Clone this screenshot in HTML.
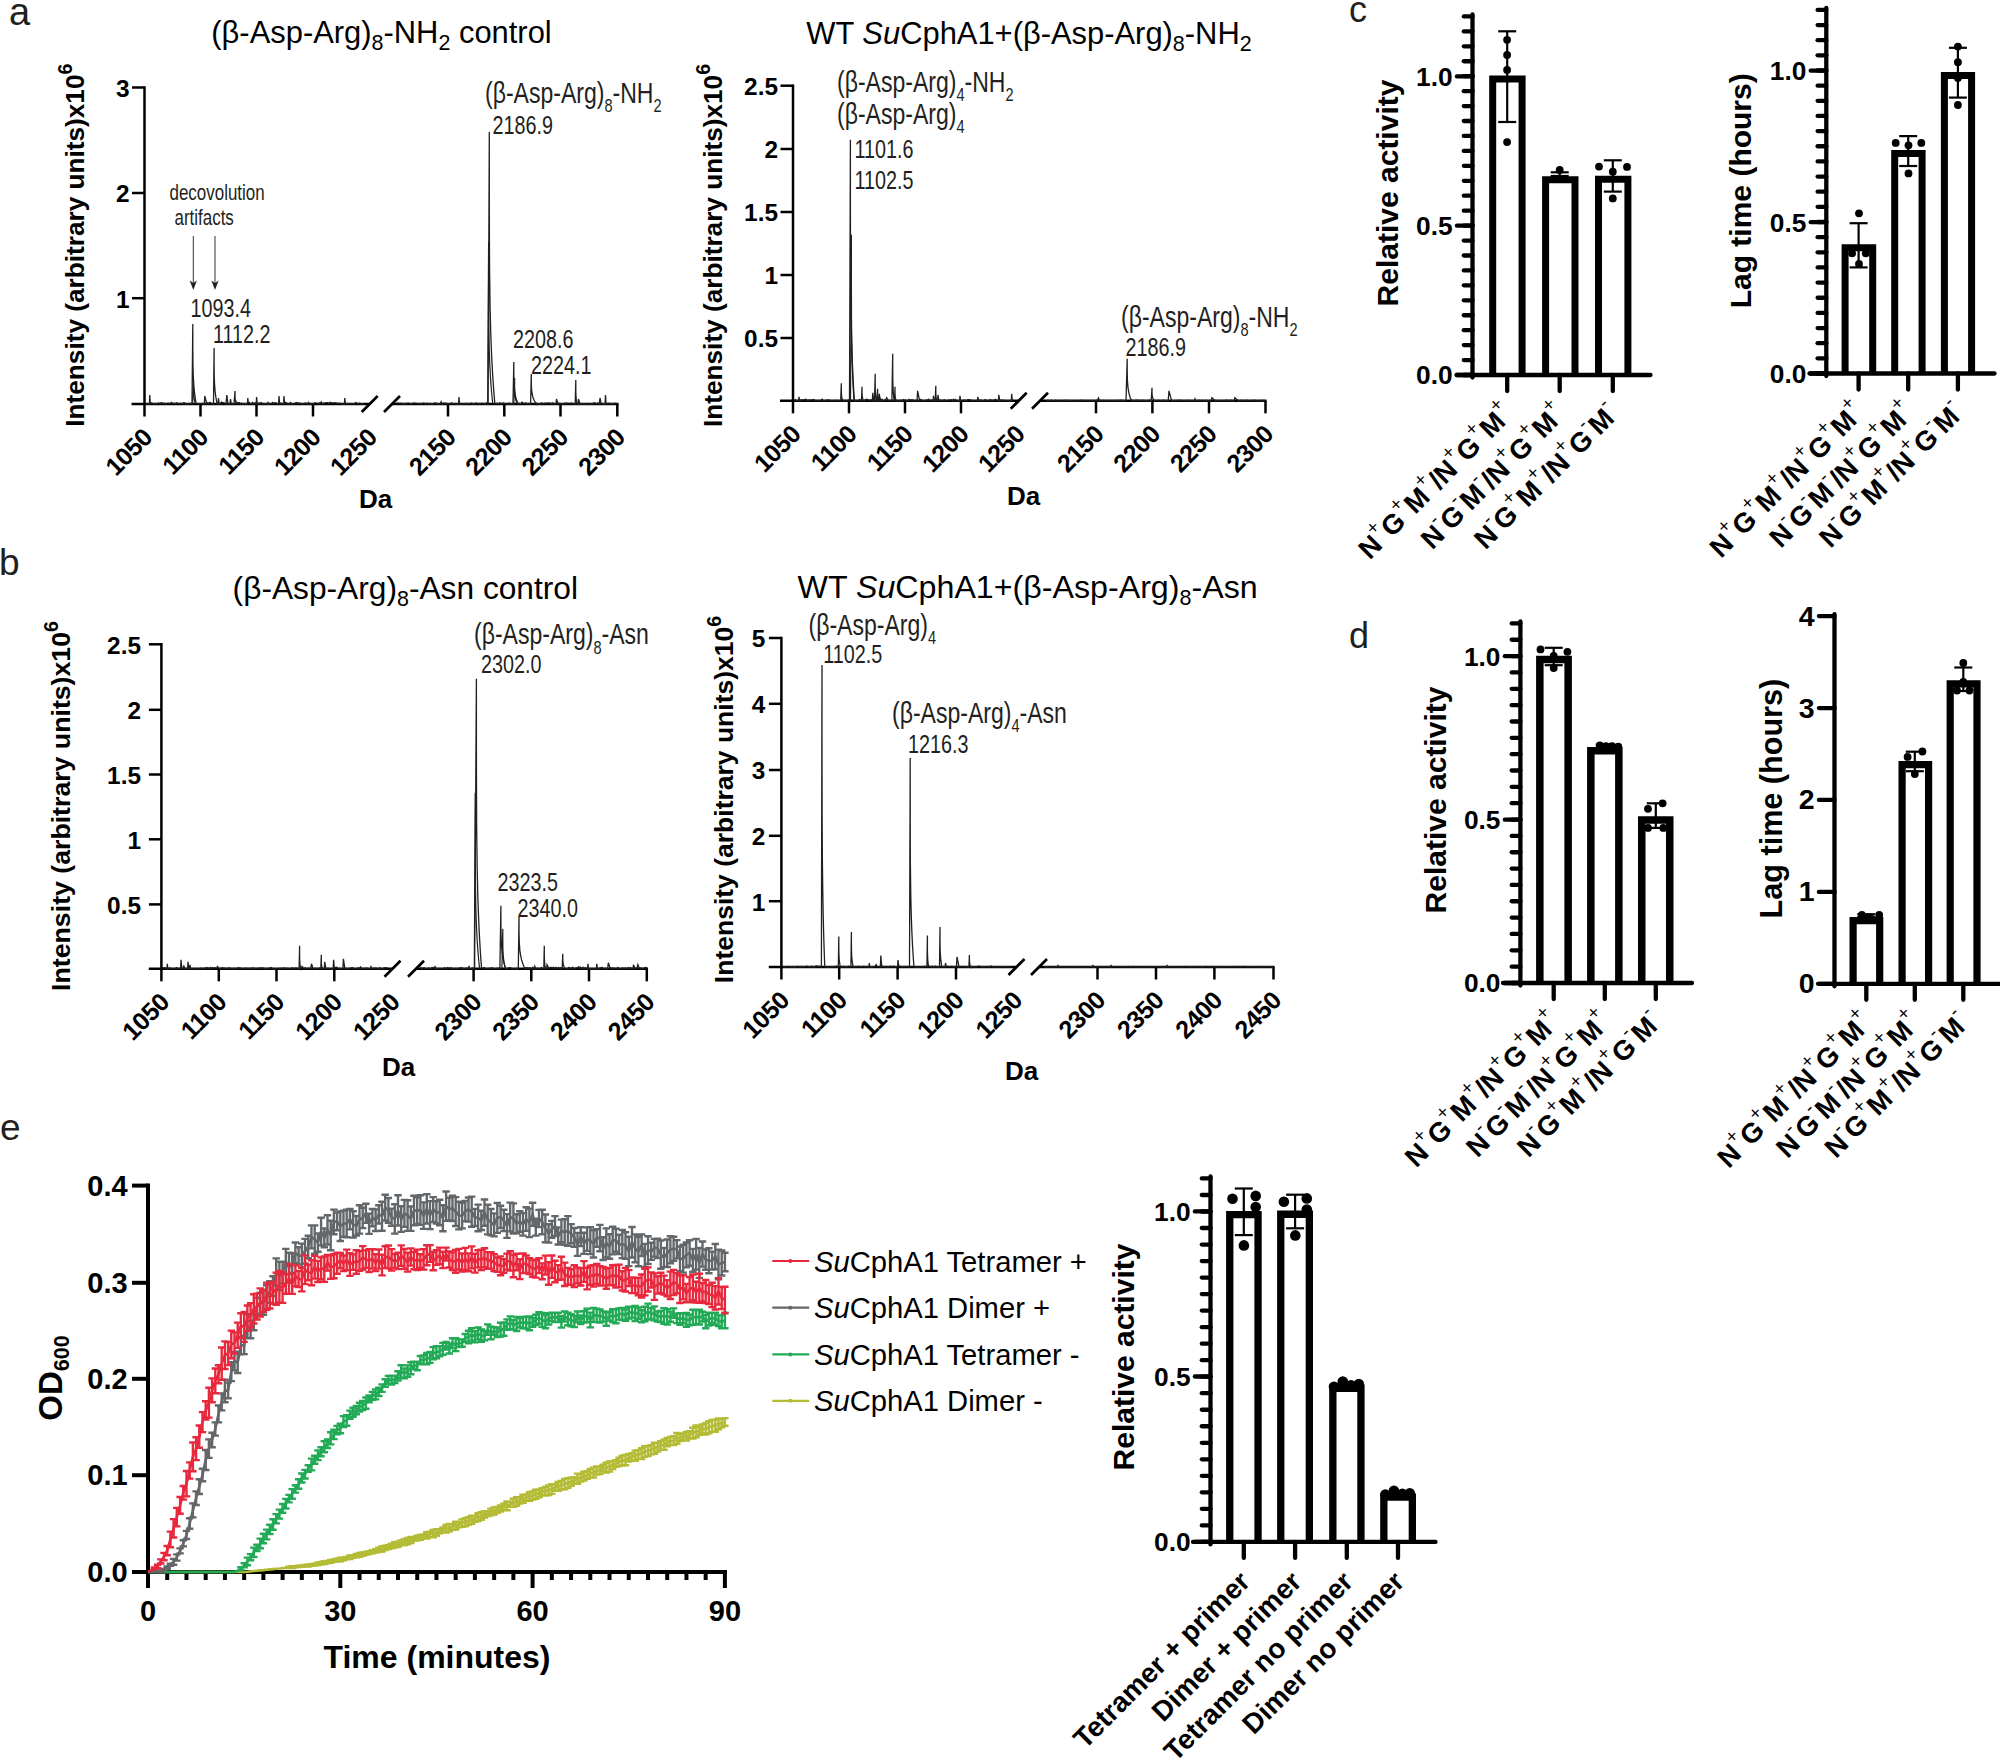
<!DOCTYPE html>
<html><head><meta charset="utf-8"><title>Figure</title>
<style>
html,body{margin:0;padding:0;background:#fff;}
svg{display:block;font-family:'Liberation Sans', sans-serif;}
</style></head>
<body>
<svg width="2000" height="1759" viewBox="0 0 2000 1759">
<rect width="2000" height="1759" fill="#fff"/>
<text transform="translate(9.00 24.50)" font-size="38" font-weight="normal" text-anchor="start" fill="#231f20" >a</text>
<text transform="translate(-1.00 575.00)" font-size="37" font-weight="normal" text-anchor="start" fill="#231f20" >b</text>
<text transform="translate(1349.00 21.50)" font-size="36" font-weight="normal" text-anchor="start" fill="#231f20" >c</text>
<text transform="translate(1349.00 648.00)" font-size="36" font-weight="normal" text-anchor="start" fill="#231f20" >d</text>
<text transform="translate(0.00 1139.50)" font-size="37" font-weight="normal" text-anchor="start" fill="#231f20" >e</text>
<line x1="144.50" y1="86.25" x2="144.50" y2="405.25" stroke="#000" stroke-width="2.5" stroke-linecap="butt"/>
<line x1="131.50" y1="404.00" x2="369.70" y2="404.00" stroke="#000" stroke-width="2.5" stroke-linecap="butt"/>
<line x1="392.00" y1="404.00" x2="618.50" y2="404.00" stroke="#000" stroke-width="2.5" stroke-linecap="butt"/>
<line x1="361.70" y1="412.00" x2="377.70" y2="396.00" stroke="#000" stroke-width="2.7" stroke-linecap="butt"/>
<line x1="384.00" y1="412.00" x2="400.00" y2="396.00" stroke="#000" stroke-width="2.7" stroke-linecap="butt"/>
<line x1="144.50" y1="404.00" x2="144.50" y2="416.50" stroke="#000" stroke-width="2.5" stroke-linecap="butt"/>
<text transform="translate(153.80 439.00) rotate(-45)" font-size="25" font-weight="bold" text-anchor="end" fill="#000" letter-spacing="-0.5">1050</text>
<line x1="200.50" y1="404.00" x2="200.50" y2="416.50" stroke="#000" stroke-width="2.5" stroke-linecap="butt"/>
<text transform="translate(209.80 439.00) rotate(-45)" font-size="25" font-weight="bold" text-anchor="end" fill="#000" letter-spacing="-0.5">1100</text>
<line x1="256.50" y1="404.00" x2="256.50" y2="416.50" stroke="#000" stroke-width="2.5" stroke-linecap="butt"/>
<text transform="translate(265.80 439.00) rotate(-45)" font-size="25" font-weight="bold" text-anchor="end" fill="#000" letter-spacing="-0.5">1150</text>
<line x1="313.00" y1="404.00" x2="313.00" y2="416.50" stroke="#000" stroke-width="2.5" stroke-linecap="butt"/>
<text transform="translate(322.30 439.00) rotate(-45)" font-size="25" font-weight="bold" text-anchor="end" fill="#000" letter-spacing="-0.5">1200</text>
<text transform="translate(378.50 439.00) rotate(-45)" font-size="25" font-weight="bold" text-anchor="end" fill="#000" letter-spacing="-0.5">1250</text>
<line x1="448.00" y1="404.00" x2="448.00" y2="416.50" stroke="#000" stroke-width="2.5" stroke-linecap="butt"/>
<text transform="translate(457.30 439.00) rotate(-45)" font-size="25" font-weight="bold" text-anchor="end" fill="#000" letter-spacing="-0.5">2150</text>
<line x1="504.30" y1="404.00" x2="504.30" y2="416.50" stroke="#000" stroke-width="2.5" stroke-linecap="butt"/>
<text transform="translate(513.60 439.00) rotate(-45)" font-size="25" font-weight="bold" text-anchor="end" fill="#000" letter-spacing="-0.5">2200</text>
<line x1="560.50" y1="404.00" x2="560.50" y2="416.50" stroke="#000" stroke-width="2.5" stroke-linecap="butt"/>
<text transform="translate(569.80 439.00) rotate(-45)" font-size="25" font-weight="bold" text-anchor="end" fill="#000" letter-spacing="-0.5">2250</text>
<line x1="617.30" y1="404.00" x2="617.30" y2="416.50" stroke="#000" stroke-width="2.5" stroke-linecap="butt"/>
<text transform="translate(626.60 439.00) rotate(-45)" font-size="25" font-weight="bold" text-anchor="end" fill="#000" letter-spacing="-0.5">2300</text>
<line x1="132.00" y1="87.50" x2="144.50" y2="87.50" stroke="#000" stroke-width="2.5" stroke-linecap="butt"/>
<text transform="translate(129.50 96.90)" font-size="24.4" font-weight="bold" text-anchor="end" fill="#000" >3</text>
<line x1="132.00" y1="193.00" x2="144.50" y2="193.00" stroke="#000" stroke-width="2.5" stroke-linecap="butt"/>
<text transform="translate(129.50 202.40)" font-size="24.4" font-weight="bold" text-anchor="end" fill="#000" >2</text>
<line x1="132.00" y1="298.20" x2="144.50" y2="298.20" stroke="#000" stroke-width="2.5" stroke-linecap="butt"/>
<text transform="translate(129.50 307.60)" font-size="24.4" font-weight="bold" text-anchor="end" fill="#000" >1</text>
<text transform="translate(84.30 245.20) rotate(-90)" font-size="26.2" font-weight="bold" text-anchor="middle" fill="#000" >Intensity (arbitrary units)x10<tspan font-size="19.5" dy="-12">6</tspan></text>
<text transform="translate(375.50 508.00)" font-size="26" font-weight="bold" text-anchor="middle" fill="#000" >Da</text>
<text transform="translate(381.50 43.00)" font-size="30.9" font-weight="normal" text-anchor="middle" fill="#000" >(β-Asp-Arg)<tspan font-size="21.5" dy="7">8</tspan><tspan dy="-7">&#8203;</tspan>-NH<tspan font-size="21.5" dy="7">2</tspan><tspan dy="-7">&#8203;</tspan> control</text>
<path d="M146.0 404.0L146.0 404.0L147.3 404.0L149.4 404.0L149.8 395.0L150.3 404.0L150.3 402.7L151.0 403.3L151.6 402.8L153.1 404.0L154.3 403.4L155.3 404.0L156.4 403.6L157.2 403.5L158.6 403.0L160.1 403.8L161.4 402.5L162.8 403.5L164.3 403.2L164.9 404.0L166.0 404.0L167.3 403.4L168.4 403.2L169.4 404.0L170.7 403.1L171.5 402.4L172.7 403.6L174.2 403.3L175.3 404.0L176.7 402.8L177.8 403.3L179.2 403.7L180.3 403.4L181.5 403.3L182.4 404.0L183.8 402.7L184.7 402.9L185.4 404.0L186.3 404.0L187.2 404.0L188.3 404.0L189.6 403.5L190.3 403.3L192.0 404.0L192.8 324.0L192.82 348.0L192.95 364.0L193.29 376.0L193.73 384.0L194.27 390.4L194.81 395.2L195.25 398.4L195.63 400.8L195.90 402.4L196.20 404.0L196.2 403.2L197.4 403.5L198.7 404.0L199.9 403.6L201.3 403.6L202.3 403.5L203.0 404.0L204.3 404.0L204.8 396.0L206.8 404.0L206.8 404.0L207.7 402.8L208.6 404.0L209.3 402.5L210.1 402.4L211.2 403.4L213.5 404.0L214.1 348.0L214.11 364.8L214.24 376.0L214.56 384.4L214.98 390.0L215.48 394.5L215.99 397.8L216.41 400.1L216.76 401.8L217.02 402.9L217.30 404.0L218.1 404.0L218.5 398.0L219.1 404.0L219.1 403.7L220.3 404.0L221.3 402.0L222.2 402.7L223.1 402.7L224.1 402.9L226.0 404.0L226.8 395.0L228.0 404.0L228.0 404.0L228.7 404.0L230.0 404.0L230.5 399.0L231.3 404.0L231.3 403.0L232.3 404.0L234.0 404.0L235.0 391.0L235.01 394.9L235.08 397.5L235.26 399.4L235.49 400.8L235.78 401.8L236.07 402.6L236.30 403.1L236.50 403.5L236.64 403.7L236.80 404.0L236.8 402.5L237.6 403.8L238.3 402.7L239.3 402.7L240.4 404.0L241.3 403.1L242.4 404.0L243.8 404.0L244.5 404.0L245.2 404.0L246.2 404.0L247.4 404.0L247.8 398.0L248.4 404.0L248.4 403.8L249.4 402.5L250.3 403.8L251.0 404.0L251.9 403.3L252.6 402.4L253.4 404.0L254.9 402.9L256.2 404.0L256.6 397.0L257.2 404.0L257.2 403.5L257.9 404.0L259.0 403.0L260.0 404.0L260.9 402.6L261.9 403.1L262.8 404.0L263.5 403.9L264.7 404.0L265.8 403.8L267.2 404.0L268.0 402.4L268.9 404.0L270.4 404.0L271.2 403.9L272.6 402.5L273.9 403.7L274.7 402.9L275.4 402.7L276.6 403.3L278.6 404.0L279.0 396.0L279.6 404.0L279.6 404.0L280.8 403.1L281.8 404.0L283.6 404.0L284.0 396.0L284.6 404.0L284.6 403.4L285.8 402.4L286.9 403.3L288.2 404.0L289.3 404.0L290.4 402.5L291.7 404.0L292.8 403.7L294.2 404.0L295.6 402.9L296.8 402.6L298.0 404.0L298.8 402.8L300.1 403.4L300.9 403.9L302.3 403.6L303.8 404.0L305.2 402.9L306.6 403.4L307.7 404.0L308.4 402.5L309.6 403.8L310.5 404.0L311.6 404.0L312.8 403.7L313.9 404.0L314.8 402.7L316.3 403.2L317.6 403.4L318.4 403.8L319.5 402.8L320.3 403.1L321.4 401.8L322.5 404.0L323.8 403.2L324.8 403.2L326.0 402.7L327.5 402.7L328.8 403.5L330.0 402.3L331.1 402.6L332.4 402.8L333.7 403.0L334.7 403.0L336.1 402.8L337.3 404.0L338.5 403.1L339.9 403.3L341.0 403.3L342.3 404.0L344.4 404.0L344.8 398.0L345.4 404.0L345.4 403.4L346.6 404.0L348.0 404.0L349.4 403.4L350.7 404.0L352.0 403.6L352.9 403.7L354.3 404.0L355.8 402.6L357.3 403.5L358.6 403.7L359.4 403.3L360.7 403.6L361.5 404.0L362.5 403.6L363.8 404.0L364.0 404.0" fill="none" stroke="#231f20" stroke-width="1.3" stroke-linejoin="miter"/>
<path d="M398.0 404.0L398.0 402.9L398.7 403.1L399.7 403.3L400.5 403.5L402.0 403.3L402.9 404.0L404.0 404.0L405.4 403.3L406.1 404.0L407.2 403.2L408.6 403.1L410.0 403.6L411.5 404.0L412.8 403.4L414.2 403.0L415.7 403.4L417.2 403.4L418.1 403.8L419.0 403.6L420.3 403.4L421.5 404.0L422.6 403.3L423.9 402.9L425.3 404.0L426.2 404.0L426.9 403.0L427.8 403.5L428.5 403.8L429.2 404.0L429.9 404.0L430.7 404.0L431.7 404.0L432.5 404.0L433.7 403.9L434.3 403.1L435.8 403.0L436.9 404.0L437.8 404.0L439.2 404.0L440.2 403.8L441.1 401.8L441.9 404.0L442.7 404.0L443.8 402.9L444.7 403.7L445.9 403.1L446.9 404.0L448.0 404.0L448.8 404.0L449.7 404.0L450.8 404.0L451.6 402.8L452.6 403.3L453.7 403.8L455.0 403.4L456.2 404.0L457.2 404.0L458.6 404.0L459.0 397.0L459.6 404.0L459.6 404.0L460.9 404.0L461.9 403.8L462.6 404.0L464.1 404.0L464.9 403.5L466.2 403.9L467.0 403.2L468.2 404.0L469.6 403.4L470.6 403.7L471.7 403.0L473.1 404.0L474.2 404.0L475.5 403.3L476.2 402.8L477.2 404.0L478.7 403.2L479.6 404.0L480.9 403.4L482.0 403.1L483.1 403.7L484.2 403.5L485.5 403.8L486.2 402.9L488.1 404.0L489.3 132.0L489.32 213.6L489.55 268.0L490.11 308.8L490.83 336.0L491.72 357.8L492.61 374.1L493.34 385.0L493.96 393.1L494.41 398.6L494.90 404.0L494.9 403.5L496.4 403.4L497.3 403.2L498.7 404.0L499.8 402.8L500.4 403.1L501.7 404.0L503.0 402.9L503.7 403.1L505.0 403.8L505.8 403.5L507.0 403.8L507.7 404.0L509.1 403.1L510.3 404.0L511.4 404.0L513.0 404.0L513.8 362.0L513.82 374.6L513.99 383.0L514.43 389.3L515.01 393.5L515.70 396.9L516.40 399.4L516.97 401.1L517.46 402.3L517.82 403.2L518.20 404.0L518.2 404.0L519.6 403.2L521.0 404.0L522.0 402.0L523.5 403.4L524.5 403.6L525.6 402.9L527.0 404.0L528.4 403.5L529.1 403.5L530.6 404.0L531.3 374.0L531.32 383.0L531.53 389.0L532.05 393.5L532.72 396.5L533.55 398.9L534.38 400.7L535.05 401.9L535.63 402.8L536.05 403.4L536.50 404.0L536.5 403.2L537.4 403.7L538.9 404.0L539.9 403.6L540.9 404.0L541.8 402.9L543.1 403.6L543.9 404.0L544.9 403.0L546.3 403.5L547.3 402.9L548.5 403.1L549.9 403.1L550.9 403.2L551.9 404.0L552.8 402.9L554.3 404.0L556.0 404.0L556.5 399.0L558.0 404.0L558.0 402.9L559.3 403.3L560.7 403.7L561.5 404.0L562.3 404.0L563.1 403.7L564.0 404.0L565.0 403.1L565.8 403.5L566.5 403.0L567.9 403.5L568.9 403.3L570.3 403.3L571.8 403.0L572.8 403.9L575.2 404.0L575.8 380.0L575.81 387.2L575.85 392.0L575.97 395.6L576.13 398.0L576.32 399.9L576.51 401.4L576.67 402.3L576.80 403.0L576.90 403.5L577.00 404.0L578.0 404.0L578.5 399.0L580.0 404.0L580.0 404.0L581.3 403.9L582.6 404.0L583.6 404.0L584.8 404.0L586.1 404.0L586.9 403.3L588.0 404.0L589.5 403.4L590.9 404.0L591.7 404.0L592.6 404.0L593.6 403.0L594.9 402.9L595.6 403.2L596.6 404.0L597.6 403.0L599.2 404.0L600.0 398.0L601.2 404.0L601.2 403.7L602.7 404.0L605.1 404.0L605.5 395.0L606.1 404.0L606.1 404.0L606.9 404.0L608.2 403.1L609.2 404.0L610.6 403.3L611.5 404.0L612.6 404.0L614.1 403.4L615.0 403.2L616.4 403.5L617.0 404.0" fill="none" stroke="#231f20" stroke-width="1.3" stroke-linejoin="miter"/>
<path d="M487.7 404.0L488.6 242.0L488.62 290.6L488.79 323.0L489.20 347.3L489.75 363.5L490.42 376.5L491.09 386.2L491.63 392.7L492.10 397.5L492.44 400.8L492.80 404.0" fill="none" stroke="#231f20" stroke-width="1.2"/>
<path d="M513.8 404.0L514.6 378.0L514.61 385.8L514.71 391.0L514.97 394.9L515.31 397.5L515.72 399.6L516.14 401.1L516.48 402.2L516.76 403.0L516.97 403.5L517.20 404.0" fill="none" stroke="#231f20" stroke-width="1.2"/>
<path d="M192.6 404.0L193.4 378.0L193.41 385.8L193.50 391.0L193.72 394.9L194.00 397.5L194.35 399.6L194.70 401.1L194.99 402.2L195.23 403.0L195.41 403.5L195.60 404.0" fill="none" stroke="#231f20" stroke-width="1.2"/>
<text transform="translate(485.00 102.50) scale(0.8 1)" font-size="28.8" font-weight="normal" text-anchor="start" fill="#231f20" >(β-Asp-Arg)<tspan font-size="18.2" dy="9.4">8</tspan><tspan dy="-9.4">&#8203;</tspan>-NH<tspan font-size="18.2" dy="9.4">2</tspan><tspan dy="-9.4">&#8203;</tspan></text>
<text transform="translate(492.50 133.70) scale(0.775 1)" font-size="25.5" font-weight="normal" text-anchor="start" fill="#231f20" >2186.9</text>
<text transform="translate(169.50 199.50) scale(0.8 1)" font-size="21.2" font-weight="normal" text-anchor="start" fill="#231f20" >decovolution</text>
<text transform="translate(174.50 225.00) scale(0.8 1)" font-size="21.2" font-weight="normal" text-anchor="start" fill="#231f20" >artifacts</text>
<text transform="translate(190.50 317.00) scale(0.775 1)" font-size="25.5" font-weight="normal" text-anchor="start" fill="#231f20" >1093.4</text>
<text transform="translate(213.00 343.00) scale(0.775 1)" font-size="25.5" font-weight="normal" text-anchor="start" fill="#231f20" >1112.2</text>
<text transform="translate(513.00 347.50) scale(0.775 1)" font-size="25.5" font-weight="normal" text-anchor="start" fill="#231f20" >2208.6</text>
<text transform="translate(531.00 374.00) scale(0.775 1)" font-size="25.5" font-weight="normal" text-anchor="start" fill="#231f20" >2224.1</text>
<line x1="193.30" y1="236.00" x2="193.30" y2="283.00" stroke="#231f20" stroke-width="0.9" stroke-linecap="butt"/>
<path d="M189.7 280.5L193.3 290L196.9 280.5L193.3 283Z" fill="#231f20"/>
<line x1="215.00" y1="236.00" x2="215.00" y2="283.00" stroke="#231f20" stroke-width="0.9" stroke-linecap="butt"/>
<path d="M211.4 280.5L215.0 290L218.6 280.5L215.0 283Z" fill="#231f20"/>
<line x1="793.00" y1="84.45" x2="793.00" y2="402.05" stroke="#000" stroke-width="2.5" stroke-linecap="butt"/>
<line x1="780.00" y1="400.80" x2="1018.70" y2="400.80" stroke="#000" stroke-width="2.5" stroke-linecap="butt"/>
<line x1="1040.00" y1="400.80" x2="1266.50" y2="400.80" stroke="#000" stroke-width="2.5" stroke-linecap="butt"/>
<line x1="1010.70" y1="408.80" x2="1026.70" y2="392.80" stroke="#000" stroke-width="2.7" stroke-linecap="butt"/>
<line x1="1032.00" y1="408.80" x2="1048.00" y2="392.80" stroke="#000" stroke-width="2.7" stroke-linecap="butt"/>
<line x1="793.00" y1="400.80" x2="793.00" y2="413.30" stroke="#000" stroke-width="2.5" stroke-linecap="butt"/>
<text transform="translate(802.30 435.80) rotate(-45)" font-size="25" font-weight="bold" text-anchor="end" fill="#000" letter-spacing="-0.5">1050</text>
<line x1="849.00" y1="400.80" x2="849.00" y2="413.30" stroke="#000" stroke-width="2.5" stroke-linecap="butt"/>
<text transform="translate(858.30 435.80) rotate(-45)" font-size="25" font-weight="bold" text-anchor="end" fill="#000" letter-spacing="-0.5">1100</text>
<line x1="905.00" y1="400.80" x2="905.00" y2="413.30" stroke="#000" stroke-width="2.5" stroke-linecap="butt"/>
<text transform="translate(914.30 435.80) rotate(-45)" font-size="25" font-weight="bold" text-anchor="end" fill="#000" letter-spacing="-0.5">1150</text>
<line x1="961.00" y1="400.80" x2="961.00" y2="413.30" stroke="#000" stroke-width="2.5" stroke-linecap="butt"/>
<text transform="translate(970.30 435.80) rotate(-45)" font-size="25" font-weight="bold" text-anchor="end" fill="#000" letter-spacing="-0.5">1200</text>
<text transform="translate(1026.30 435.80) rotate(-45)" font-size="25" font-weight="bold" text-anchor="end" fill="#000" letter-spacing="-0.5">1250</text>
<line x1="1096.00" y1="400.80" x2="1096.00" y2="413.30" stroke="#000" stroke-width="2.5" stroke-linecap="butt"/>
<text transform="translate(1105.30 435.80) rotate(-45)" font-size="25" font-weight="bold" text-anchor="end" fill="#000" letter-spacing="-0.5">2150</text>
<line x1="1152.40" y1="400.80" x2="1152.40" y2="413.30" stroke="#000" stroke-width="2.5" stroke-linecap="butt"/>
<text transform="translate(1161.70 435.80) rotate(-45)" font-size="25" font-weight="bold" text-anchor="end" fill="#000" letter-spacing="-0.5">2200</text>
<line x1="1209.00" y1="400.80" x2="1209.00" y2="413.30" stroke="#000" stroke-width="2.5" stroke-linecap="butt"/>
<text transform="translate(1218.30 435.80) rotate(-45)" font-size="25" font-weight="bold" text-anchor="end" fill="#000" letter-spacing="-0.5">2250</text>
<line x1="1265.50" y1="400.80" x2="1265.50" y2="413.30" stroke="#000" stroke-width="2.5" stroke-linecap="butt"/>
<text transform="translate(1274.80 435.80) rotate(-45)" font-size="25" font-weight="bold" text-anchor="end" fill="#000" letter-spacing="-0.5">2300</text>
<line x1="780.50" y1="85.70" x2="793.00" y2="85.70" stroke="#000" stroke-width="2.5" stroke-linecap="butt"/>
<text transform="translate(778.00 95.10)" font-size="24.4" font-weight="bold" text-anchor="end" fill="#000" >2.5</text>
<line x1="780.50" y1="149.00" x2="793.00" y2="149.00" stroke="#000" stroke-width="2.5" stroke-linecap="butt"/>
<text transform="translate(778.00 158.40)" font-size="24.4" font-weight="bold" text-anchor="end" fill="#000" >2</text>
<line x1="780.50" y1="212.00" x2="793.00" y2="212.00" stroke="#000" stroke-width="2.5" stroke-linecap="butt"/>
<text transform="translate(778.00 221.40)" font-size="24.4" font-weight="bold" text-anchor="end" fill="#000" >1.5</text>
<line x1="780.50" y1="275.00" x2="793.00" y2="275.00" stroke="#000" stroke-width="2.5" stroke-linecap="butt"/>
<text transform="translate(778.00 284.40)" font-size="24.4" font-weight="bold" text-anchor="end" fill="#000" >1</text>
<line x1="780.50" y1="338.00" x2="793.00" y2="338.00" stroke="#000" stroke-width="2.5" stroke-linecap="butt"/>
<text transform="translate(778.00 347.40)" font-size="24.4" font-weight="bold" text-anchor="end" fill="#000" >0.5</text>
<text transform="translate(721.70 245.50) rotate(-90)" font-size="26.2" font-weight="bold" text-anchor="middle" fill="#000" >Intensity (arbitrary units)x10<tspan font-size="19.5" dy="-12">6</tspan></text>
<text transform="translate(1023.50 505.00)" font-size="26" font-weight="bold" text-anchor="middle" fill="#000" >Da</text>
<text transform="translate(1029.00 43.50)" font-size="30.9" font-weight="normal" text-anchor="middle" fill="#000" >WT <tspan font-style="italic">Su</tspan>CphA1+(β-Asp-Arg)<tspan font-size="21.5" dy="7">8</tspan><tspan dy="-7">&#8203;</tspan>-NH<tspan font-size="21.5" dy="7">2</tspan><tspan dy="-7">&#8203;</tspan></text>
<path d="M794.5 400.8L794.5 400.8L795.5 399.9L796.2 400.4L798.6 400.8L799.0 396.8L799.6 400.8L799.6 399.5L800.8 400.8L802.2 399.7L803.0 399.9L803.6 400.1L805.1 399.4L806.4 399.4L807.2 400.8L808.7 399.9L809.8 400.3L811.0 399.8L812.4 399.8L813.8 399.4L815.1 400.8L816.3 400.8L817.7 400.7L818.7 400.8L820.0 400.7L820.7 400.3L822.3 399.3L823.0 400.8L824.0 400.6L825.4 400.8L826.9 400.1L828.1 400.0L829.6 400.2L830.5 400.8L831.6 400.8L832.8 400.8L834.0 400.8L835.0 400.3L836.3 400.8L837.6 400.4L838.8 400.8L840.7 400.8L841.3 383.3L841.31 388.6L841.36 392.1L841.50 394.7L841.68 396.4L841.91 397.8L842.13 398.9L842.31 399.6L842.47 400.1L842.58 400.4L842.70 400.8L842.7 399.9L843.7 400.8L845.0 400.8L846.4 400.8L847.4 400.6L848.4 400.1L849.5 400.8L850.4 139.8L850.42 218.1L850.58 270.3L850.98 309.5L851.50 335.6L852.13 356.4L852.77 372.1L853.29 382.5L853.73 390.4L854.05 395.6L854.40 400.8L854.4 400.8L855.8 400.5L857.0 400.8L858.4 400.8L859.7 399.6L861.5 400.8L862.0 386.8L862.01 391.0L862.07 393.8L862.23 395.9L862.44 397.3L862.69 398.4L862.95 399.3L863.15 399.8L863.33 400.2L863.46 400.5L863.60 400.8L863.6 400.8L864.5 400.8L865.5 399.4L866.2 399.5L867.2 399.4L868.6 399.8L869.5 400.8L870.2 400.4L870.9 399.8L872.3 400.8L872.8 392.8L873.6 400.8L874.5 400.8L875.2 373.8L875.21 381.9L875.26 387.3L875.39 391.4L875.56 394.1L875.76 396.2L875.97 397.8L876.14 398.9L876.28 399.7L876.39 400.3L876.50 400.8L877.1 400.8L877.6 388.8L877.60 392.4L877.64 394.8L877.72 396.6L877.82 397.8L877.95 398.8L878.07 399.5L878.18 400.0L878.27 400.3L878.33 400.6L878.40 400.8L878.9 400.8L879.3 393.8L880.1 400.8L880.1 397.7L880.9 400.8L882.0 399.4L883.0 400.8L884.1 400.3L885.2 400.5L886.7 397.7L888.1 400.8L889.0 400.2L890.3 400.8L891.9 400.8L892.7 353.8L892.71 367.9L892.77 377.3L892.92 384.4L893.11 389.1L893.35 392.8L893.59 395.6L893.78 397.5L893.95 398.9L894.07 399.9L894.20 400.8L894.7 400.8L895.0 386.8L895.01 391.0L895.05 393.8L895.17 395.9L895.33 397.3L895.52 398.4L895.71 399.3L895.87 399.8L896.00 400.2L896.10 400.5L896.20 400.8L896.2 400.8L897.7 400.7L898.7 400.8L899.9 400.3L900.8 400.8L902.1 400.7L903.1 399.6L904.5 400.2L905.6 400.2L906.6 400.8L907.9 400.8L908.9 399.4L910.4 400.4L911.2 399.8L912.5 399.7L913.3 400.8L914.6 400.8L915.4 400.5L917.1 400.8L917.6 390.8L919.6 400.8L919.6 400.8L920.9 399.4L922.2 400.8L923.3 400.6L924.8 400.8L926.0 400.4L926.8 399.7L927.8 400.3L928.6 399.3L929.9 400.8L931.2 400.0L933.1 400.8L933.5 395.8L934.1 400.8L935.2 400.8L935.8 385.8L935.80 390.3L935.84 393.3L935.94 395.6L936.07 397.1L936.23 398.2L936.39 399.2L936.52 399.8L936.63 400.2L936.71 400.5L936.80 400.8L937.6 400.8L938.0 394.8L938.8 400.8L938.8 400.6L940.1 400.0L941.4 400.8L942.2 400.3L943.5 400.4L944.5 399.9L945.4 400.8L946.4 400.8L947.3 400.6L948.4 400.1L949.8 400.1L951.2 399.7L952.3 400.8L953.6 399.4L954.4 400.8L955.3 399.5L956.2 400.3L957.5 400.8L959.6 400.8L960.0 395.8L960.6 400.8L960.6 400.8L961.8 400.8L962.8 400.5L964.3 400.0L965.2 400.6L966.7 400.8L967.7 399.7L968.9 399.6L970.2 399.8L971.0 400.3L972.3 400.5L973.5 400.8L974.7 400.8L975.5 400.8L977.4 400.8L977.8 396.8L978.8 400.8L978.8 399.8L979.7 400.8L981.0 400.0L982.0 400.8L983.4 400.8L984.3 400.3L985.3 399.6L986.7 400.8L987.5 400.8L988.8 400.8L989.8 399.6L991.0 400.8L991.8 399.9L992.7 400.8L994.1 400.2L995.3 399.3L996.2 400.1L998.4 400.8L998.8 394.8L999.8 400.8L999.8 400.8L1001.0 400.0L1001.9 400.7L1003.1 400.0L1004.5 400.8L1005.8 400.8L1006.6 400.8L1008.1 400.8L1009.4 400.8L1011.3 400.8L1011.7 393.8L1012.3 400.8L1012.3 399.7L1013.0 400.8" fill="none" stroke="#231f20" stroke-width="1.3" stroke-linejoin="miter"/>
<path d="M1046.0 400.8L1046.0 400.8L1047.0 400.8L1048.0 400.3L1048.9 400.6L1049.6 400.8L1051.0 400.3L1052.0 400.4L1053.4 400.8L1054.6 400.7L1055.4 400.3L1056.3 400.5L1057.7 400.6L1058.7 400.8L1060.1 400.8L1061.3 400.8L1062.4 400.8L1063.2 400.7L1064.1 400.4L1065.3 400.7L1066.2 400.4L1067.1 400.8L1067.8 400.3L1069.1 400.8L1070.6 400.6L1071.8 400.6L1072.9 400.8L1074.4 400.8L1075.1 400.8L1076.1 400.8L1077.6 400.7L1078.3 400.8L1079.1 400.8L1080.0 400.7L1081.3 400.2L1082.2 400.8L1083.1 400.3L1083.7 400.8L1084.6 400.8L1085.4 400.8L1086.5 400.6L1087.8 400.4L1088.5 400.8L1090.0 400.6L1091.3 400.3L1092.6 400.6L1094.1 400.8L1095.6 400.8L1096.3 400.4L1097.1 400.5L1098.6 398.0L1099.3 400.7L1100.6 400.5L1101.5 400.6L1102.8 400.5L1103.5 400.5L1104.7 400.8L1106.0 400.8L1107.4 400.8L1108.4 400.6L1109.5 400.7L1110.7 400.5L1112.1 400.8L1113.0 400.8L1114.0 400.7L1114.8 400.8L1115.8 400.3L1116.4 400.8L1117.5 400.5L1118.4 400.6L1119.9 400.4L1120.9 400.5L1121.8 400.3L1122.8 400.8L1123.8 400.7L1124.6 400.7L1126.0 400.8L1127.2 358.8L1127.22 371.4L1127.39 379.8L1127.83 386.1L1128.41 390.3L1129.10 393.7L1129.80 396.2L1130.37 397.9L1130.86 399.1L1131.22 400.0L1131.60 400.8L1131.6 400.6L1132.3 400.2L1133.6 400.8L1134.3 400.8L1135.6 400.3L1136.4 400.5L1137.9 400.2L1139.2 400.4L1140.6 400.8L1141.6 400.3L1142.5 400.8L1143.7 400.3L1144.7 400.6L1145.4 400.8L1146.7 400.6L1147.9 400.8L1149.4 400.2L1151.2 400.8L1152.0 387.8L1152.01 391.7L1152.10 394.3L1152.32 396.2L1152.60 397.6L1152.95 398.6L1153.30 399.4L1153.59 399.9L1153.83 400.3L1154.01 400.5L1154.20 400.8L1154.2 400.8L1155.1 400.3L1155.8 400.8L1157.3 400.8L1158.6 400.2L1159.7 400.8L1160.4 400.8L1161.1 400.6L1162.4 400.4L1163.8 400.5L1165.1 400.5L1166.5 400.8L1168.2 400.8L1169.0 390.8L1171.6 400.8L1171.6 400.8L1172.9 400.6L1173.9 400.8L1174.6 400.7L1176.0 400.7L1177.1 400.7L1178.6 400.2L1179.6 400.3L1180.3 400.3L1181.6 400.4L1182.8 400.8L1184.0 400.8L1185.2 400.8L1186.7 400.3L1188.0 400.5L1188.9 400.8L1190.0 400.4L1190.9 400.8L1192.3 400.7L1194.5 400.8L1195.0 398.8L1196.0 400.8L1196.0 400.8L1197.2 400.8L1197.9 400.7L1199.3 400.3L1200.3 400.8L1201.9 400.3L1203.1 400.4L1203.9 400.8L1205.4 400.8L1206.4 400.3L1207.6 400.8L1208.3 400.8L1209.8 400.8L1211.0 400.8L1212.0 397.8L1215.0 400.8L1215.0 400.7L1215.8 400.4L1216.9 400.8L1218.0 400.7L1219.4 400.8L1220.3 400.4L1221.1 400.7L1221.7 400.7L1222.4 400.8L1224.0 400.6L1224.8 400.8L1226.3 400.2L1227.7 400.4L1228.5 400.8L1229.6 400.5L1230.9 400.3L1231.7 400.8L1232.8 400.8L1234.0 400.8L1235.0 397.8L1238.0 400.8L1238.0 400.4L1238.8 400.8L1239.7 400.8L1241.1 400.2L1241.8 400.8L1242.8 400.8L1243.8 400.5L1244.5 400.4L1245.3 400.8L1246.7 400.2L1247.5 400.4L1248.8 400.8L1250.2 400.8L1251.0 400.8L1252.0 400.7L1253.2 400.2L1254.1 400.8L1255.2 400.3L1256.3 400.8L1257.5 400.7L1258.7 400.8L1260.1 400.8L1261.5 400.5L1262.2 400.3L1263.3 400.8L1264.8 400.6L1265.0 400.8" fill="none" stroke="#231f20" stroke-width="1.3" stroke-linejoin="miter"/>
<path d="M850.5 400.8L851.4 234.8L851.41 284.6L851.51 317.8L851.77 342.7L852.11 359.3L852.52 372.6L852.94 382.5L853.28 389.2L853.56 394.2L853.77 397.5L854.00 400.8" fill="none" stroke="#231f20" stroke-width="1.2"/>
<text transform="translate(837.00 91.50) scale(0.8 1)" font-size="28.8" font-weight="normal" text-anchor="start" fill="#231f20" >(β-Asp-Arg)<tspan font-size="18.2" dy="9.4">4</tspan><tspan dy="-9.4">&#8203;</tspan>-NH<tspan font-size="18.2" dy="9.4">2</tspan><tspan dy="-9.4">&#8203;</tspan></text>
<text transform="translate(837.00 123.50) scale(0.8 1)" font-size="28.8" font-weight="normal" text-anchor="start" fill="#231f20" >(β-Asp-Arg)<tspan font-size="18.2" dy="9.4">4</tspan><tspan dy="-9.4">&#8203;</tspan></text>
<text transform="translate(854.50 158.00) scale(0.775 1)" font-size="25.5" font-weight="normal" text-anchor="start" fill="#231f20" >1101.6</text>
<text transform="translate(854.50 188.50) scale(0.775 1)" font-size="25.5" font-weight="normal" text-anchor="start" fill="#231f20" >1102.5</text>
<text transform="translate(1121.00 327.00) scale(0.8 1)" font-size="28.8" font-weight="normal" text-anchor="start" fill="#231f20" >(β-Asp-Arg)<tspan font-size="18.2" dy="9.4">8</tspan><tspan dy="-9.4">&#8203;</tspan>-NH<tspan font-size="18.2" dy="9.4">2</tspan><tspan dy="-9.4">&#8203;</tspan></text>
<text transform="translate(1125.50 355.50) scale(0.775 1)" font-size="25.5" font-weight="normal" text-anchor="start" fill="#231f20" >2186.9</text>
<line x1="161.40" y1="643.05" x2="161.40" y2="970.05" stroke="#000" stroke-width="2.5" stroke-linecap="butt"/>
<line x1="148.80" y1="968.80" x2="392.50" y2="968.80" stroke="#000" stroke-width="2.5" stroke-linecap="butt"/>
<line x1="416.00" y1="968.80" x2="648.00" y2="968.80" stroke="#000" stroke-width="2.5" stroke-linecap="butt"/>
<line x1="384.50" y1="976.80" x2="400.50" y2="960.80" stroke="#000" stroke-width="2.7" stroke-linecap="butt"/>
<line x1="408.00" y1="976.80" x2="424.00" y2="960.80" stroke="#000" stroke-width="2.7" stroke-linecap="butt"/>
<line x1="161.40" y1="968.80" x2="161.40" y2="981.30" stroke="#000" stroke-width="2.5" stroke-linecap="butt"/>
<text transform="translate(170.70 1003.80) rotate(-45)" font-size="25" font-weight="bold" text-anchor="end" fill="#000" letter-spacing="-0.5">1050</text>
<line x1="218.80" y1="968.80" x2="218.80" y2="981.30" stroke="#000" stroke-width="2.5" stroke-linecap="butt"/>
<text transform="translate(228.10 1003.80) rotate(-45)" font-size="25" font-weight="bold" text-anchor="end" fill="#000" letter-spacing="-0.5">1100</text>
<line x1="276.50" y1="968.80" x2="276.50" y2="981.30" stroke="#000" stroke-width="2.5" stroke-linecap="butt"/>
<text transform="translate(285.80 1003.80) rotate(-45)" font-size="25" font-weight="bold" text-anchor="end" fill="#000" letter-spacing="-0.5">1150</text>
<line x1="334.30" y1="968.80" x2="334.30" y2="981.30" stroke="#000" stroke-width="2.5" stroke-linecap="butt"/>
<text transform="translate(343.60 1003.80) rotate(-45)" font-size="25" font-weight="bold" text-anchor="end" fill="#000" letter-spacing="-0.5">1200</text>
<text transform="translate(401.30 1003.80) rotate(-45)" font-size="25" font-weight="bold" text-anchor="end" fill="#000" letter-spacing="-0.5">1250</text>
<line x1="473.60" y1="968.80" x2="473.60" y2="981.30" stroke="#000" stroke-width="2.5" stroke-linecap="butt"/>
<text transform="translate(482.90 1003.80) rotate(-45)" font-size="25" font-weight="bold" text-anchor="end" fill="#000" letter-spacing="-0.5">2300</text>
<line x1="531.30" y1="968.80" x2="531.30" y2="981.30" stroke="#000" stroke-width="2.5" stroke-linecap="butt"/>
<text transform="translate(540.60 1003.80) rotate(-45)" font-size="25" font-weight="bold" text-anchor="end" fill="#000" letter-spacing="-0.5">2350</text>
<line x1="589.00" y1="968.80" x2="589.00" y2="981.30" stroke="#000" stroke-width="2.5" stroke-linecap="butt"/>
<text transform="translate(598.30 1003.80) rotate(-45)" font-size="25" font-weight="bold" text-anchor="end" fill="#000" letter-spacing="-0.5">2400</text>
<line x1="646.80" y1="968.80" x2="646.80" y2="981.30" stroke="#000" stroke-width="2.5" stroke-linecap="butt"/>
<text transform="translate(656.10 1003.80) rotate(-45)" font-size="25" font-weight="bold" text-anchor="end" fill="#000" letter-spacing="-0.5">2450</text>
<line x1="148.90" y1="644.30" x2="161.40" y2="644.30" stroke="#000" stroke-width="2.5" stroke-linecap="butt"/>
<text transform="translate(141.00 653.70)" font-size="24.4" font-weight="bold" text-anchor="end" fill="#000" >2.5</text>
<line x1="148.90" y1="709.80" x2="161.40" y2="709.80" stroke="#000" stroke-width="2.5" stroke-linecap="butt"/>
<text transform="translate(141.00 719.20)" font-size="24.4" font-weight="bold" text-anchor="end" fill="#000" >2</text>
<line x1="148.90" y1="774.50" x2="161.40" y2="774.50" stroke="#000" stroke-width="2.5" stroke-linecap="butt"/>
<text transform="translate(141.00 783.90)" font-size="24.4" font-weight="bold" text-anchor="end" fill="#000" >1.5</text>
<line x1="148.90" y1="839.30" x2="161.40" y2="839.30" stroke="#000" stroke-width="2.5" stroke-linecap="butt"/>
<text transform="translate(141.00 848.70)" font-size="24.4" font-weight="bold" text-anchor="end" fill="#000" >1</text>
<line x1="148.90" y1="904.40" x2="161.40" y2="904.40" stroke="#000" stroke-width="2.5" stroke-linecap="butt"/>
<text transform="translate(141.00 913.80)" font-size="24.4" font-weight="bold" text-anchor="end" fill="#000" >0.5</text>
<text transform="translate(70.20 806.00) rotate(-90)" font-size="26.7" font-weight="bold" text-anchor="middle" fill="#000" >Intensity (arbitrary units)x10<tspan font-size="19.5" dy="-12">6</tspan></text>
<text transform="translate(398.50 1075.50)" font-size="26" font-weight="bold" text-anchor="middle" fill="#000" >Da</text>
<text transform="translate(405.30 598.50)" font-size="31.7" font-weight="normal" text-anchor="middle" fill="#000" >(β-Asp-Arg)<tspan font-size="21.5" dy="7">8</tspan><tspan dy="-7">&#8203;</tspan>-Asn control</text>
<path d="M163.0 968.8L163.0 967.8L164.5 967.6L165.6 968.0L166.9 968.8L167.3 963.8L167.9 968.8L167.9 968.5L169.1 968.8L170.0 967.8L171.3 968.8L172.1 968.8L172.9 968.8L174.4 968.8L175.5 968.5L176.8 967.6L177.8 968.8L178.5 968.8L179.1 968.4L180.6 968.8L181.0 959.8L181.8 968.8L181.8 968.4L183.1 968.8L183.8 965.3L184.7 968.8L185.6 968.5L187.6 968.8L188.0 961.8L188.8 968.8L189.6 968.8L190.0 964.8L190.8 968.8L190.8 968.4L191.9 968.7L193.3 968.8L194.0 968.8L195.5 968.8L196.6 968.8L197.4 968.8L198.7 968.6L200.2 968.3L201.4 968.2L202.1 968.8L203.5 968.8L205.0 967.8L206.1 968.8L207.0 967.5L208.5 968.2L209.6 968.8L210.4 967.5L211.6 968.4L212.5 967.7L213.8 967.9L215.2 967.9L216.3 967.9L217.7 966.4L218.6 968.2L219.9 968.3L221.2 968.3L222.6 967.5L223.7 968.6L225.2 967.9L226.5 968.8L227.7 968.3L229.0 967.9L229.8 968.0L231.1 968.7L231.9 968.8L232.9 968.8L233.6 968.3L234.7 968.8L235.4 968.4L236.2 968.3L237.4 968.8L238.3 967.6L239.4 968.0L240.1 968.1L241.7 968.3L242.3 968.8L243.5 968.8L245.0 968.2L245.9 968.3L247.3 968.5L248.4 968.4L249.5 968.8L250.3 968.2L251.6 968.8L252.5 967.8L253.4 968.8L254.4 968.2L255.5 968.6L256.5 968.4L257.6 968.3L258.8 968.8L259.8 967.6L260.5 968.2L261.8 968.2L262.8 967.7L263.7 968.7L265.0 968.4L266.4 968.8L267.6 968.4L268.8 968.7L270.1 967.9L271.4 967.5L272.1 968.5L273.6 968.6L275.1 968.8L276.1 968.8L276.8 968.8L277.6 968.8L278.9 968.6L279.8 968.2L280.8 968.8L281.6 968.1L282.7 968.5L283.6 968.1L284.5 967.8L285.8 968.7L286.5 968.8L287.4 968.2L288.7 968.8L289.5 968.8L290.7 968.8L292.2 967.7L293.4 968.5L294.6 968.8L295.4 968.0L296.5 968.1L297.6 968.3L299.1 968.8L299.6 945.8L299.60 952.7L299.64 957.3L299.74 960.8L299.87 963.0L300.03 964.9L300.19 966.3L300.32 967.2L300.43 967.9L300.51 968.3L300.60 968.8L300.6 968.8L302.0 966.4L303.5 968.2L304.2 968.8L305.2 967.7L306.1 968.8L307.0 968.8L307.7 968.3L309.0 968.2L310.7 968.8L311.5 963.8L313.0 968.8L313.0 968.4L314.3 968.8L315.0 968.8L316.0 968.3L317.1 968.8L318.4 968.8L319.6 968.0L320.8 968.8L321.3 954.8L321.31 959.0L321.35 961.8L321.47 963.9L321.63 965.3L321.82 966.4L322.01 967.3L322.17 967.8L322.30 968.2L322.40 968.5L322.50 968.8L322.5 968.8L324.3 968.8L324.8 961.8L325.8 968.8L325.8 968.7L327.3 968.3L328.1 968.2L328.8 968.8L329.8 968.8L330.8 968.8L331.5 968.6L333.2 968.8L333.6 959.8L334.4 968.8L334.4 968.7L335.2 967.6L336.6 967.2L337.7 968.3L339.0 968.4L340.3 968.8L341.3 968.8L342.9 968.8L343.4 958.8L344.9 968.8L344.9 968.8L345.6 968.8L346.7 968.5L347.9 968.8L348.9 968.7L349.8 968.1L351.0 968.1L352.4 967.6L353.7 968.8L354.7 968.8L355.5 968.8L356.4 968.8L357.6 968.8L358.3 967.7L359.5 968.8L360.5 967.0L361.9 968.7L362.7 968.2L364.1 968.8L365.5 968.2L366.9 968.1L368.0 968.8L369.1 968.8L370.7 968.8L371.0 965.8L371.5 968.8L371.5 968.2L372.5 968.8L373.3 968.3L374.2 968.5L375.6 968.0L376.4 968.2L377.2 968.8L378.7 968.8L379.6 967.7L381.0 968.8L382.1 968.8L383.1 968.8L384.1 967.9L385.6 967.6L386.9 967.8L387.0 968.8" fill="none" stroke="#231f20" stroke-width="1.3" stroke-linejoin="miter"/>
<path d="M421.0 968.8L421.0 967.6L421.9 968.8L423.0 968.2L423.9 967.7L425.0 968.5L426.4 968.8L427.6 968.3L429.0 968.1L429.8 968.4L431.0 968.8L432.0 967.4L433.2 967.6L434.6 968.8L435.0 965.8L435.6 968.8L435.6 967.9L436.8 968.8L437.9 968.8L438.8 968.8L439.6 968.8L440.9 968.8L441.6 968.8L442.8 968.8L443.8 968.8L444.5 967.7L446.0 968.8L447.5 967.5L448.8 968.0L450.1 968.7L451.0 967.6L451.7 968.8L452.7 968.8L454.2 968.8L455.6 968.4L456.7 968.8L457.6 968.3L459.1 968.2L460.1 968.1L461.5 967.5L462.2 968.8L463.0 968.3L464.4 968.8L465.9 968.2L467.3 968.1L468.6 968.8L469.0 965.8L469.6 968.8L469.6 968.8L470.8 968.8L471.5 968.8L472.6 967.9L473.4 968.7L474.6 968.8L476.4 678.8L476.42 765.8L476.63 823.8L477.15 867.3L477.82 896.3L478.65 919.5L479.48 936.9L480.15 948.5L480.73 957.2L481.15 963.0L481.60 968.8L481.6 967.5L482.9 968.6L484.3 967.6L485.2 968.7L486.8 968.8L487.5 968.4L488.5 968.8L489.9 968.0L490.7 968.7L492.1 967.7L492.8 968.6L493.8 968.7L495.0 968.8L495.8 968.8L496.9 968.5L498.1 968.2L499.9 968.8L500.9 905.8L500.92 924.7L501.11 937.3L501.59 946.8L502.22 953.0L502.98 958.1L503.74 961.9L504.36 964.4L504.89 966.3L505.28 967.5L505.70 968.8L505.7 968.8L507.1 968.5L508.0 968.2L509.2 967.7L510.6 967.8L511.4 968.2L512.1 968.6L512.8 968.8L514.2 968.8L515.6 968.8L516.9 968.5L518.3 968.8L519.0 916.3L519.03 932.0L519.27 942.5L519.86 950.4L520.64 955.7L521.59 959.9L522.55 963.0L523.33 965.1L523.99 966.7L524.48 967.8L525.00 968.8L525.0 968.8L525.7 967.7L527.0 968.4L527.8 967.6L528.7 968.4L530.0 967.7L531.4 968.8L532.0 968.6L532.7 967.4L534.1 968.8L534.8 966.3L535.5 968.4L536.6 968.8L537.5 968.0L538.6 968.8L540.1 968.8L541.4 967.4L542.6 968.8L543.8 968.8L544.3 945.8L544.31 952.7L544.35 957.3L544.47 960.8L544.63 963.0L544.82 964.9L545.01 966.3L545.17 967.2L545.30 967.9L545.40 968.3L545.50 968.8L546.5 968.8L547.0 964.8L549.0 968.8L549.0 968.0L550.4 967.5L551.2 967.5L552.1 968.8L553.1 967.3L553.8 967.6L554.6 968.6L556.0 967.4L557.3 968.3L558.7 967.5L560.1 968.8L560.8 967.7L562.2 968.8L562.8 953.8L562.81 958.3L562.91 961.3L563.15 963.5L563.46 965.0L563.84 966.2L564.22 967.1L564.53 967.8L564.80 968.2L564.99 968.5L565.20 968.8L565.2 968.8L566.5 968.8L567.8 968.8L568.6 967.4L569.4 967.5L570.5 968.8L571.5 967.9L573.1 967.4L573.7 968.8L574.8 968.8L576.1 967.9L577.5 967.6L578.7 966.6L580.1 968.8L580.8 967.3L581.9 968.8L583.1 967.3L584.2 968.8L585.2 967.5L587.6 968.8L588.0 963.8L588.6 968.8L588.6 968.7L589.8 968.8L590.9 968.5L591.6 968.8L592.4 968.8L593.7 968.5L594.9 968.8L596.4 968.8L596.8 963.8L597.4 968.8L597.4 968.8L598.9 968.8L600.0 967.8L601.1 967.9L602.0 967.3L603.2 968.4L604.7 968.8L605.7 968.0L606.5 968.8L607.7 968.8L608.3 962.8L610.3 968.8L610.3 968.0L611.1 968.0L611.9 968.8L612.9 967.9L614.2 968.4L615.5 968.3L616.6 968.6L617.8 967.4L619.2 968.8L620.2 968.7L621.0 968.8L621.7 968.8L622.7 967.9L623.6 968.5L624.4 968.6L625.4 967.8L626.6 968.8L627.9 968.2L628.6 967.4L629.7 968.8L630.7 967.7L633.0 968.8L633.5 964.8L635.0 968.8L635.0 967.9L636.2 968.6L637.0 967.8L637.9 964.6L639.1 967.8L640.5 968.0L641.5 968.1L642.7 968.8L643.9 968.0L645.1 967.6L646.4 967.4L646.5 968.8" fill="none" stroke="#231f20" stroke-width="1.3" stroke-linejoin="miter"/>
<path d="M474.3 968.8L475.2 792.8L475.22 845.6L475.39 880.8L475.83 907.2L476.41 924.8L477.10 938.9L477.80 949.4L478.37 956.5L478.86 961.8L479.22 965.3L479.60 968.8" fill="none" stroke="#231f20" stroke-width="1.2"/>
<path d="M501.9 968.8L502.8 928.8L502.81 940.8L502.92 948.8L503.20 954.8L503.57 958.8L504.01 962.0L504.46 964.4L504.82 966.0L505.13 967.2L505.36 968.0L505.60 968.8" fill="none" stroke="#231f20" stroke-width="1.2"/>
<text transform="translate(474.00 644.30) scale(0.8 1)" font-size="28.8" font-weight="normal" text-anchor="start" fill="#231f20" >(β-Asp-Arg)<tspan font-size="18.2" dy="9.4">8</tspan><tspan dy="-9.4">&#8203;</tspan>-Asn</text>
<text transform="translate(481.00 673.00) scale(0.775 1)" font-size="25.5" font-weight="normal" text-anchor="start" fill="#231f20" >2302.0</text>
<text transform="translate(497.50 891.00) scale(0.775 1)" font-size="25.5" font-weight="normal" text-anchor="start" fill="#231f20" >2323.5</text>
<text transform="translate(517.50 917.00) scale(0.775 1)" font-size="25.5" font-weight="normal" text-anchor="start" fill="#231f20" >2340.0</text>
<line x1="781.40" y1="636.75" x2="781.40" y2="968.25" stroke="#000" stroke-width="2.5" stroke-linecap="butt"/>
<line x1="768.80" y1="967.00" x2="1016.50" y2="967.00" stroke="#000" stroke-width="2.5" stroke-linecap="butt"/>
<line x1="1039.00" y1="967.00" x2="1274.50" y2="967.00" stroke="#000" stroke-width="2.5" stroke-linecap="butt"/>
<line x1="1008.50" y1="975.00" x2="1024.50" y2="959.00" stroke="#000" stroke-width="2.7" stroke-linecap="butt"/>
<line x1="1031.00" y1="975.00" x2="1047.00" y2="959.00" stroke="#000" stroke-width="2.7" stroke-linecap="butt"/>
<line x1="781.40" y1="967.00" x2="781.40" y2="979.50" stroke="#000" stroke-width="2.5" stroke-linecap="butt"/>
<text transform="translate(790.70 1002.00) rotate(-45)" font-size="25" font-weight="bold" text-anchor="end" fill="#000" letter-spacing="-0.5">1050</text>
<line x1="839.20" y1="967.00" x2="839.20" y2="979.50" stroke="#000" stroke-width="2.5" stroke-linecap="butt"/>
<text transform="translate(848.50 1002.00) rotate(-45)" font-size="25" font-weight="bold" text-anchor="end" fill="#000" letter-spacing="-0.5">1100</text>
<line x1="897.60" y1="967.00" x2="897.60" y2="979.50" stroke="#000" stroke-width="2.5" stroke-linecap="butt"/>
<text transform="translate(906.90 1002.00) rotate(-45)" font-size="25" font-weight="bold" text-anchor="end" fill="#000" letter-spacing="-0.5">1150</text>
<line x1="956.00" y1="967.00" x2="956.00" y2="979.50" stroke="#000" stroke-width="2.5" stroke-linecap="butt"/>
<text transform="translate(965.30 1002.00) rotate(-45)" font-size="25" font-weight="bold" text-anchor="end" fill="#000" letter-spacing="-0.5">1200</text>
<text transform="translate(1023.80 1002.00) rotate(-45)" font-size="25" font-weight="bold" text-anchor="end" fill="#000" letter-spacing="-0.5">1250</text>
<line x1="1097.50" y1="967.00" x2="1097.50" y2="979.50" stroke="#000" stroke-width="2.5" stroke-linecap="butt"/>
<text transform="translate(1106.80 1002.00) rotate(-45)" font-size="25" font-weight="bold" text-anchor="end" fill="#000" letter-spacing="-0.5">2300</text>
<line x1="1156.00" y1="967.00" x2="1156.00" y2="979.50" stroke="#000" stroke-width="2.5" stroke-linecap="butt"/>
<text transform="translate(1165.30 1002.00) rotate(-45)" font-size="25" font-weight="bold" text-anchor="end" fill="#000" letter-spacing="-0.5">2350</text>
<line x1="1214.40" y1="967.00" x2="1214.40" y2="979.50" stroke="#000" stroke-width="2.5" stroke-linecap="butt"/>
<text transform="translate(1223.70 1002.00) rotate(-45)" font-size="25" font-weight="bold" text-anchor="end" fill="#000" letter-spacing="-0.5">2400</text>
<line x1="1273.50" y1="967.00" x2="1273.50" y2="979.50" stroke="#000" stroke-width="2.5" stroke-linecap="butt"/>
<text transform="translate(1282.80 1002.00) rotate(-45)" font-size="25" font-weight="bold" text-anchor="end" fill="#000" letter-spacing="-0.5">2450</text>
<line x1="768.90" y1="638.00" x2="781.40" y2="638.00" stroke="#000" stroke-width="2.5" stroke-linecap="butt"/>
<text transform="translate(765.40 647.40)" font-size="24.4" font-weight="bold" text-anchor="end" fill="#000" >5</text>
<line x1="768.90" y1="703.80" x2="781.40" y2="703.80" stroke="#000" stroke-width="2.5" stroke-linecap="butt"/>
<text transform="translate(765.40 713.20)" font-size="24.4" font-weight="bold" text-anchor="end" fill="#000" >4</text>
<line x1="768.90" y1="770.00" x2="781.40" y2="770.00" stroke="#000" stroke-width="2.5" stroke-linecap="butt"/>
<text transform="translate(765.40 779.40)" font-size="24.4" font-weight="bold" text-anchor="end" fill="#000" >3</text>
<line x1="768.90" y1="835.80" x2="781.40" y2="835.80" stroke="#000" stroke-width="2.5" stroke-linecap="butt"/>
<text transform="translate(765.40 845.20)" font-size="24.4" font-weight="bold" text-anchor="end" fill="#000" >2</text>
<line x1="768.90" y1="901.20" x2="781.40" y2="901.20" stroke="#000" stroke-width="2.5" stroke-linecap="butt"/>
<text transform="translate(765.40 910.60)" font-size="24.4" font-weight="bold" text-anchor="end" fill="#000" >1</text>
<text transform="translate(732.70 799.50) rotate(-90)" font-size="26.5" font-weight="bold" text-anchor="middle" fill="#000" >Intensity (arbitrary units)x10<tspan font-size="19.5" dy="-12">6</tspan></text>
<text transform="translate(1021.50 1080.00)" font-size="26" font-weight="bold" text-anchor="middle" fill="#000" >Da</text>
<text transform="translate(1027.60 598.20)" font-size="32.2" font-weight="normal" text-anchor="middle" fill="#000" >WT <tspan font-style="italic">Su</tspan>CphA1+(β-Asp-Arg)<tspan font-size="21.5" dy="7">8</tspan><tspan dy="-7">&#8203;</tspan>-Asn</text>
<path d="M783.0 967.0L783.0 967.0L784.2 967.0L785.2 967.0L785.9 966.9L786.9 966.9L788.2 966.5L789.7 967.0L790.6 967.0L791.5 966.8L792.7 966.5L793.5 967.0L794.5 967.0L795.5 967.0L796.8 967.0L797.9 966.3L799.5 967.0L800.8 967.0L801.5 966.3L802.9 967.0L804.1 966.6L805.6 966.4L806.9 966.1L807.8 966.4L808.8 967.0L809.6 966.9L810.6 966.9L811.7 966.3L812.6 966.7L814.1 967.0L815.0 967.0L816.2 965.7L817.1 966.1L818.3 966.4L819.7 966.2L821.4 967.0L822.0 665.0L822.01 755.6L822.12 816.0L822.40 861.3L822.77 891.5L823.21 915.7L823.66 933.8L824.02 945.9L824.33 954.9L824.56 961.0L824.80 967.0L824.8 966.9L825.5 967.0L826.3 967.0L827.0 967.0L828.0 967.0L829.2 967.0L830.1 966.9L831.7 966.6L832.4 967.0L833.8 967.0L835.3 966.9L836.0 966.1L838.3 967.0L838.8 936.5L838.81 945.6L838.87 951.8L839.03 956.3L839.24 959.4L839.49 961.8L839.75 963.6L839.95 964.9L840.13 965.8L840.26 966.4L840.40 967.0L840.4 967.0L841.2 966.5L842.2 967.0L843.7 966.3L845.0 967.0L846.0 967.0L846.9 967.0L848.4 966.2L850.9 967.0L851.4 932.0L851.41 942.5L851.48 949.5L851.66 954.8L851.89 958.2L852.18 961.0L852.47 963.1L852.70 964.5L852.90 965.6L853.04 966.3L853.20 967.0L853.2 966.8L854.0 967.0L855.5 966.6L856.8 967.0L858.3 966.3L859.1 966.7L860.6 966.6L861.9 967.0L862.7 966.3L864.1 966.4L865.3 967.0L866.8 966.5L868.9 967.0L869.3 963.0L869.9 967.0L869.9 966.3L870.8 967.0L872.0 967.0L872.7 966.7L873.9 966.6L875.0 966.5L876.1 964.6L876.9 966.3L877.8 966.5L878.6 966.8L880.4 967.0L880.8 955.5L881.8 967.0L881.8 966.5L883.3 966.4L884.4 966.6L885.5 966.4L886.9 967.0L888.4 966.9L889.5 967.0L890.2 966.3L891.0 966.4L892.4 966.8L893.5 966.1L894.3 966.5L895.1 967.0L895.8 966.6L897.6 967.0L898.0 960.0L898.8 967.0L898.8 966.5L900.3 966.1L901.2 967.0L902.1 967.0L903.6 966.8L905.0 966.4L905.8 966.6L907.2 966.3L909.5 967.0L910.2 758.0L910.22 820.7L910.37 862.5L910.75 893.9L911.24 914.8L911.84 931.5L912.45 944.0L912.94 952.4L913.36 958.6L913.67 962.8L914.00 967.0L914.0 967.0L915.1 967.0L916.5 967.0L917.7 967.0L918.5 967.0L919.4 967.0L920.3 966.8L921.0 967.0L922.3 966.8L923.8 967.0L924.8 966.2L926.9 967.0L927.4 935.5L927.41 945.0L927.45 951.2L927.57 956.0L927.73 959.1L927.92 961.6L928.11 963.5L928.27 964.8L928.40 965.7L928.50 966.4L928.60 967.0L928.6 966.1L930.0 966.4L931.0 967.0L931.7 966.8L932.4 966.2L933.3 967.0L934.4 967.0L935.3 966.1L936.2 966.7L936.8 966.6L937.7 967.0L938.4 967.0L939.5 967.0L940.0 927.0L940.01 939.0L940.09 947.0L940.29 953.0L940.55 957.0L940.86 960.2L941.18 962.6L941.44 964.2L941.66 965.4L941.83 966.2L942.00 967.0L942.0 967.0L943.1 966.4L945.1 967.0L945.5 963.0L946.3 967.0L946.3 966.7L947.1 966.4L948.5 966.4L949.9 967.0L951.0 966.3L952.1 966.4L953.0 967.0L954.0 967.0L955.1 966.4L956.4 967.0L957.0 957.0L959.0 967.0L959.0 967.0L960.3 966.5L961.0 966.8L961.9 966.8L963.4 966.7L964.7 966.4L965.4 967.0L966.8 967.0L967.4 967.0L968.9 967.0L969.4 955.0L969.41 958.6L969.47 961.0L969.62 962.8L969.81 964.0L970.05 965.0L970.29 965.7L970.48 966.2L970.65 966.5L970.77 966.8L970.90 967.0L970.9 966.4L972.0 966.6L973.5 967.0L974.9 967.0L976.3 966.6L977.2 966.8L978.0 966.1L979.3 966.2L980.2 966.6L980.9 966.6L981.6 967.0L983.0 967.0L984.4 967.0L985.7 966.7L986.7 966.5L987.8 967.0L988.5 966.7L989.4 967.0L990.2 966.1L991.6 966.2L992.7 967.0L993.8 966.4L994.5 966.9L995.5 967.0L997.0 967.0L997.9 966.6L998.7 967.0L999.8 967.0L1001.4 966.9L1002.1 967.0L1003.0 967.0L1004.4 966.6L1005.5 966.7L1006.4 966.9L1007.6 966.8L1008.5 966.6L1009.9 967.0L1011.0 967.0" fill="none" stroke="#231f20" stroke-width="1.3" stroke-linejoin="miter"/>
<path d="M1044.0 967.0L1044.0 967.0L1044.8 967.0L1046.3 967.0L1047.4 966.8L1048.8 967.0L1049.4 967.0L1050.9 966.9L1052.4 967.0L1053.4 966.8L1054.5 966.5L1055.3 967.0L1056.4 967.0L1057.6 967.0L1058.0 965.0L1058.6 967.0L1058.6 966.6L1059.6 966.9L1060.3 966.6L1061.7 966.9L1062.8 967.0L1064.0 966.9L1064.6 967.0L1065.7 966.6L1066.5 966.9L1068.0 967.0L1068.9 967.0L1069.9 967.0L1070.7 966.8L1071.9 967.0L1072.7 967.0L1073.6 966.7L1075.2 967.0L1075.9 966.7L1076.9 967.0L1077.7 967.0L1079.1 966.7L1080.6 967.0L1081.7 966.9L1082.9 966.9L1084.2 966.8L1085.1 967.0L1086.2 967.0L1087.5 967.0L1088.5 967.0L1089.8 966.6L1090.7 966.6L1091.4 966.5L1092.6 967.0L1093.0 965.0L1093.6 967.0L1093.6 966.9L1094.7 966.8L1096.2 966.7L1097.5 967.0L1098.3 966.5L1099.3 967.0L1100.7 966.5L1102.1 966.8L1103.1 966.6L1103.9 966.9L1104.6 966.9L1106.0 966.9L1107.0 966.5L1108.3 967.0L1110.6 967.0L1111.0 965.0L1111.6 967.0L1111.6 966.8L1113.0 966.7L1114.5 966.6L1115.7 967.0L1117.1 966.5L1118.3 966.7L1119.0 966.6L1120.0 966.6L1121.2 967.0L1122.1 967.0L1122.9 966.8L1123.8 966.8L1124.5 967.0L1125.4 966.9L1126.5 966.6L1127.5 966.6L1128.6 966.5L1129.4 967.0L1130.2 967.0L1131.4 966.8L1132.5 966.5L1134.1 966.8L1135.2 967.0L1136.3 967.0L1137.4 966.7L1138.3 967.0L1139.6 966.7L1140.6 967.0L1142.1 967.0L1143.3 967.0L1144.0 967.0L1144.8 966.8L1146.3 967.0L1147.0 966.7L1148.0 966.7L1148.8 967.0L1149.8 966.6L1151.0 967.0L1152.3 966.8L1153.1 966.8L1154.1 966.6L1155.4 966.9L1156.3 966.8L1157.4 966.8L1158.7 966.7L1159.8 966.7L1160.6 967.0L1161.3 966.6L1162.5 967.0L1163.4 967.0L1164.7 967.0L1166.6 967.0L1167.0 965.0L1167.6 967.0L1167.6 966.6L1168.8 967.0L1169.8 966.8L1170.4 967.0L1171.5 966.6L1173.0 966.9L1174.3 966.7L1175.4 966.9L1176.3 967.0L1177.4 966.9L1178.6 967.0L1179.8 966.9L1181.1 967.0L1182.3 966.6L1183.6 967.0L1184.4 967.0L1185.8 966.5L1187.3 966.7L1188.2 966.7L1189.0 967.0L1190.2 967.0L1191.4 967.0L1192.9 967.0L1194.1 966.5L1195.4 967.0L1196.9 966.8L1197.9 966.6L1198.8 966.5L1199.9 966.8L1201.1 967.0L1202.0 966.9L1202.7 967.0L1203.6 966.9L1205.0 966.5L1206.1 966.6L1207.2 966.7L1208.3 966.8L1209.7 967.0L1211.2 966.7L1212.5 966.5L1213.5 967.0L1214.9 966.8L1216.1 966.9L1217.3 966.7L1218.6 967.0L1219.8 966.9L1220.5 967.0L1221.6 966.6L1223.0 967.0L1223.7 966.7L1224.8 966.8L1225.6 966.7L1227.0 967.0L1228.1 967.0L1229.3 966.6L1230.6 966.9L1231.4 966.9L1232.7 966.9L1233.3 966.5L1234.7 966.7L1236.2 967.0L1237.6 966.5L1239.0 967.0L1240.0 966.8L1240.9 967.0L1242.0 967.0L1242.9 966.5L1243.7 966.7L1244.7 966.5L1245.4 966.7L1246.9 967.0L1248.2 967.0L1249.5 966.6L1250.8 967.0L1252.2 966.7L1253.4 966.9L1254.4 967.0L1256.0 966.6L1257.3 967.0L1258.8 966.5L1259.7 967.0L1261.1 966.7L1262.1 967.0L1263.2 967.0L1264.5 966.9L1265.8 966.8L1266.8 966.9L1268.3 966.6L1269.5 966.6L1271.0 967.0L1272.4 967.0L1273.0 967.0" fill="none" stroke="#231f20" stroke-width="1.3" stroke-linejoin="miter"/>
<text transform="translate(808.50 634.50) scale(0.8 1)" font-size="28.8" font-weight="normal" text-anchor="start" fill="#231f20" >(β-Asp-Arg)<tspan font-size="18.2" dy="9.4">4</tspan><tspan dy="-9.4">&#8203;</tspan></text>
<text transform="translate(823.30 662.80) scale(0.775 1)" font-size="25.5" font-weight="normal" text-anchor="start" fill="#231f20" >1102.5</text>
<text transform="translate(892.00 722.80) scale(0.8 1)" font-size="28.8" font-weight="normal" text-anchor="start" fill="#231f20" >(β-Asp-Arg)<tspan font-size="18.2" dy="9.4">4</tspan><tspan dy="-9.4">&#8203;</tspan>-Asn</text>
<text transform="translate(908.00 753.00) scale(0.775 1)" font-size="25.5" font-weight="normal" text-anchor="start" fill="#231f20" >1216.3</text>
<path d="M1492.70 375.00V79.10H1522.10V375.00" fill="#fff" stroke="#000" stroke-width="7.0" stroke-linejoin="miter"/>
<path d="M1545.60 375.00V179.70H1575.00V375.00" fill="#fff" stroke="#000" stroke-width="7.0" stroke-linejoin="miter"/>
<path d="M1598.50 375.00V179.20H1627.90V375.00" fill="#fff" stroke="#000" stroke-width="7.0" stroke-linejoin="miter"/>
<line x1="1472.50" y1="14.50" x2="1472.50" y2="377.50" stroke="#000" stroke-width="4.3" stroke-linecap="round"/>
<line x1="1456.50" y1="375.00" x2="1650.50" y2="375.00" stroke="#000" stroke-width="4.3" stroke-linecap="round"/>
<line x1="1463.80" y1="375.00" x2="1472.50" y2="375.00" stroke="#000" stroke-width="4.3" stroke-linecap="round"/>
<line x1="1463.80" y1="360.06" x2="1472.50" y2="360.06" stroke="#000" stroke-width="4.3" stroke-linecap="round"/>
<line x1="1463.80" y1="345.12" x2="1472.50" y2="345.12" stroke="#000" stroke-width="4.3" stroke-linecap="round"/>
<line x1="1463.80" y1="330.18" x2="1472.50" y2="330.18" stroke="#000" stroke-width="4.3" stroke-linecap="round"/>
<line x1="1463.80" y1="315.24" x2="1472.50" y2="315.24" stroke="#000" stroke-width="4.3" stroke-linecap="round"/>
<line x1="1463.80" y1="300.30" x2="1472.50" y2="300.30" stroke="#000" stroke-width="4.3" stroke-linecap="round"/>
<line x1="1463.80" y1="285.36" x2="1472.50" y2="285.36" stroke="#000" stroke-width="4.3" stroke-linecap="round"/>
<line x1="1463.80" y1="270.42" x2="1472.50" y2="270.42" stroke="#000" stroke-width="4.3" stroke-linecap="round"/>
<line x1="1463.80" y1="255.48" x2="1472.50" y2="255.48" stroke="#000" stroke-width="4.3" stroke-linecap="round"/>
<line x1="1463.80" y1="240.54" x2="1472.50" y2="240.54" stroke="#000" stroke-width="4.3" stroke-linecap="round"/>
<line x1="1463.80" y1="225.60" x2="1472.50" y2="225.60" stroke="#000" stroke-width="4.3" stroke-linecap="round"/>
<line x1="1463.80" y1="210.66" x2="1472.50" y2="210.66" stroke="#000" stroke-width="4.3" stroke-linecap="round"/>
<line x1="1463.80" y1="195.72" x2="1472.50" y2="195.72" stroke="#000" stroke-width="4.3" stroke-linecap="round"/>
<line x1="1463.80" y1="180.78" x2="1472.50" y2="180.78" stroke="#000" stroke-width="4.3" stroke-linecap="round"/>
<line x1="1463.80" y1="165.84" x2="1472.50" y2="165.84" stroke="#000" stroke-width="4.3" stroke-linecap="round"/>
<line x1="1463.80" y1="150.90" x2="1472.50" y2="150.90" stroke="#000" stroke-width="4.3" stroke-linecap="round"/>
<line x1="1463.80" y1="135.96" x2="1472.50" y2="135.96" stroke="#000" stroke-width="4.3" stroke-linecap="round"/>
<line x1="1463.80" y1="121.02" x2="1472.50" y2="121.02" stroke="#000" stroke-width="4.3" stroke-linecap="round"/>
<line x1="1463.80" y1="106.08" x2="1472.50" y2="106.08" stroke="#000" stroke-width="4.3" stroke-linecap="round"/>
<line x1="1463.80" y1="91.14" x2="1472.50" y2="91.14" stroke="#000" stroke-width="4.3" stroke-linecap="round"/>
<line x1="1463.80" y1="76.20" x2="1472.50" y2="76.20" stroke="#000" stroke-width="4.3" stroke-linecap="round"/>
<line x1="1463.80" y1="61.26" x2="1472.50" y2="61.26" stroke="#000" stroke-width="4.3" stroke-linecap="round"/>
<line x1="1463.80" y1="46.32" x2="1472.50" y2="46.32" stroke="#000" stroke-width="4.3" stroke-linecap="round"/>
<line x1="1463.80" y1="31.38" x2="1472.50" y2="31.38" stroke="#000" stroke-width="4.3" stroke-linecap="round"/>
<line x1="1463.80" y1="16.44" x2="1472.50" y2="16.44" stroke="#000" stroke-width="4.3" stroke-linecap="round"/>
<line x1="1456.90" y1="375.00" x2="1472.50" y2="375.00" stroke="#000" stroke-width="4.3" stroke-linecap="round"/>
<text transform="translate(1452.60 384.40)" font-size="26.3" font-weight="bold" text-anchor="end" fill="#000" >0.0</text>
<line x1="1456.90" y1="225.70" x2="1472.50" y2="225.70" stroke="#000" stroke-width="4.3" stroke-linecap="round"/>
<text transform="translate(1452.60 235.10)" font-size="26.3" font-weight="bold" text-anchor="end" fill="#000" >0.5</text>
<line x1="1456.90" y1="76.40" x2="1472.50" y2="76.40" stroke="#000" stroke-width="4.3" stroke-linecap="round"/>
<text transform="translate(1452.60 85.80)" font-size="26.3" font-weight="bold" text-anchor="end" fill="#000" >1.0</text>
<line x1="1507.20" y1="375.00" x2="1507.20" y2="391.00" stroke="#000" stroke-width="4.3" stroke-linecap="round"/>
<line x1="1507.20" y1="31.30" x2="1507.20" y2="122.00" stroke="#000" stroke-width="2.2" stroke-linecap="butt"/>
<line x1="1498.20" y1="31.30" x2="1516.20" y2="31.30" stroke="#000" stroke-width="2.2" stroke-linecap="butt"/>
<line x1="1498.20" y1="122.00" x2="1516.20" y2="122.00" stroke="#000" stroke-width="2.2" stroke-linecap="butt"/>
<circle cx="1507.1" cy="39.8" r="3.9" fill="#000"/>
<circle cx="1507.1" cy="54.9" r="3.9" fill="#000"/>
<circle cx="1507.1" cy="69.9" r="3.9" fill="#000"/>
<circle cx="1507.1" cy="142.1" r="3.9" fill="#000"/>
<text transform="translate(1514.70 415.50) rotate(-45)" font-size="27.5" font-weight="bold" text-anchor="end" fill="#000" >N<tspan font-size="19" font-weight="normal" dy="-14.8">+</tspan><tspan dy="14.8" dx="0.5">&#8203;</tspan>G<tspan font-size="19" font-weight="normal" dy="-14.8">+</tspan><tspan dy="14.8" dx="0.5">&#8203;</tspan>M<tspan font-size="19" font-weight="normal" dy="-14.8">+</tspan><tspan dy="14.8" dx="0.5">&#8203;</tspan>/N<tspan font-size="19" font-weight="normal" dy="-14.8">+</tspan><tspan dy="14.8" dx="0.5">&#8203;</tspan>G<tspan font-size="19" font-weight="normal" dy="-14.8">+</tspan><tspan dy="14.8" dx="0.5">&#8203;</tspan>M<tspan font-size="19" font-weight="normal" dy="-14.8">+</tspan></text>
<line x1="1559.70" y1="375.00" x2="1559.70" y2="391.00" stroke="#000" stroke-width="4.3" stroke-linecap="round"/>
<line x1="1559.70" y1="172.30" x2="1559.70" y2="176.00" stroke="#000" stroke-width="2.2" stroke-linecap="butt"/>
<line x1="1550.70" y1="172.30" x2="1568.70" y2="172.30" stroke="#000" stroke-width="2.2" stroke-linecap="butt"/>
<line x1="1550.70" y1="176.00" x2="1568.70" y2="176.00" stroke="#000" stroke-width="2.2" stroke-linecap="butt"/>
<circle cx="1559.7" cy="170.0" r="3.9" fill="#000"/>
<text transform="translate(1567.20 415.50) rotate(-45)" font-size="27.5" font-weight="bold" text-anchor="end" fill="#000" >N<tspan font-size="19" font-weight="normal" dy="-14.8">-</tspan><tspan dy="14.8" dx="0.5">&#8203;</tspan>G<tspan font-size="19" font-weight="normal" dy="-14.8">-</tspan><tspan dy="14.8" dx="0.5">&#8203;</tspan>M<tspan font-size="19" font-weight="normal" dy="-14.8">-</tspan><tspan dy="14.8" dx="0.5">&#8203;</tspan>/N<tspan font-size="19" font-weight="normal" dy="-14.8">+</tspan><tspan dy="14.8" dx="0.5">&#8203;</tspan>G<tspan font-size="19" font-weight="normal" dy="-14.8">+</tspan><tspan dy="14.8" dx="0.5">&#8203;</tspan>M<tspan font-size="19" font-weight="normal" dy="-14.8">+</tspan></text>
<line x1="1612.80" y1="375.00" x2="1612.80" y2="391.00" stroke="#000" stroke-width="4.3" stroke-linecap="round"/>
<line x1="1612.80" y1="160.30" x2="1612.80" y2="191.60" stroke="#000" stroke-width="2.2" stroke-linecap="butt"/>
<line x1="1603.80" y1="160.30" x2="1621.80" y2="160.30" stroke="#000" stroke-width="2.2" stroke-linecap="butt"/>
<line x1="1603.80" y1="191.60" x2="1621.80" y2="191.60" stroke="#000" stroke-width="2.2" stroke-linecap="butt"/>
<circle cx="1599.0" cy="166.6" r="3.9" fill="#000"/>
<circle cx="1612.8" cy="171.7" r="3.9" fill="#000"/>
<circle cx="1627.0" cy="166.9" r="3.9" fill="#000"/>
<circle cx="1612.8" cy="198.4" r="3.9" fill="#000"/>
<text transform="translate(1620.30 415.50) rotate(-45)" font-size="27.5" font-weight="bold" text-anchor="end" fill="#000" >N<tspan font-size="19" font-weight="normal" dy="-14.8">-</tspan><tspan dy="14.8" dx="0.5">&#8203;</tspan>G<tspan font-size="19" font-weight="normal" dy="-14.8">+</tspan><tspan dy="14.8" dx="0.5">&#8203;</tspan>M<tspan font-size="19" font-weight="normal" dy="-14.8">+</tspan><tspan dy="14.8" dx="0.5">&#8203;</tspan>/N<tspan font-size="19" font-weight="normal" dy="-14.8">+</tspan><tspan dy="14.8" dx="0.5">&#8203;</tspan>G<tspan font-size="19" font-weight="normal" dy="-14.8">-</tspan><tspan dy="14.8" dx="0.5">&#8203;</tspan>M<tspan font-size="19" font-weight="normal" dy="-14.8">-</tspan></text>
<text transform="translate(1398.00 193.00) rotate(-90)" font-size="30" font-weight="bold" text-anchor="middle" fill="#000" >Relative activity</text>
<path d="M1845.10 373.50V247.80H1872.70V373.50" fill="#fff" stroke="#000" stroke-width="7.0" stroke-linejoin="miter"/>
<path d="M1894.70 373.50V153.60H1922.10V373.50" fill="#fff" stroke="#000" stroke-width="7.0" stroke-linejoin="miter"/>
<path d="M1944.40 373.50V75.40H1971.60V373.50" fill="#fff" stroke="#000" stroke-width="7.0" stroke-linejoin="miter"/>
<line x1="1826.30" y1="8.00" x2="1826.30" y2="376.00" stroke="#000" stroke-width="4.3" stroke-linecap="round"/>
<line x1="1809.50" y1="373.50" x2="1994.50" y2="373.50" stroke="#000" stroke-width="4.3" stroke-linecap="round"/>
<line x1="1817.60" y1="373.50" x2="1826.30" y2="373.50" stroke="#000" stroke-width="4.3" stroke-linecap="round"/>
<line x1="1817.60" y1="358.35" x2="1826.30" y2="358.35" stroke="#000" stroke-width="4.3" stroke-linecap="round"/>
<line x1="1817.60" y1="343.20" x2="1826.30" y2="343.20" stroke="#000" stroke-width="4.3" stroke-linecap="round"/>
<line x1="1817.60" y1="328.05" x2="1826.30" y2="328.05" stroke="#000" stroke-width="4.3" stroke-linecap="round"/>
<line x1="1817.60" y1="312.90" x2="1826.30" y2="312.90" stroke="#000" stroke-width="4.3" stroke-linecap="round"/>
<line x1="1817.60" y1="297.75" x2="1826.30" y2="297.75" stroke="#000" stroke-width="4.3" stroke-linecap="round"/>
<line x1="1817.60" y1="282.60" x2="1826.30" y2="282.60" stroke="#000" stroke-width="4.3" stroke-linecap="round"/>
<line x1="1817.60" y1="267.45" x2="1826.30" y2="267.45" stroke="#000" stroke-width="4.3" stroke-linecap="round"/>
<line x1="1817.60" y1="252.30" x2="1826.30" y2="252.30" stroke="#000" stroke-width="4.3" stroke-linecap="round"/>
<line x1="1817.60" y1="237.15" x2="1826.30" y2="237.15" stroke="#000" stroke-width="4.3" stroke-linecap="round"/>
<line x1="1817.60" y1="222.00" x2="1826.30" y2="222.00" stroke="#000" stroke-width="4.3" stroke-linecap="round"/>
<line x1="1817.60" y1="206.85" x2="1826.30" y2="206.85" stroke="#000" stroke-width="4.3" stroke-linecap="round"/>
<line x1="1817.60" y1="191.70" x2="1826.30" y2="191.70" stroke="#000" stroke-width="4.3" stroke-linecap="round"/>
<line x1="1817.60" y1="176.55" x2="1826.30" y2="176.55" stroke="#000" stroke-width="4.3" stroke-linecap="round"/>
<line x1="1817.60" y1="161.40" x2="1826.30" y2="161.40" stroke="#000" stroke-width="4.3" stroke-linecap="round"/>
<line x1="1817.60" y1="146.25" x2="1826.30" y2="146.25" stroke="#000" stroke-width="4.3" stroke-linecap="round"/>
<line x1="1817.60" y1="131.10" x2="1826.30" y2="131.10" stroke="#000" stroke-width="4.3" stroke-linecap="round"/>
<line x1="1817.60" y1="115.95" x2="1826.30" y2="115.95" stroke="#000" stroke-width="4.3" stroke-linecap="round"/>
<line x1="1817.60" y1="100.80" x2="1826.30" y2="100.80" stroke="#000" stroke-width="4.3" stroke-linecap="round"/>
<line x1="1817.60" y1="85.65" x2="1826.30" y2="85.65" stroke="#000" stroke-width="4.3" stroke-linecap="round"/>
<line x1="1817.60" y1="70.50" x2="1826.30" y2="70.50" stroke="#000" stroke-width="4.3" stroke-linecap="round"/>
<line x1="1817.60" y1="55.35" x2="1826.30" y2="55.35" stroke="#000" stroke-width="4.3" stroke-linecap="round"/>
<line x1="1817.60" y1="40.20" x2="1826.30" y2="40.20" stroke="#000" stroke-width="4.3" stroke-linecap="round"/>
<line x1="1817.60" y1="25.05" x2="1826.30" y2="25.05" stroke="#000" stroke-width="4.3" stroke-linecap="round"/>
<line x1="1817.60" y1="9.90" x2="1826.30" y2="9.90" stroke="#000" stroke-width="4.3" stroke-linecap="round"/>
<line x1="1810.70" y1="373.50" x2="1826.30" y2="373.50" stroke="#000" stroke-width="4.3" stroke-linecap="round"/>
<text transform="translate(1806.40 382.90)" font-size="26.3" font-weight="bold" text-anchor="end" fill="#000" >0.0</text>
<line x1="1810.70" y1="222.20" x2="1826.30" y2="222.20" stroke="#000" stroke-width="4.3" stroke-linecap="round"/>
<text transform="translate(1806.40 231.60)" font-size="26.3" font-weight="bold" text-anchor="end" fill="#000" >0.5</text>
<line x1="1810.70" y1="70.70" x2="1826.30" y2="70.70" stroke="#000" stroke-width="4.3" stroke-linecap="round"/>
<text transform="translate(1806.40 80.10)" font-size="26.3" font-weight="bold" text-anchor="end" fill="#000" >1.0</text>
<line x1="1858.60" y1="373.50" x2="1858.60" y2="389.50" stroke="#000" stroke-width="4.3" stroke-linecap="round"/>
<line x1="1858.60" y1="223.20" x2="1858.60" y2="267.40" stroke="#000" stroke-width="2.2" stroke-linecap="butt"/>
<line x1="1849.60" y1="223.20" x2="1867.60" y2="223.20" stroke="#000" stroke-width="2.2" stroke-linecap="butt"/>
<line x1="1849.60" y1="267.40" x2="1867.60" y2="267.40" stroke="#000" stroke-width="2.2" stroke-linecap="butt"/>
<circle cx="1859.0" cy="213.3" r="3.9" fill="#000"/>
<circle cx="1852.1" cy="253.3" r="3.9" fill="#000"/>
<circle cx="1865.8" cy="253.3" r="3.9" fill="#000"/>
<circle cx="1859.0" cy="264.0" r="3.9" fill="#000"/>
<text transform="translate(1866.10 414.00) rotate(-45)" font-size="27.5" font-weight="bold" text-anchor="end" fill="#000" >N<tspan font-size="19" font-weight="normal" dy="-14.8">+</tspan><tspan dy="14.8" dx="0.5">&#8203;</tspan>G<tspan font-size="19" font-weight="normal" dy="-14.8">+</tspan><tspan dy="14.8" dx="0.5">&#8203;</tspan>M<tspan font-size="19" font-weight="normal" dy="-14.8">+</tspan><tspan dy="14.8" dx="0.5">&#8203;</tspan>/N<tspan font-size="19" font-weight="normal" dy="-14.8">+</tspan><tspan dy="14.8" dx="0.5">&#8203;</tspan>G<tspan font-size="19" font-weight="normal" dy="-14.8">+</tspan><tspan dy="14.8" dx="0.5">&#8203;</tspan>M<tspan font-size="19" font-weight="normal" dy="-14.8">+</tspan></text>
<line x1="1908.20" y1="373.50" x2="1908.20" y2="389.50" stroke="#000" stroke-width="4.3" stroke-linecap="round"/>
<line x1="1908.20" y1="136.10" x2="1908.20" y2="166.00" stroke="#000" stroke-width="2.2" stroke-linecap="butt"/>
<line x1="1899.20" y1="136.10" x2="1917.20" y2="136.10" stroke="#000" stroke-width="2.2" stroke-linecap="butt"/>
<line x1="1899.20" y1="166.00" x2="1917.20" y2="166.00" stroke="#000" stroke-width="2.2" stroke-linecap="butt"/>
<circle cx="1895.7" cy="142.9" r="3.9" fill="#000"/>
<circle cx="1908.5" cy="145.3" r="3.9" fill="#000"/>
<circle cx="1921.3" cy="142.9" r="3.9" fill="#000"/>
<circle cx="1908.5" cy="173.4" r="3.9" fill="#000"/>
<text transform="translate(1915.70 414.00) rotate(-45)" font-size="27.5" font-weight="bold" text-anchor="end" fill="#000" >N<tspan font-size="19" font-weight="normal" dy="-14.8">-</tspan><tspan dy="14.8" dx="0.5">&#8203;</tspan>G<tspan font-size="19" font-weight="normal" dy="-14.8">-</tspan><tspan dy="14.8" dx="0.5">&#8203;</tspan>M<tspan font-size="19" font-weight="normal" dy="-14.8">-</tspan><tspan dy="14.8" dx="0.5">&#8203;</tspan>/N<tspan font-size="19" font-weight="normal" dy="-14.8">+</tspan><tspan dy="14.8" dx="0.5">&#8203;</tspan>G<tspan font-size="19" font-weight="normal" dy="-14.8">+</tspan><tspan dy="14.8" dx="0.5">&#8203;</tspan>M<tspan font-size="19" font-weight="normal" dy="-14.8">+</tspan></text>
<line x1="1957.90" y1="373.50" x2="1957.90" y2="389.50" stroke="#000" stroke-width="4.3" stroke-linecap="round"/>
<line x1="1957.90" y1="47.80" x2="1957.90" y2="97.60" stroke="#000" stroke-width="2.2" stroke-linecap="butt"/>
<line x1="1948.90" y1="47.80" x2="1966.90" y2="47.80" stroke="#000" stroke-width="2.2" stroke-linecap="butt"/>
<line x1="1948.90" y1="97.60" x2="1966.90" y2="97.60" stroke="#000" stroke-width="2.2" stroke-linecap="butt"/>
<circle cx="1957.9" cy="46.6" r="3.9" fill="#000"/>
<circle cx="1957.9" cy="62.2" r="3.9" fill="#000"/>
<circle cx="1957.9" cy="78.0" r="3.9" fill="#000"/>
<circle cx="1957.9" cy="105.0" r="3.9" fill="#000"/>
<text transform="translate(1965.40 414.00) rotate(-45)" font-size="27.5" font-weight="bold" text-anchor="end" fill="#000" >N<tspan font-size="19" font-weight="normal" dy="-14.8">-</tspan><tspan dy="14.8" dx="0.5">&#8203;</tspan>G<tspan font-size="19" font-weight="normal" dy="-14.8">+</tspan><tspan dy="14.8" dx="0.5">&#8203;</tspan>M<tspan font-size="19" font-weight="normal" dy="-14.8">+</tspan><tspan dy="14.8" dx="0.5">&#8203;</tspan>/N<tspan font-size="19" font-weight="normal" dy="-14.8">+</tspan><tspan dy="14.8" dx="0.5">&#8203;</tspan>G<tspan font-size="19" font-weight="normal" dy="-14.8">-</tspan><tspan dy="14.8" dx="0.5">&#8203;</tspan>M<tspan font-size="19" font-weight="normal" dy="-14.8">-</tspan></text>
<text transform="translate(1751.40 190.80) rotate(-90)" font-size="30" font-weight="bold" text-anchor="middle" fill="#000" >Lag time (hours)</text>
<path d="M1539.85 983.00V659.45H1568.15V983.00" fill="#fff" stroke="#000" stroke-width="7.5" stroke-linejoin="miter"/>
<path d="M1590.85 983.00V750.85H1618.85V983.00" fill="#fff" stroke="#000" stroke-width="7.5" stroke-linejoin="miter"/>
<path d="M1641.75 983.00V820.05H1669.75V983.00" fill="#fff" stroke="#000" stroke-width="7.5" stroke-linejoin="miter"/>
<line x1="1520.40" y1="621.50" x2="1520.40" y2="985.50" stroke="#000" stroke-width="4.3" stroke-linecap="round"/>
<line x1="1503.00" y1="983.00" x2="1692.00" y2="983.00" stroke="#000" stroke-width="4.3" stroke-linecap="round"/>
<line x1="1511.70" y1="983.00" x2="1520.40" y2="983.00" stroke="#000" stroke-width="4.3" stroke-linecap="round"/>
<line x1="1511.70" y1="966.65" x2="1520.40" y2="966.65" stroke="#000" stroke-width="4.3" stroke-linecap="round"/>
<line x1="1511.70" y1="950.31" x2="1520.40" y2="950.31" stroke="#000" stroke-width="4.3" stroke-linecap="round"/>
<line x1="1511.70" y1="933.97" x2="1520.40" y2="933.97" stroke="#000" stroke-width="4.3" stroke-linecap="round"/>
<line x1="1511.70" y1="917.62" x2="1520.40" y2="917.62" stroke="#000" stroke-width="4.3" stroke-linecap="round"/>
<line x1="1511.70" y1="901.27" x2="1520.40" y2="901.27" stroke="#000" stroke-width="4.3" stroke-linecap="round"/>
<line x1="1511.70" y1="884.93" x2="1520.40" y2="884.93" stroke="#000" stroke-width="4.3" stroke-linecap="round"/>
<line x1="1511.70" y1="868.59" x2="1520.40" y2="868.59" stroke="#000" stroke-width="4.3" stroke-linecap="round"/>
<line x1="1511.70" y1="852.24" x2="1520.40" y2="852.24" stroke="#000" stroke-width="4.3" stroke-linecap="round"/>
<line x1="1511.70" y1="835.89" x2="1520.40" y2="835.89" stroke="#000" stroke-width="4.3" stroke-linecap="round"/>
<line x1="1511.70" y1="819.55" x2="1520.40" y2="819.55" stroke="#000" stroke-width="4.3" stroke-linecap="round"/>
<line x1="1511.70" y1="803.21" x2="1520.40" y2="803.21" stroke="#000" stroke-width="4.3" stroke-linecap="round"/>
<line x1="1511.70" y1="786.86" x2="1520.40" y2="786.86" stroke="#000" stroke-width="4.3" stroke-linecap="round"/>
<line x1="1511.70" y1="770.51" x2="1520.40" y2="770.51" stroke="#000" stroke-width="4.3" stroke-linecap="round"/>
<line x1="1511.70" y1="754.17" x2="1520.40" y2="754.17" stroke="#000" stroke-width="4.3" stroke-linecap="round"/>
<line x1="1511.70" y1="737.83" x2="1520.40" y2="737.83" stroke="#000" stroke-width="4.3" stroke-linecap="round"/>
<line x1="1511.70" y1="721.48" x2="1520.40" y2="721.48" stroke="#000" stroke-width="4.3" stroke-linecap="round"/>
<line x1="1511.70" y1="705.13" x2="1520.40" y2="705.13" stroke="#000" stroke-width="4.3" stroke-linecap="round"/>
<line x1="1511.70" y1="688.79" x2="1520.40" y2="688.79" stroke="#000" stroke-width="4.3" stroke-linecap="round"/>
<line x1="1511.70" y1="672.45" x2="1520.40" y2="672.45" stroke="#000" stroke-width="4.3" stroke-linecap="round"/>
<line x1="1511.70" y1="656.10" x2="1520.40" y2="656.10" stroke="#000" stroke-width="4.3" stroke-linecap="round"/>
<line x1="1511.70" y1="639.75" x2="1520.40" y2="639.75" stroke="#000" stroke-width="4.3" stroke-linecap="round"/>
<line x1="1511.70" y1="623.41" x2="1520.40" y2="623.41" stroke="#000" stroke-width="4.3" stroke-linecap="round"/>
<line x1="1504.80" y1="983.00" x2="1520.40" y2="983.00" stroke="#000" stroke-width="4.3" stroke-linecap="round"/>
<text transform="translate(1500.50 992.40)" font-size="26.3" font-weight="bold" text-anchor="end" fill="#000" >0.0</text>
<line x1="1504.80" y1="819.70" x2="1520.40" y2="819.70" stroke="#000" stroke-width="4.3" stroke-linecap="round"/>
<text transform="translate(1500.50 829.10)" font-size="26.3" font-weight="bold" text-anchor="end" fill="#000" >0.5</text>
<line x1="1504.80" y1="656.20" x2="1520.40" y2="656.20" stroke="#000" stroke-width="4.3" stroke-linecap="round"/>
<text transform="translate(1500.50 665.60)" font-size="26.3" font-weight="bold" text-anchor="end" fill="#000" >1.0</text>
<line x1="1553.70" y1="983.00" x2="1553.70" y2="999.00" stroke="#000" stroke-width="4.3" stroke-linecap="round"/>
<line x1="1553.70" y1="647.80" x2="1553.70" y2="665.20" stroke="#000" stroke-width="2.2" stroke-linecap="butt"/>
<line x1="1544.70" y1="647.80" x2="1562.70" y2="647.80" stroke="#000" stroke-width="2.2" stroke-linecap="butt"/>
<line x1="1544.70" y1="665.20" x2="1562.70" y2="665.20" stroke="#000" stroke-width="2.2" stroke-linecap="butt"/>
<circle cx="1540.5" cy="649.4" r="3.9" fill="#000"/>
<circle cx="1567.4" cy="651.8" r="3.9" fill="#000"/>
<circle cx="1553.7" cy="656.0" r="3.9" fill="#000"/>
<circle cx="1553.7" cy="668.0" r="3.9" fill="#000"/>
<text transform="translate(1561.20 1023.50) rotate(-45)" font-size="27.5" font-weight="bold" text-anchor="end" fill="#000" >N<tspan font-size="19" font-weight="normal" dy="-14.8">+</tspan><tspan dy="14.8" dx="0.5">&#8203;</tspan>G<tspan font-size="19" font-weight="normal" dy="-14.8">+</tspan><tspan dy="14.8" dx="0.5">&#8203;</tspan>M<tspan font-size="19" font-weight="normal" dy="-14.8">+</tspan><tspan dy="14.8" dx="0.5">&#8203;</tspan>/N<tspan font-size="19" font-weight="normal" dy="-14.8">+</tspan><tspan dy="14.8" dx="0.5">&#8203;</tspan>G<tspan font-size="19" font-weight="normal" dy="-14.8">+</tspan><tspan dy="14.8" dx="0.5">&#8203;</tspan>M<tspan font-size="19" font-weight="normal" dy="-14.8">+</tspan></text>
<line x1="1604.80" y1="983.00" x2="1604.80" y2="999.00" stroke="#000" stroke-width="4.3" stroke-linecap="round"/>
<line x1="1604.80" y1="744.60" x2="1604.80" y2="747.00" stroke="#000" stroke-width="2.2" stroke-linecap="butt"/>
<line x1="1595.80" y1="744.60" x2="1613.80" y2="744.60" stroke="#000" stroke-width="2.2" stroke-linecap="butt"/>
<line x1="1595.80" y1="747.00" x2="1613.80" y2="747.00" stroke="#000" stroke-width="2.2" stroke-linecap="butt"/>
<circle cx="1599.8" cy="745.3" r="3.9" fill="#000"/>
<circle cx="1606.0" cy="746.2" r="3.9" fill="#000"/>
<circle cx="1612.0" cy="746.2" r="3.9" fill="#000"/>
<circle cx="1618.3" cy="746.7" r="3.9" fill="#000"/>
<text transform="translate(1612.30 1023.50) rotate(-45)" font-size="27.5" font-weight="bold" text-anchor="end" fill="#000" >N<tspan font-size="19" font-weight="normal" dy="-14.8">-</tspan><tspan dy="14.8" dx="0.5">&#8203;</tspan>G<tspan font-size="19" font-weight="normal" dy="-14.8">-</tspan><tspan dy="14.8" dx="0.5">&#8203;</tspan>M<tspan font-size="19" font-weight="normal" dy="-14.8">-</tspan><tspan dy="14.8" dx="0.5">&#8203;</tspan>/N<tspan font-size="19" font-weight="normal" dy="-14.8">+</tspan><tspan dy="14.8" dx="0.5">&#8203;</tspan>G<tspan font-size="19" font-weight="normal" dy="-14.8">+</tspan><tspan dy="14.8" dx="0.5">&#8203;</tspan>M<tspan font-size="19" font-weight="normal" dy="-14.8">+</tspan></text>
<line x1="1655.80" y1="983.00" x2="1655.80" y2="999.00" stroke="#000" stroke-width="4.3" stroke-linecap="round"/>
<line x1="1655.80" y1="803.30" x2="1655.80" y2="827.90" stroke="#000" stroke-width="2.2" stroke-linecap="butt"/>
<line x1="1646.80" y1="803.30" x2="1664.80" y2="803.30" stroke="#000" stroke-width="2.2" stroke-linecap="butt"/>
<line x1="1646.80" y1="827.90" x2="1664.80" y2="827.90" stroke="#000" stroke-width="2.2" stroke-linecap="butt"/>
<circle cx="1662.6" cy="803.3" r="3.9" fill="#000"/>
<circle cx="1648.0" cy="808.8" r="3.9" fill="#000"/>
<circle cx="1648.0" cy="827.9" r="3.9" fill="#000"/>
<circle cx="1663.3" cy="827.9" r="3.9" fill="#000"/>
<text transform="translate(1663.30 1023.50) rotate(-45)" font-size="27.5" font-weight="bold" text-anchor="end" fill="#000" >N<tspan font-size="19" font-weight="normal" dy="-14.8">-</tspan><tspan dy="14.8" dx="0.5">&#8203;</tspan>G<tspan font-size="19" font-weight="normal" dy="-14.8">+</tspan><tspan dy="14.8" dx="0.5">&#8203;</tspan>M<tspan font-size="19" font-weight="normal" dy="-14.8">+</tspan><tspan dy="14.8" dx="0.5">&#8203;</tspan>/N<tspan font-size="19" font-weight="normal" dy="-14.8">+</tspan><tspan dy="14.8" dx="0.5">&#8203;</tspan>G<tspan font-size="19" font-weight="normal" dy="-14.8">-</tspan><tspan dy="14.8" dx="0.5">&#8203;</tspan>M<tspan font-size="19" font-weight="normal" dy="-14.8">-</tspan></text>
<text transform="translate(1445.60 800.00) rotate(-90)" font-size="30" font-weight="bold" text-anchor="middle" fill="#000" >Relative activity</text>
<path d="M1853.10 983.80V920.60H1879.70V983.80" fill="#fff" stroke="#000" stroke-width="7.2" stroke-linejoin="miter"/>
<path d="M1902.10 983.80V764.60H1928.60V983.80" fill="#fff" stroke="#000" stroke-width="7.2" stroke-linejoin="miter"/>
<path d="M1950.20 983.80V683.80H1977.00V983.80" fill="#fff" stroke="#000" stroke-width="7.2" stroke-linejoin="miter"/>
<line x1="1834.50" y1="614.10" x2="1834.50" y2="986.30" stroke="#000" stroke-width="4.3" stroke-linecap="round"/>
<line x1="1818.00" y1="983.80" x2="2002.00" y2="983.80" stroke="#000" stroke-width="4.3" stroke-linecap="round"/>
<line x1="1818.90" y1="983.80" x2="1834.50" y2="983.80" stroke="#000" stroke-width="4.3" stroke-linecap="round"/>
<text transform="translate(1814.60 993.20)" font-size="28.5" font-weight="bold" text-anchor="end" fill="#000" >0</text>
<line x1="1818.90" y1="891.90" x2="1834.50" y2="891.90" stroke="#000" stroke-width="4.3" stroke-linecap="round"/>
<text transform="translate(1814.60 901.30)" font-size="28.5" font-weight="bold" text-anchor="end" fill="#000" >1</text>
<line x1="1818.90" y1="799.90" x2="1834.50" y2="799.90" stroke="#000" stroke-width="4.3" stroke-linecap="round"/>
<text transform="translate(1814.60 809.30)" font-size="28.5" font-weight="bold" text-anchor="end" fill="#000" >2</text>
<line x1="1818.90" y1="708.10" x2="1834.50" y2="708.10" stroke="#000" stroke-width="4.3" stroke-linecap="round"/>
<text transform="translate(1814.60 717.50)" font-size="28.5" font-weight="bold" text-anchor="end" fill="#000" >3</text>
<line x1="1818.90" y1="616.10" x2="1834.50" y2="616.10" stroke="#000" stroke-width="4.3" stroke-linecap="round"/>
<text transform="translate(1814.60 625.50)" font-size="28.5" font-weight="bold" text-anchor="end" fill="#000" >4</text>
<line x1="1866.30" y1="983.80" x2="1866.30" y2="999.80" stroke="#000" stroke-width="4.3" stroke-linecap="round"/>
<line x1="1866.30" y1="914.20" x2="1866.30" y2="917.00" stroke="#000" stroke-width="2.2" stroke-linecap="butt"/>
<line x1="1857.30" y1="914.20" x2="1875.30" y2="914.20" stroke="#000" stroke-width="2.2" stroke-linecap="butt"/>
<line x1="1857.30" y1="917.00" x2="1875.30" y2="917.00" stroke="#000" stroke-width="2.2" stroke-linecap="butt"/>
<circle cx="1861.9" cy="914.8" r="3.9" fill="#000"/>
<circle cx="1879.2" cy="914.8" r="3.9" fill="#000"/>
<circle cx="1870.0" cy="917.5" r="3.9" fill="#000"/>
<text transform="translate(1873.80 1024.30) rotate(-45)" font-size="27.5" font-weight="bold" text-anchor="end" fill="#000" >N<tspan font-size="19" font-weight="normal" dy="-14.8">+</tspan><tspan dy="14.8" dx="0.5">&#8203;</tspan>G<tspan font-size="19" font-weight="normal" dy="-14.8">+</tspan><tspan dy="14.8" dx="0.5">&#8203;</tspan>M<tspan font-size="19" font-weight="normal" dy="-14.8">+</tspan><tspan dy="14.8" dx="0.5">&#8203;</tspan>/N<tspan font-size="19" font-weight="normal" dy="-14.8">+</tspan><tspan dy="14.8" dx="0.5">&#8203;</tspan>G<tspan font-size="19" font-weight="normal" dy="-14.8">+</tspan><tspan dy="14.8" dx="0.5">&#8203;</tspan>M<tspan font-size="19" font-weight="normal" dy="-14.8">+</tspan></text>
<line x1="1914.80" y1="983.80" x2="1914.80" y2="999.80" stroke="#000" stroke-width="4.3" stroke-linecap="round"/>
<line x1="1914.80" y1="751.70" x2="1914.80" y2="771.20" stroke="#000" stroke-width="2.2" stroke-linecap="butt"/>
<line x1="1905.80" y1="751.70" x2="1923.80" y2="751.70" stroke="#000" stroke-width="2.2" stroke-linecap="butt"/>
<line x1="1905.80" y1="771.20" x2="1923.80" y2="771.20" stroke="#000" stroke-width="2.2" stroke-linecap="butt"/>
<circle cx="1922.4" cy="751.5" r="3.9" fill="#000"/>
<circle cx="1907.6" cy="756.9" r="3.9" fill="#000"/>
<circle cx="1914.8" cy="774.0" r="3.9" fill="#000"/>
<text transform="translate(1922.30 1024.30) rotate(-45)" font-size="27.5" font-weight="bold" text-anchor="end" fill="#000" >N<tspan font-size="19" font-weight="normal" dy="-14.8">-</tspan><tspan dy="14.8" dx="0.5">&#8203;</tspan>G<tspan font-size="19" font-weight="normal" dy="-14.8">-</tspan><tspan dy="14.8" dx="0.5">&#8203;</tspan>M<tspan font-size="19" font-weight="normal" dy="-14.8">-</tspan><tspan dy="14.8" dx="0.5">&#8203;</tspan>/N<tspan font-size="19" font-weight="normal" dy="-14.8">+</tspan><tspan dy="14.8" dx="0.5">&#8203;</tspan>G<tspan font-size="19" font-weight="normal" dy="-14.8">+</tspan><tspan dy="14.8" dx="0.5">&#8203;</tspan>M<tspan font-size="19" font-weight="normal" dy="-14.8">+</tspan></text>
<line x1="1963.30" y1="983.80" x2="1963.30" y2="999.80" stroke="#000" stroke-width="4.3" stroke-linecap="round"/>
<line x1="1963.30" y1="667.50" x2="1963.30" y2="691.00" stroke="#000" stroke-width="2.2" stroke-linecap="butt"/>
<line x1="1954.30" y1="667.50" x2="1972.30" y2="667.50" stroke="#000" stroke-width="2.2" stroke-linecap="butt"/>
<line x1="1954.30" y1="691.00" x2="1972.30" y2="691.00" stroke="#000" stroke-width="2.2" stroke-linecap="butt"/>
<circle cx="1963.3" cy="663.0" r="3.9" fill="#000"/>
<circle cx="1963.3" cy="681.9" r="3.9" fill="#000"/>
<circle cx="1957.0" cy="690.5" r="3.9" fill="#000"/>
<circle cx="1969.5" cy="690.5" r="3.9" fill="#000"/>
<text transform="translate(1970.80 1024.30) rotate(-45)" font-size="27.5" font-weight="bold" text-anchor="end" fill="#000" >N<tspan font-size="19" font-weight="normal" dy="-14.8">-</tspan><tspan dy="14.8" dx="0.5">&#8203;</tspan>G<tspan font-size="19" font-weight="normal" dy="-14.8">+</tspan><tspan dy="14.8" dx="0.5">&#8203;</tspan>M<tspan font-size="19" font-weight="normal" dy="-14.8">+</tspan><tspan dy="14.8" dx="0.5">&#8203;</tspan>/N<tspan font-size="19" font-weight="normal" dy="-14.8">+</tspan><tspan dy="14.8" dx="0.5">&#8203;</tspan>G<tspan font-size="19" font-weight="normal" dy="-14.8">-</tspan><tspan dy="14.8" dx="0.5">&#8203;</tspan>M<tspan font-size="19" font-weight="normal" dy="-14.8">-</tspan></text>
<text transform="translate(1781.50 798.60) rotate(-90)" font-size="30.6" font-weight="bold" text-anchor="middle" fill="#000" >Lag time (hours)</text>
<path d="M1229.75 1541.90V1214.65H1258.05V1541.90" fill="#fff" stroke="#000" stroke-width="7.3" stroke-linejoin="miter"/>
<path d="M1280.75 1541.90V1214.25H1309.35V1541.90" fill="#fff" stroke="#000" stroke-width="7.3" stroke-linejoin="miter"/>
<path d="M1332.85 1541.90V1388.25H1360.95V1541.90" fill="#fff" stroke="#000" stroke-width="7.3" stroke-linejoin="miter"/>
<path d="M1383.85 1541.90V1497.05H1412.35V1541.90" fill="#fff" stroke="#000" stroke-width="7.3" stroke-linejoin="miter"/>
<line x1="1210.50" y1="1176.50" x2="1210.50" y2="1544.40" stroke="#000" stroke-width="4.3" stroke-linecap="round"/>
<line x1="1193.00" y1="1541.90" x2="1435.50" y2="1541.90" stroke="#000" stroke-width="4.3" stroke-linecap="round"/>
<line x1="1201.80" y1="1541.90" x2="1210.50" y2="1541.90" stroke="#000" stroke-width="4.3" stroke-linecap="round"/>
<line x1="1201.80" y1="1525.38" x2="1210.50" y2="1525.38" stroke="#000" stroke-width="4.3" stroke-linecap="round"/>
<line x1="1201.80" y1="1508.86" x2="1210.50" y2="1508.86" stroke="#000" stroke-width="4.3" stroke-linecap="round"/>
<line x1="1201.80" y1="1492.34" x2="1210.50" y2="1492.34" stroke="#000" stroke-width="4.3" stroke-linecap="round"/>
<line x1="1201.80" y1="1475.82" x2="1210.50" y2="1475.82" stroke="#000" stroke-width="4.3" stroke-linecap="round"/>
<line x1="1201.80" y1="1459.30" x2="1210.50" y2="1459.30" stroke="#000" stroke-width="4.3" stroke-linecap="round"/>
<line x1="1201.80" y1="1442.78" x2="1210.50" y2="1442.78" stroke="#000" stroke-width="4.3" stroke-linecap="round"/>
<line x1="1201.80" y1="1426.26" x2="1210.50" y2="1426.26" stroke="#000" stroke-width="4.3" stroke-linecap="round"/>
<line x1="1201.80" y1="1409.74" x2="1210.50" y2="1409.74" stroke="#000" stroke-width="4.3" stroke-linecap="round"/>
<line x1="1201.80" y1="1393.22" x2="1210.50" y2="1393.22" stroke="#000" stroke-width="4.3" stroke-linecap="round"/>
<line x1="1201.80" y1="1376.70" x2="1210.50" y2="1376.70" stroke="#000" stroke-width="4.3" stroke-linecap="round"/>
<line x1="1201.80" y1="1360.18" x2="1210.50" y2="1360.18" stroke="#000" stroke-width="4.3" stroke-linecap="round"/>
<line x1="1201.80" y1="1343.66" x2="1210.50" y2="1343.66" stroke="#000" stroke-width="4.3" stroke-linecap="round"/>
<line x1="1201.80" y1="1327.14" x2="1210.50" y2="1327.14" stroke="#000" stroke-width="4.3" stroke-linecap="round"/>
<line x1="1201.80" y1="1310.62" x2="1210.50" y2="1310.62" stroke="#000" stroke-width="4.3" stroke-linecap="round"/>
<line x1="1201.80" y1="1294.10" x2="1210.50" y2="1294.10" stroke="#000" stroke-width="4.3" stroke-linecap="round"/>
<line x1="1201.80" y1="1277.58" x2="1210.50" y2="1277.58" stroke="#000" stroke-width="4.3" stroke-linecap="round"/>
<line x1="1201.80" y1="1261.06" x2="1210.50" y2="1261.06" stroke="#000" stroke-width="4.3" stroke-linecap="round"/>
<line x1="1201.80" y1="1244.54" x2="1210.50" y2="1244.54" stroke="#000" stroke-width="4.3" stroke-linecap="round"/>
<line x1="1201.80" y1="1228.02" x2="1210.50" y2="1228.02" stroke="#000" stroke-width="4.3" stroke-linecap="round"/>
<line x1="1201.80" y1="1211.50" x2="1210.50" y2="1211.50" stroke="#000" stroke-width="4.3" stroke-linecap="round"/>
<line x1="1201.80" y1="1194.98" x2="1210.50" y2="1194.98" stroke="#000" stroke-width="4.3" stroke-linecap="round"/>
<line x1="1201.80" y1="1178.46" x2="1210.50" y2="1178.46" stroke="#000" stroke-width="4.3" stroke-linecap="round"/>
<line x1="1194.90" y1="1541.90" x2="1210.50" y2="1541.90" stroke="#000" stroke-width="4.3" stroke-linecap="round"/>
<text transform="translate(1190.60 1551.30)" font-size="26.3" font-weight="bold" text-anchor="end" fill="#000" >0.0</text>
<line x1="1194.90" y1="1376.50" x2="1210.50" y2="1376.50" stroke="#000" stroke-width="4.3" stroke-linecap="round"/>
<text transform="translate(1190.60 1385.90)" font-size="26.3" font-weight="bold" text-anchor="end" fill="#000" >0.5</text>
<line x1="1194.90" y1="1211.40" x2="1210.50" y2="1211.40" stroke="#000" stroke-width="4.3" stroke-linecap="round"/>
<text transform="translate(1190.60 1220.80)" font-size="26.3" font-weight="bold" text-anchor="end" fill="#000" >1.0</text>
<line x1="1243.80" y1="1541.90" x2="1243.80" y2="1557.90" stroke="#000" stroke-width="4.3" stroke-linecap="round"/>
<line x1="1243.80" y1="1188.50" x2="1243.80" y2="1235.10" stroke="#000" stroke-width="2.2" stroke-linecap="butt"/>
<line x1="1234.80" y1="1188.50" x2="1252.80" y2="1188.50" stroke="#000" stroke-width="2.2" stroke-linecap="butt"/>
<line x1="1234.80" y1="1235.10" x2="1252.80" y2="1235.10" stroke="#000" stroke-width="2.2" stroke-linecap="butt"/>
<circle cx="1232.5" cy="1198.7" r="5.3" fill="#000"/>
<circle cx="1255.7" cy="1195.9" r="5.3" fill="#000"/>
<circle cx="1255.7" cy="1207.0" r="5.3" fill="#000"/>
<circle cx="1243.9" cy="1245.4" r="5.3" fill="#000"/>
<text transform="translate(1251.80 1583.20) rotate(-45)" font-size="27.9" font-weight="bold" text-anchor="end" fill="#000" >Tetramer + primer</text>
<line x1="1295.10" y1="1541.90" x2="1295.10" y2="1557.90" stroke="#000" stroke-width="4.3" stroke-linecap="round"/>
<line x1="1295.10" y1="1194.70" x2="1295.10" y2="1228.30" stroke="#000" stroke-width="2.2" stroke-linecap="butt"/>
<line x1="1286.10" y1="1194.70" x2="1304.10" y2="1194.70" stroke="#000" stroke-width="2.2" stroke-linecap="butt"/>
<line x1="1286.10" y1="1228.30" x2="1304.10" y2="1228.30" stroke="#000" stroke-width="2.2" stroke-linecap="butt"/>
<circle cx="1283.9" cy="1201.7" r="5.3" fill="#000"/>
<circle cx="1306.8" cy="1198.4" r="5.3" fill="#000"/>
<circle cx="1306.8" cy="1209.5" r="5.3" fill="#000"/>
<circle cx="1295.3" cy="1235.4" r="5.3" fill="#000"/>
<text transform="translate(1303.10 1583.20) rotate(-45)" font-size="27.9" font-weight="bold" text-anchor="end" fill="#000" >Dimer + primer</text>
<line x1="1346.80" y1="1541.90" x2="1346.80" y2="1557.90" stroke="#000" stroke-width="4.3" stroke-linecap="round"/>
<circle cx="1334.0" cy="1386.7" r="5.3" fill="#000"/>
<circle cx="1342.8" cy="1381.5" r="5.3" fill="#000"/>
<circle cx="1351.0" cy="1385.4" r="5.3" fill="#000"/>
<circle cx="1358.8" cy="1384.0" r="5.3" fill="#000"/>
<text transform="translate(1354.80 1583.20) rotate(-45)" font-size="27.9" font-weight="bold" text-anchor="end" fill="#000" >Tetramer no primer</text>
<line x1="1398.00" y1="1541.90" x2="1398.00" y2="1557.90" stroke="#000" stroke-width="4.3" stroke-linecap="round"/>
<circle cx="1385.4" cy="1494.6" r="5.3" fill="#000"/>
<circle cx="1393.9" cy="1490.7" r="5.3" fill="#000"/>
<circle cx="1402.3" cy="1493.9" r="5.3" fill="#000"/>
<circle cx="1409.8" cy="1493.3" r="5.3" fill="#000"/>
<text transform="translate(1406.00 1583.20) rotate(-45)" font-size="27.9" font-weight="bold" text-anchor="end" fill="#000" >Dimer no primer</text>
<text transform="translate(1134.00 1357.00) rotate(-90)" font-size="30" font-weight="bold" text-anchor="middle" fill="#000" >Relative activity</text>
<line x1="148.00" y1="1183.60" x2="148.00" y2="1574.00" stroke="#000" stroke-width="4" stroke-linecap="butt"/>
<line x1="132.00" y1="1572.00" x2="727.00" y2="1572.00" stroke="#000" stroke-width="4" stroke-linecap="butt"/>
<line x1="132.00" y1="1185.60" x2="148.00" y2="1185.60" stroke="#000" stroke-width="4" stroke-linecap="butt"/>
<text transform="translate(127.60 1195.60)" font-size="29" font-weight="bold" text-anchor="end" fill="#000" >0.4</text>
<line x1="132.00" y1="1282.80" x2="148.00" y2="1282.80" stroke="#000" stroke-width="4" stroke-linecap="butt"/>
<text transform="translate(127.60 1292.80)" font-size="29" font-weight="bold" text-anchor="end" fill="#000" >0.3</text>
<line x1="132.00" y1="1378.80" x2="148.00" y2="1378.80" stroke="#000" stroke-width="4" stroke-linecap="butt"/>
<text transform="translate(127.60 1388.80)" font-size="29" font-weight="bold" text-anchor="end" fill="#000" >0.2</text>
<line x1="132.00" y1="1475.20" x2="148.00" y2="1475.20" stroke="#000" stroke-width="4" stroke-linecap="butt"/>
<text transform="translate(127.60 1485.20)" font-size="29" font-weight="bold" text-anchor="end" fill="#000" >0.1</text>
<line x1="132.00" y1="1572.00" x2="148.00" y2="1572.00" stroke="#000" stroke-width="4" stroke-linecap="butt"/>
<text transform="translate(127.60 1582.00)" font-size="29" font-weight="bold" text-anchor="end" fill="#000" >0.0</text>
<line x1="148.00" y1="1572.00" x2="148.00" y2="1588.00" stroke="#000" stroke-width="4" stroke-linecap="butt"/>
<text transform="translate(148.00 1621.00)" font-size="29" font-weight="bold" text-anchor="middle" fill="#000" >0</text>
<line x1="167.23" y1="1572.00" x2="167.23" y2="1580.00" stroke="#000" stroke-width="4" stroke-linecap="butt"/>
<line x1="186.46" y1="1572.00" x2="186.46" y2="1580.00" stroke="#000" stroke-width="4" stroke-linecap="butt"/>
<line x1="205.69" y1="1572.00" x2="205.69" y2="1580.00" stroke="#000" stroke-width="4" stroke-linecap="butt"/>
<line x1="224.92" y1="1572.00" x2="224.92" y2="1580.00" stroke="#000" stroke-width="4" stroke-linecap="butt"/>
<line x1="244.15" y1="1572.00" x2="244.15" y2="1580.00" stroke="#000" stroke-width="4" stroke-linecap="butt"/>
<line x1="263.38" y1="1572.00" x2="263.38" y2="1580.00" stroke="#000" stroke-width="4" stroke-linecap="butt"/>
<line x1="282.61" y1="1572.00" x2="282.61" y2="1580.00" stroke="#000" stroke-width="4" stroke-linecap="butt"/>
<line x1="301.84" y1="1572.00" x2="301.84" y2="1580.00" stroke="#000" stroke-width="4" stroke-linecap="butt"/>
<line x1="321.07" y1="1572.00" x2="321.07" y2="1580.00" stroke="#000" stroke-width="4" stroke-linecap="butt"/>
<line x1="340.30" y1="1572.00" x2="340.30" y2="1588.00" stroke="#000" stroke-width="4" stroke-linecap="butt"/>
<text transform="translate(340.30 1621.00)" font-size="29" font-weight="bold" text-anchor="middle" fill="#000" >30</text>
<line x1="359.53" y1="1572.00" x2="359.53" y2="1580.00" stroke="#000" stroke-width="4" stroke-linecap="butt"/>
<line x1="378.76" y1="1572.00" x2="378.76" y2="1580.00" stroke="#000" stroke-width="4" stroke-linecap="butt"/>
<line x1="397.99" y1="1572.00" x2="397.99" y2="1580.00" stroke="#000" stroke-width="4" stroke-linecap="butt"/>
<line x1="417.22" y1="1572.00" x2="417.22" y2="1580.00" stroke="#000" stroke-width="4" stroke-linecap="butt"/>
<line x1="436.45" y1="1572.00" x2="436.45" y2="1580.00" stroke="#000" stroke-width="4" stroke-linecap="butt"/>
<line x1="455.68" y1="1572.00" x2="455.68" y2="1580.00" stroke="#000" stroke-width="4" stroke-linecap="butt"/>
<line x1="474.91" y1="1572.00" x2="474.91" y2="1580.00" stroke="#000" stroke-width="4" stroke-linecap="butt"/>
<line x1="494.14" y1="1572.00" x2="494.14" y2="1580.00" stroke="#000" stroke-width="4" stroke-linecap="butt"/>
<line x1="513.37" y1="1572.00" x2="513.37" y2="1580.00" stroke="#000" stroke-width="4" stroke-linecap="butt"/>
<line x1="532.60" y1="1572.00" x2="532.60" y2="1588.00" stroke="#000" stroke-width="4" stroke-linecap="butt"/>
<text transform="translate(532.60 1621.00)" font-size="29" font-weight="bold" text-anchor="middle" fill="#000" >60</text>
<line x1="551.83" y1="1572.00" x2="551.83" y2="1580.00" stroke="#000" stroke-width="4" stroke-linecap="butt"/>
<line x1="571.06" y1="1572.00" x2="571.06" y2="1580.00" stroke="#000" stroke-width="4" stroke-linecap="butt"/>
<line x1="590.29" y1="1572.00" x2="590.29" y2="1580.00" stroke="#000" stroke-width="4" stroke-linecap="butt"/>
<line x1="609.52" y1="1572.00" x2="609.52" y2="1580.00" stroke="#000" stroke-width="4" stroke-linecap="butt"/>
<line x1="628.75" y1="1572.00" x2="628.75" y2="1580.00" stroke="#000" stroke-width="4" stroke-linecap="butt"/>
<line x1="647.98" y1="1572.00" x2="647.98" y2="1580.00" stroke="#000" stroke-width="4" stroke-linecap="butt"/>
<line x1="667.21" y1="1572.00" x2="667.21" y2="1580.00" stroke="#000" stroke-width="4" stroke-linecap="butt"/>
<line x1="686.44" y1="1572.00" x2="686.44" y2="1580.00" stroke="#000" stroke-width="4" stroke-linecap="butt"/>
<line x1="705.67" y1="1572.00" x2="705.67" y2="1580.00" stroke="#000" stroke-width="4" stroke-linecap="butt"/>
<line x1="724.90" y1="1572.00" x2="724.90" y2="1588.00" stroke="#000" stroke-width="4" stroke-linecap="butt"/>
<text transform="translate(724.90 1621.00)" font-size="29" font-weight="bold" text-anchor="middle" fill="#000" >90</text>
<text transform="translate(437.00 1668.00)" font-size="32" font-weight="bold" text-anchor="middle" fill="#000" >Time (minutes)</text>
<text transform="translate(62.00 1378.00) rotate(-90)" font-size="33" font-weight="bold" text-anchor="middle" fill="#000" >OD<tspan font-size="21.5" dy="7">600</tspan></text>
<path d="M289.0 1566.7V1568.1M285.3 1566.7H292.7M285.3 1568.1H292.7M292.2 1566.2V1568.0M288.5 1566.2H295.9M288.5 1568.0H295.9M295.4 1566.1V1567.4M291.7 1566.1H299.1M291.7 1567.4H299.1M298.6 1565.8V1567.1M294.9 1565.8H302.3M294.9 1567.1H302.3M301.8 1565.4V1566.8M298.1 1565.4H305.5M298.1 1566.8H305.5M305.0 1564.9V1566.5M301.3 1564.9H308.7M301.3 1566.5H308.7M308.2 1564.4V1566.5M304.6 1564.4H311.9M304.6 1566.5H311.9M311.5 1564.2V1565.9M307.8 1564.2H315.2M307.8 1565.9H315.2M314.7 1563.6V1565.5M311.0 1563.6H318.4M311.0 1565.5H318.4M317.9 1562.8V1565.1M314.2 1562.8H321.6M314.2 1565.1H321.6M321.1 1561.9V1564.6M317.4 1561.9H324.8M317.4 1564.6H324.8M324.3 1561.2V1564.1M320.6 1561.2H328.0M320.6 1564.1H328.0M327.5 1560.9V1563.2M323.8 1560.9H331.2M323.8 1563.2H331.2M330.7 1560.0V1562.7M327.0 1560.0H334.4M327.0 1562.7H334.4M333.9 1559.5V1561.9M330.2 1559.5H337.6M330.2 1561.9H337.6M337.1 1558.6V1561.6M333.4 1558.6H340.8M333.4 1561.6H340.8M340.3 1557.7V1561.4M336.6 1557.7H344.0M336.6 1561.4H344.0M343.5 1557.5V1560.2M339.8 1557.5H347.2M339.8 1560.2H347.2M346.7 1556.9V1559.3M343.0 1556.9H350.4M343.0 1559.3H350.4M349.9 1555.5V1559.1M346.2 1555.5H353.6M346.2 1559.1H353.6M353.1 1555.1V1557.9M349.4 1555.1H356.8M349.4 1557.9H356.8M356.3 1554.0V1557.4M352.6 1554.0H360.0M352.6 1557.4H360.0M359.5 1552.9V1556.9M355.8 1552.9H363.2M355.8 1556.9H363.2M362.7 1552.5V1555.8M359.0 1552.5H366.4M359.0 1555.8H366.4M365.9 1551.9V1554.7M362.2 1551.9H369.6M362.2 1554.7H369.6M369.1 1551.1V1554.0M365.4 1551.1H372.8M365.4 1554.0H372.8M372.4 1550.1V1553.2M368.7 1550.1H376.1M368.7 1553.2H376.1M375.6 1549.2V1552.5M371.9 1549.2H379.3M371.9 1552.5H379.3M378.8 1547.6V1552.0M375.1 1547.6H382.5M375.1 1552.0H382.5M382.0 1546.3V1551.5M378.3 1546.3H385.7M378.3 1551.5H385.7M385.2 1545.7V1550.1M381.5 1545.7H388.9M381.5 1550.1H388.9M388.4 1545.0V1549.1M384.7 1545.0H392.1M384.7 1549.1H392.1M391.6 1543.8V1548.2M387.9 1543.8H395.3M387.9 1548.2H395.3M394.8 1542.1V1547.6M391.1 1542.1H398.5M391.1 1547.6H398.5M398.0 1541.6V1546.7M394.3 1541.6H401.7M394.3 1546.7H401.7M401.2 1540.5V1545.3M397.5 1540.5H404.9M397.5 1545.3H404.9M404.4 1539.2V1545.1M400.7 1539.2H408.1M400.7 1545.1H408.1M407.6 1538.0V1544.3M403.9 1538.0H411.3M403.9 1544.3H411.3M410.8 1537.0V1543.0M407.1 1537.0H414.5M407.1 1543.0H414.5M414.0 1537.1V1540.9M410.3 1537.1H417.7M410.3 1540.9H417.7M417.2 1535.8V1540.4M413.5 1535.8H420.9M413.5 1540.4H420.9M420.4 1535.0V1539.9M416.7 1535.0H424.1M416.7 1539.9H424.1M423.6 1534.4V1538.2M419.9 1534.4H427.3M419.9 1538.2H427.3M426.8 1532.2V1538.6M423.1 1532.2H430.5M423.1 1538.6H430.5M430.0 1531.6V1537.3M426.3 1531.6H433.7M426.3 1537.3H433.7M433.2 1529.9V1537.2M429.5 1529.9H436.9M429.5 1537.2H436.9M436.4 1529.3V1535.7M432.8 1529.3H440.1M432.8 1535.7H440.1M439.7 1529.2V1533.3M436.0 1529.2H443.4M436.0 1533.3H443.4M442.9 1527.4V1532.4M439.2 1527.4H446.6M439.2 1532.4H446.6M446.1 1525.0V1532.6M442.4 1525.0H449.8M442.4 1532.6H449.8M449.3 1524.0V1531.4M445.6 1524.0H453.0M445.6 1531.4H453.0M452.5 1523.9V1529.8M448.8 1523.9H456.2M448.8 1529.8H456.2M455.7 1521.8V1529.6M452.0 1521.8H459.4M452.0 1529.6H459.4M458.9 1522.3V1527.2M455.2 1522.3H462.6M455.2 1527.2H462.6M462.1 1519.4V1526.9M458.4 1519.4H465.8M458.4 1526.9H465.8M465.3 1518.1V1526.2M461.6 1518.1H469.0M461.6 1526.2H469.0M468.5 1517.1V1524.8M464.8 1517.1H472.2M464.8 1524.8H472.2M471.7 1515.7V1523.8M468.0 1515.7H475.4M468.0 1523.8H475.4M474.9 1515.6V1521.9M471.2 1515.6H478.6M471.2 1521.9H478.6M478.1 1513.3V1521.1M474.4 1513.3H481.8M474.4 1521.1H481.8M481.3 1512.3V1519.7M477.6 1512.3H485.0M477.6 1519.7H485.0M484.5 1511.2V1517.6M480.8 1511.2H488.2M480.8 1517.6H488.2M487.7 1511.2V1516.1M484.0 1511.2H491.4M484.0 1516.1H491.4M490.9 1508.6V1515.3M487.2 1508.6H494.6M487.2 1515.3H494.6M494.1 1507.5V1514.5M490.4 1507.5H497.8M490.4 1514.5H497.8M497.3 1507.0V1512.8M493.6 1507.0H501.0M493.6 1512.8H501.0M500.6 1505.5V1511.5M496.9 1505.5H504.2M496.9 1511.5H504.2M503.8 1503.7V1509.7M500.1 1503.7H507.5M500.1 1509.7H507.5M507.0 1501.5V1510.3M503.3 1501.5H510.7M503.3 1510.3H510.7M510.2 1501.6V1506.9M506.5 1501.6H513.9M506.5 1506.9H513.9M513.4 1498.7V1506.9M509.7 1498.7H517.1M509.7 1506.9H517.1M516.6 1497.2V1505.8M512.9 1497.2H520.3M512.9 1505.8H520.3M519.8 1497.2V1503.5M516.1 1497.2H523.5M516.1 1503.5H523.5M523.0 1494.7V1502.8M519.3 1494.7H526.7M519.3 1502.8H526.7M526.2 1494.4V1500.5M522.5 1494.4H529.9M522.5 1500.5H529.9M529.4 1492.3V1500.9M525.7 1492.3H533.1M525.7 1500.9H533.1M532.6 1491.4V1499.6M528.9 1491.4H536.3M528.9 1499.6H536.3M535.8 1489.8V1498.8M532.1 1489.8H539.5M532.1 1498.8H539.5M539.0 1489.4V1497.2M535.3 1489.4H542.7M535.3 1497.2H542.7M542.2 1488.3V1495.3M538.5 1488.3H545.9M538.5 1495.3H545.9M545.4 1487.0V1495.5M541.7 1487.0H549.1M541.7 1495.5H549.1M548.6 1485.4V1495.0M544.9 1485.4H552.3M544.9 1495.0H552.3M551.8 1484.1V1493.9M548.1 1484.1H555.5M548.1 1493.9H555.5M555.0 1484.5V1490.8M551.3 1484.5H558.7M551.3 1490.8H558.7M558.2 1482.0V1490.9M554.5 1482.0H561.9M554.5 1490.9H561.9M561.4 1480.9V1489.5M557.7 1480.9H565.1M557.7 1489.5H565.1M564.7 1478.9V1489.2M561.0 1478.9H568.4M561.0 1489.2H568.4M567.9 1478.2V1487.7M564.2 1478.2H571.6M564.2 1487.7H571.6M571.1 1477.7V1485.9M567.4 1477.7H574.8M567.4 1485.9H574.8M574.3 1477.3V1483.7M570.6 1477.3H578.0M570.6 1483.7H578.0M577.5 1473.6V1483.8M573.8 1473.6H581.2M573.8 1483.8H581.2M580.7 1473.8V1481.6M577.0 1473.8H584.4M577.0 1481.6H584.4M583.9 1471.8V1480.6M580.2 1471.8H587.6M580.2 1480.6H587.6M587.1 1471.3V1478.8M583.4 1471.3H590.8M583.4 1478.8H590.8M590.3 1469.0V1477.6M586.6 1469.0H594.0M586.6 1477.6H594.0M593.5 1467.6V1477.5M589.8 1467.6H597.2M589.8 1477.5H597.2M596.7 1466.5V1474.6M593.0 1466.5H600.4M593.0 1474.6H600.4M599.9 1466.7V1474.1M596.2 1466.7H603.6M596.2 1474.1H603.6M603.1 1464.7V1471.5M599.4 1464.7H606.8M599.4 1471.5H606.8M606.3 1462.7V1472.6M602.6 1462.7H610.0M602.6 1472.6H610.0M609.5 1461.4V1471.6M605.8 1461.4H613.2M605.8 1471.6H613.2M612.7 1461.1V1469.1M609.0 1461.1H616.4M609.0 1469.1H616.4M615.9 1460.1V1466.7M612.2 1460.1H619.6M612.2 1466.7H619.6M619.1 1457.7V1466.0M615.4 1457.7H622.8M615.4 1466.0H622.8M622.3 1455.6V1465.6M618.6 1455.6H626.0M618.6 1465.6H626.0M625.5 1455.0V1465.3M621.8 1455.0H629.2M621.8 1465.3H629.2M628.8 1454.2V1461.6M625.0 1454.2H632.5M625.0 1461.6H632.5M632.0 1453.3V1460.5M628.3 1453.3H635.7M628.3 1460.5H635.7M635.2 1450.6V1460.7M631.5 1450.6H638.9M631.5 1460.7H638.9M638.4 1450.1V1459.0M634.7 1450.1H642.1M634.7 1459.0H642.1M641.6 1448.2V1459.0M637.9 1448.2H645.3M637.9 1459.0H645.3M644.8 1446.3V1456.9M641.1 1446.3H648.5M641.1 1456.9H648.5M648.0 1446.0V1456.1M644.3 1446.0H651.7M644.3 1456.1H651.7M651.2 1445.2V1454.4M647.5 1445.2H654.9M647.5 1454.4H654.9M654.4 1442.8V1453.9M650.7 1442.8H658.1M650.7 1453.9H658.1M657.6 1442.8V1451.6M653.9 1442.8H661.3M653.9 1451.6H661.3M660.8 1441.2V1449.6M657.1 1441.2H664.5M657.1 1449.6H664.5M664.0 1439.8V1449.7M660.3 1439.8H667.7M660.3 1449.7H667.7M667.2 1438.0V1446.3M663.5 1438.0H670.9M663.5 1446.3H670.9M670.4 1436.9V1445.1M666.7 1436.9H674.1M666.7 1445.1H674.1M673.6 1436.2V1445.1M669.9 1436.2H677.3M669.9 1445.1H677.3M676.8 1433.0V1443.7M673.1 1433.0H680.5M673.1 1443.7H680.5M680.0 1434.3V1441.0M676.3 1434.3H683.7M676.3 1441.0H683.7M683.2 1433.5V1440.0M679.5 1433.5H686.9M679.5 1440.0H686.9M686.4 1431.9V1440.5M682.7 1431.9H690.1M682.7 1440.5H690.1M689.6 1431.2V1438.3M685.9 1431.2H693.3M685.9 1438.3H693.3M692.9 1427.7V1438.6M689.1 1427.7H696.6M689.1 1438.6H696.6M696.1 1425.5V1437.2M692.4 1425.5H699.8M692.4 1437.2H699.8M699.3 1427.2V1434.8M695.6 1427.2H703.0M695.6 1434.8H703.0M702.5 1424.5V1433.5M698.8 1424.5H706.2M698.8 1433.5H706.2M705.7 1423.2V1434.5M702.0 1423.2H709.4M702.0 1434.5H709.4M708.9 1421.3V1433.3M705.2 1421.3H712.6M705.2 1433.3H712.6M712.1 1419.9V1431.9M708.4 1419.9H715.8M708.4 1431.9H715.8M715.3 1419.6V1431.7M711.6 1419.6H719.0M711.6 1431.7H719.0M718.5 1418.5V1429.2M714.8 1418.5H722.2M714.8 1429.2H722.2M721.7 1419.0V1427.2M718.0 1419.0H725.4M718.0 1427.2H725.4M724.9 1418.1V1425.8M721.2 1418.1H728.6M721.2 1425.8H728.6" fill="none" stroke="#b4bb35" stroke-width="2.4"/>
<polyline points="148.0,1572.0 151.2,1572.0 154.4,1572.0 157.6,1572.0 160.8,1572.0 164.0,1572.0 167.2,1572.0 170.4,1572.0 173.6,1572.0 176.8,1572.0 180.1,1572.0 183.3,1572.0 186.5,1572.0 189.7,1572.0 192.9,1572.0 196.1,1572.0 199.3,1572.0 202.5,1572.0 205.7,1572.0 208.9,1572.0 212.1,1572.0 215.3,1572.0 218.5,1572.0 221.7,1572.0 224.9,1572.0 228.1,1572.0 231.3,1572.0 234.5,1572.0 237.7,1572.0 240.9,1572.0 244.2,1572.0 247.4,1571.7 250.6,1571.4 253.8,1571.0 257.0,1570.7 260.2,1570.4 263.4,1570.1 266.6,1569.7 269.8,1569.4 273.0,1569.1 276.2,1568.8 279.4,1568.5 282.6,1568.1 285.8,1567.8 289.0,1567.4 292.2,1567.1 295.4,1566.8 298.6,1566.5 301.8,1566.1 305.0,1565.7 308.2,1565.4 311.5,1565.1 314.7,1564.5 317.9,1563.9 321.1,1563.3 324.3,1562.7 327.5,1562.0 330.7,1561.3 333.9,1560.7 337.1,1560.1 340.3,1559.5 343.5,1558.9 346.7,1558.1 349.9,1557.3 353.1,1556.5 356.3,1555.7 359.5,1554.9 362.7,1554.1 365.9,1553.3 369.1,1552.6 372.4,1551.7 375.6,1550.8 378.8,1549.8 382.0,1548.9 385.2,1547.9 388.4,1547.1 391.6,1546.0 394.8,1544.9 398.0,1544.1 401.2,1542.9 404.4,1542.2 407.6,1541.1 410.8,1540.0 414.0,1539.0 417.2,1538.1 420.4,1537.4 423.6,1536.3 426.8,1535.4 430.0,1534.4 433.2,1533.5 436.4,1532.5 439.7,1531.2 442.9,1529.9 446.1,1528.8 449.3,1527.7 452.5,1526.8 455.7,1525.7 458.9,1524.8 462.1,1523.1 465.3,1522.1 468.5,1521.0 471.7,1519.8 474.9,1518.7 478.1,1517.2 481.3,1516.0 484.5,1514.4 487.7,1513.6 490.9,1511.9 494.1,1511.0 497.3,1509.9 500.6,1508.5 503.8,1506.7 507.0,1505.9 510.2,1504.3 513.4,1502.8 516.6,1501.5 519.8,1500.4 523.0,1498.8 526.2,1497.4 529.4,1496.6 532.6,1495.5 535.8,1494.3 539.0,1493.3 542.2,1491.8 545.4,1491.3 548.6,1490.2 551.8,1489.0 555.0,1487.6 558.2,1486.5 561.4,1485.2 564.7,1484.0 567.9,1483.0 571.1,1481.8 574.3,1480.5 577.5,1478.7 580.7,1477.7 583.9,1476.2 587.1,1475.1 590.3,1473.3 593.5,1472.5 596.7,1470.5 599.9,1470.4 603.1,1468.1 606.3,1467.7 609.5,1466.5 612.7,1465.1 615.9,1463.4 619.1,1461.9 622.3,1460.6 625.5,1460.1 628.8,1457.9 632.0,1456.9 635.2,1455.6 638.4,1454.6 641.6,1453.6 644.8,1451.6 648.0,1451.0 651.2,1449.8 654.4,1448.3 657.6,1447.2 660.8,1445.4 664.0,1444.8 667.2,1442.2 670.4,1441.0 673.6,1440.7 676.8,1438.4 680.0,1437.6 683.2,1436.8 686.4,1436.2 689.6,1434.8 692.9,1433.2 696.1,1431.4 699.3,1431.0 702.5,1429.0 705.7,1428.8 708.9,1427.3 712.1,1425.9 715.3,1425.6 718.5,1423.8 721.7,1423.1 724.9,1421.9" fill="none" stroke="#b4bb35" stroke-width="2.6" stroke-linejoin="round"/>
<path d="M240.9 1567.3V1570.2M237.2 1567.3H244.6M237.2 1570.2H244.6M244.2 1563.2V1567.3M240.5 1563.2H247.8M240.5 1567.3H247.8M247.4 1557.6V1565.2M243.7 1557.6H251.1M243.7 1565.2H251.1M250.6 1554.1V1560.2M246.9 1554.1H254.3M246.9 1560.2H254.3M253.8 1547.6V1557.0M250.1 1547.6H257.5M250.1 1557.0H257.5M257.0 1544.7V1551.0M253.3 1544.7H260.7M253.3 1551.0H260.7M260.2 1538.6V1548.3M256.5 1538.6H263.9M256.5 1548.3H263.9M263.4 1533.8V1543.2M259.7 1533.8H267.1M259.7 1543.2H267.1M266.6 1529.6V1539.4M262.9 1529.6H270.3M262.9 1539.4H270.3M269.8 1524.8V1534.0M266.1 1524.8H273.5M266.1 1534.0H273.5M273.0 1519.2V1529.7M269.3 1519.2H276.7M269.3 1529.7H276.7M276.2 1514.1V1523.4M272.5 1514.1H279.9M272.5 1523.4H279.9M279.4 1509.6V1518.6M275.7 1509.6H283.1M275.7 1518.6H283.1M282.6 1504.0V1512.8M278.9 1504.0H286.3M278.9 1512.8H286.3M285.8 1498.9V1508.5M282.1 1498.9H289.5M282.1 1508.5H289.5M289.0 1494.9V1502.4M285.3 1494.9H292.7M285.3 1502.4H292.7M292.2 1489.1V1498.7M288.5 1489.1H295.9M288.5 1498.7H295.9M295.4 1485.3V1492.6M291.7 1485.3H299.1M291.7 1492.6H299.1M298.6 1479.3V1488.8M294.9 1479.3H302.3M294.9 1488.8H302.3M301.8 1473.5V1482.5M298.1 1473.5H305.5M298.1 1482.5H305.5M305.0 1469.9V1478.5M301.3 1469.9H308.7M301.3 1478.5H308.7M308.2 1465.2V1471.9M304.6 1465.2H311.9M304.6 1471.9H311.9M311.5 1458.6V1470.4M307.8 1458.6H315.2M307.8 1470.4H315.2M314.7 1455.7V1463.8M311.0 1455.7H318.4M311.0 1463.8H318.4M317.9 1450.4V1460.1M314.2 1450.4H321.6M314.2 1460.1H321.6M321.1 1447.2V1456.2M317.4 1447.2H324.8M317.4 1456.2H324.8M324.3 1441.2V1452.3M320.6 1441.2H328.0M320.6 1452.3H328.0M327.5 1439.5V1448.0M323.8 1439.5H331.2M323.8 1448.0H331.2M330.7 1432.3V1444.4M327.0 1432.3H334.4M327.0 1444.4H334.4M333.9 1429.8V1439.1M330.2 1429.8H337.6M330.2 1439.1H337.6M337.1 1425.9V1434.3M333.4 1425.9H340.8M333.4 1434.3H340.8M340.3 1423.7V1433.3M336.6 1423.7H344.0M336.6 1433.3H344.0M343.5 1416.1V1427.1M339.8 1416.1H347.2M339.8 1427.1H347.2M346.7 1415.1V1425.8M343.0 1415.1H350.4M343.0 1425.8H350.4M349.9 1410.6V1418.9M346.2 1410.6H353.6M346.2 1418.9H353.6M353.1 1407.8V1416.7M349.4 1407.8H356.8M349.4 1416.7H356.8M356.3 1405.9V1414.3M352.6 1405.9H360.0M352.6 1414.3H360.0M359.5 1402.7V1411.5M355.8 1402.7H363.2M355.8 1411.5H363.2M362.7 1401.0V1410.0M359.0 1401.0H366.4M359.0 1410.0H366.4M365.9 1397.5V1408.7M362.2 1397.5H369.6M362.2 1408.7H369.6M369.1 1395.4V1402.2M365.4 1395.4H372.8M365.4 1402.2H372.8M372.4 1391.9V1399.7M368.7 1391.9H376.1M368.7 1399.7H376.1M375.6 1389.4V1399.4M371.9 1389.4H379.3M371.9 1399.4H379.3M378.8 1387.6V1396.0M375.1 1387.6H382.5M375.1 1396.0H382.5M382.0 1384.4V1391.9M378.3 1384.4H385.7M378.3 1391.9H385.7M385.2 1379.3V1386.7M381.5 1379.3H388.9M381.5 1386.7H388.9M388.4 1375.9V1383.9M384.7 1375.9H392.1M384.7 1383.9H392.1M391.6 1375.6V1384.6M387.9 1375.6H395.3M387.9 1384.6H395.3M394.8 1375.6V1383.1M391.1 1375.6H398.5M391.1 1383.1H398.5M398.0 1371.2V1380.5M394.3 1371.2H401.7M394.3 1380.5H401.7M401.2 1365.2V1377.7M397.5 1365.2H404.9M397.5 1377.7H404.9M404.4 1368.5V1378.4M400.7 1368.5H408.1M400.7 1378.4H408.1M407.6 1365.4V1376.9M403.9 1365.4H411.3M403.9 1376.9H411.3M410.8 1362.3V1374.3M407.1 1362.3H414.5M407.1 1374.3H414.5M414.0 1361.6V1369.0M410.3 1361.6H417.7M410.3 1369.0H417.7M417.2 1362.0V1370.2M413.5 1362.0H420.9M413.5 1370.2H420.9M420.4 1356.0V1363.7M416.7 1356.0H424.1M416.7 1363.7H424.1M423.6 1355.4V1364.4M419.9 1355.4H427.3M419.9 1364.4H427.3M426.8 1353.0V1364.4M423.1 1353.0H430.5M423.1 1364.4H430.5M430.0 1352.0V1362.9M426.3 1352.0H433.7M426.3 1362.9H433.7M433.2 1347.1V1359.3M429.5 1347.1H436.9M429.5 1359.3H436.9M436.4 1346.2V1358.3M432.8 1346.2H440.1M432.8 1358.3H440.1M439.7 1346.1V1356.3M436.0 1346.1H443.4M436.0 1356.3H443.4M442.9 1342.9V1354.7M439.2 1342.9H446.6M439.2 1354.7H446.6M446.1 1342.0V1349.6M442.4 1342.0H449.8M442.4 1349.6H449.8M449.3 1343.4V1353.5M445.6 1343.4H453.0M445.6 1353.5H453.0M452.5 1338.2V1348.4M448.8 1338.2H456.2M448.8 1348.4H456.2M455.7 1338.3V1351.1M452.0 1338.3H459.4M452.0 1351.1H459.4M458.9 1339.4V1347.0M455.2 1339.4H462.6M455.2 1347.0H462.6M462.1 1339.5V1346.8M458.4 1339.5H465.8M458.4 1346.8H465.8M465.3 1334.0V1341.8M461.6 1334.0H469.0M461.6 1341.8H469.0M468.5 1330.7V1343.3M464.8 1330.7H472.2M464.8 1343.3H472.2M471.7 1328.3V1340.6M468.0 1328.3H475.4M468.0 1340.6H475.4M474.9 1331.2V1342.4M471.2 1331.2H478.6M471.2 1342.4H478.6M478.1 1327.5V1339.4M474.4 1327.5H481.8M474.4 1339.4H481.8M481.3 1329.5V1341.7M477.6 1329.5H485.0M477.6 1341.7H485.0M484.5 1331.0V1340.4M480.8 1331.0H488.2M480.8 1340.4H488.2M487.7 1324.4V1334.9M484.0 1324.4H491.4M484.0 1334.9H491.4M490.9 1326.6V1339.2M487.2 1326.6H494.6M487.2 1339.2H494.6M494.1 1327.1V1334.7M490.4 1327.1H497.8M490.4 1334.7H497.8M497.3 1327.7V1337.0M493.6 1327.7H501.0M493.6 1337.0H501.0M500.6 1322.7V1336.5M496.9 1322.7H504.2M496.9 1336.5H504.2M503.8 1322.5V1335.8M500.1 1322.5H507.5M500.1 1335.8H507.5M507.0 1319.4V1329.9M503.3 1319.4H510.7M503.3 1329.9H510.7M510.2 1316.4V1329.3M506.5 1316.4H513.9M506.5 1329.3H513.9M513.4 1320.0V1329.6M509.7 1320.0H517.1M509.7 1329.6H517.1M516.6 1317.0V1331.0M512.9 1317.0H520.3M512.9 1331.0H520.3M519.8 1318.0V1327.2M516.1 1318.0H523.5M516.1 1327.2H523.5M523.0 1316.9V1328.2M519.3 1316.9H526.7M519.3 1328.2H526.7M526.2 1316.7V1328.6M522.5 1316.7H529.9M522.5 1328.6H529.9M529.4 1316.5V1330.3M525.7 1316.5H533.1M525.7 1330.3H533.1M532.6 1318.0V1326.8M528.9 1318.0H536.3M528.9 1326.8H536.3M535.8 1314.7V1325.0M532.1 1314.7H539.5M532.1 1325.0H539.5M539.0 1312.2V1323.8M535.3 1312.2H542.7M535.3 1323.8H542.7M542.2 1313.0V1326.9M538.5 1313.0H545.9M538.5 1326.9H545.9M545.4 1314.9V1328.3M541.7 1314.9H549.1M541.7 1328.3H549.1M548.6 1313.3V1324.5M544.9 1313.3H552.3M544.9 1324.5H552.3M551.8 1312.8V1321.1M548.1 1312.8H555.5M548.1 1321.1H555.5M555.0 1312.8V1322.0M551.3 1312.8H558.7M551.3 1322.0H558.7M558.2 1312.7V1322.0M554.5 1312.7H561.9M554.5 1322.0H561.9M561.4 1315.9V1327.6M557.7 1315.9H565.1M557.7 1327.6H565.1M564.7 1311.5V1321.6M561.0 1311.5H568.4M561.0 1321.6H568.4M567.9 1312.7V1325.2M564.2 1312.7H571.6M564.2 1325.2H571.6M571.1 1314.2V1326.2M567.4 1314.2H574.8M567.4 1326.2H574.8M574.3 1315.6V1327.1M570.6 1315.6H578.0M570.6 1327.1H578.0M577.5 1311.5V1322.2M573.8 1311.5H581.2M573.8 1322.2H581.2M580.7 1315.5V1324.1M577.0 1315.5H584.4M577.0 1324.1H584.4M583.9 1311.2V1322.5M580.2 1311.2H587.6M580.2 1322.5H587.6M587.1 1308.7V1322.3M583.4 1308.7H590.8M583.4 1322.3H590.8M590.3 1312.6V1327.4M586.6 1312.6H594.0M586.6 1327.4H594.0M593.5 1308.0V1322.1M589.8 1308.0H597.2M589.8 1322.1H597.2M596.7 1308.8V1322.1M593.0 1308.8H600.4M593.0 1322.1H600.4M599.9 1309.4V1322.5M596.2 1309.4H603.6M596.2 1322.5H603.6M603.1 1311.4V1321.6M599.4 1311.4H606.8M599.4 1321.6H606.8M606.3 1312.2V1325.8M602.6 1312.2H610.0M602.6 1325.8H610.0M609.5 1311.8V1320.6M605.8 1311.8H613.2M605.8 1320.6H613.2M612.7 1309.3V1322.1M609.0 1309.3H616.4M609.0 1322.1H616.4M615.9 1309.3V1323.3M612.2 1309.3H619.6M612.2 1323.3H619.6M619.1 1308.4V1319.6M615.4 1308.4H622.8M615.4 1319.6H622.8M622.3 1308.0V1320.0M618.6 1308.0H626.0M618.6 1320.0H626.0M625.5 1309.4V1320.8M621.8 1309.4H629.2M621.8 1320.8H629.2M628.8 1306.8V1318.5M625.0 1306.8H632.5M625.0 1318.5H632.5M632.0 1306.7V1317.6M628.3 1306.7H635.7M628.3 1317.6H635.7M635.2 1305.9V1321.0M631.5 1305.9H638.9M631.5 1321.0H638.9M638.4 1307.5V1318.7M634.7 1307.5H642.1M634.7 1318.7H642.1M641.6 1310.2V1322.2M637.9 1310.2H645.3M637.9 1322.2H645.3M644.8 1306.7V1321.2M641.1 1306.7H648.5M641.1 1321.2H648.5M648.0 1303.6V1319.3M644.3 1303.6H651.7M644.3 1319.3H651.7M651.2 1308.0V1319.5M647.5 1308.0H654.9M647.5 1319.5H654.9M654.4 1306.4V1320.4M650.7 1306.4H658.1M650.7 1320.4H658.1M657.6 1311.5V1321.6M653.9 1311.5H661.3M653.9 1321.6H661.3M660.8 1311.0V1322.0M657.1 1311.0H664.5M657.1 1322.0H664.5M664.0 1308.1V1323.8M660.3 1308.1H667.7M660.3 1323.8H667.7M667.2 1309.1V1324.5M663.5 1309.1H670.9M663.5 1324.5H670.9M670.4 1311.6V1321.7M666.7 1311.6H674.1M666.7 1321.7H674.1M673.6 1308.4V1317.7M669.9 1308.4H677.3M669.9 1317.7H677.3M676.8 1313.6V1323.1M673.1 1313.6H680.5M673.1 1323.1H680.5M680.0 1313.2V1324.7M676.3 1313.2H683.7M676.3 1324.7H683.7M683.2 1313.5V1323.3M679.5 1313.5H686.9M679.5 1323.3H686.9M686.4 1312.9V1326.8M682.7 1312.9H690.1M682.7 1326.8H690.1M689.6 1314.8V1325.2M685.9 1314.8H693.3M685.9 1325.2H693.3M692.9 1309.7V1324.9M689.1 1309.7H696.6M689.1 1324.9H696.6M696.1 1310.1V1324.1M692.4 1310.1H699.8M692.4 1324.1H699.8M699.3 1309.8V1324.5M695.6 1309.8H703.0M695.6 1324.5H703.0M702.5 1311.7V1321.5M698.8 1311.7H706.2M698.8 1321.5H706.2M705.7 1314.9V1328.2M702.0 1314.9H709.4M702.0 1328.2H709.4M708.9 1312.8V1325.5M705.2 1312.8H712.6M705.2 1325.5H712.6M712.1 1312.9V1323.0M708.4 1312.9H715.8M708.4 1323.0H715.8M715.3 1312.7V1324.7M711.6 1312.7H719.0M711.6 1324.7H719.0M718.5 1315.4V1326.0M714.8 1315.4H722.2M714.8 1326.0H722.2M721.7 1315.2V1328.4M718.0 1315.2H725.4M718.0 1328.4H725.4M724.9 1312.7V1328.3M721.2 1312.7H728.6M721.2 1328.3H728.6" fill="none" stroke="#22aa57" stroke-width="2.4"/>
<polyline points="148.0,1572.0 151.2,1572.0 154.4,1572.0 157.6,1572.0 160.8,1572.0 164.0,1572.0 167.2,1572.0 170.4,1572.0 173.6,1572.0 176.8,1572.0 180.1,1572.0 183.3,1572.0 186.5,1572.0 189.7,1572.0 192.9,1572.0 196.1,1572.0 199.3,1572.0 202.5,1572.0 205.7,1572.0 208.9,1572.0 212.1,1572.0 215.3,1572.0 218.5,1572.0 221.7,1572.0 224.9,1572.0 228.1,1572.0 231.3,1572.0 234.5,1572.0 237.7,1570.8 240.9,1568.7 244.2,1565.3 247.4,1561.4 250.6,1557.1 253.8,1552.3 257.0,1547.8 260.2,1543.4 263.4,1538.5 266.6,1534.5 269.8,1529.4 273.0,1524.5 276.2,1518.7 279.4,1514.1 282.6,1508.4 285.8,1503.7 289.0,1498.6 292.2,1493.9 295.4,1488.9 298.6,1484.0 301.8,1478.0 305.0,1474.2 308.2,1468.6 311.5,1464.5 314.7,1459.8 317.9,1455.2 321.1,1451.7 324.3,1446.7 327.5,1443.8 330.7,1438.3 333.9,1434.5 337.1,1430.1 340.3,1428.5 343.5,1421.6 346.7,1420.4 349.9,1414.8 353.1,1412.3 356.3,1410.1 359.5,1407.1 362.7,1405.5 365.9,1403.1 369.1,1398.8 372.4,1395.8 375.6,1394.4 378.8,1391.8 382.0,1388.1 385.2,1383.0 388.4,1379.9 391.6,1380.1 394.8,1379.4 398.0,1375.9 401.2,1371.4 404.4,1373.5 407.6,1371.2 410.8,1368.3 414.0,1365.3 417.2,1366.1 420.4,1359.8 423.6,1359.9 426.8,1358.7 430.0,1357.5 433.2,1353.2 436.4,1352.2 439.7,1351.2 442.9,1348.8 446.1,1345.8 449.3,1348.5 452.5,1343.3 455.7,1344.7 458.9,1343.2 462.1,1343.1 465.3,1337.9 468.5,1337.0 471.7,1334.5 474.9,1336.8 478.1,1333.5 481.3,1335.6 484.5,1335.7 487.7,1329.7 490.9,1332.9 494.1,1330.9 497.3,1332.4 500.6,1329.6 503.8,1329.1 507.0,1324.6 510.2,1322.9 513.4,1324.8 516.6,1324.0 519.8,1322.6 523.0,1322.5 526.2,1322.6 529.4,1323.4 532.6,1322.4 535.8,1319.9 539.0,1318.0 542.2,1320.0 545.4,1321.6 548.6,1318.9 551.8,1317.0 555.0,1317.4 558.2,1317.4 561.4,1321.8 564.7,1316.5 567.9,1318.9 571.1,1320.2 574.3,1321.4 577.5,1316.8 580.7,1319.8 583.9,1316.9 587.1,1315.5 590.3,1320.0 593.5,1315.0 596.7,1315.5 599.9,1315.9 603.1,1316.5 606.3,1319.0 609.5,1316.2 612.7,1315.7 615.9,1316.3 619.1,1314.0 622.3,1314.0 625.5,1315.1 628.8,1312.6 632.0,1312.2 635.2,1313.5 638.4,1313.1 641.6,1316.2 644.8,1313.9 648.0,1311.5 651.2,1313.7 654.4,1313.4 657.6,1316.5 660.8,1316.5 664.0,1315.9 667.2,1316.8 670.4,1316.6 673.6,1313.0 676.8,1318.3 680.0,1318.9 683.2,1318.4 686.4,1319.9 689.6,1320.0 692.9,1317.3 696.1,1317.1 699.3,1317.2 702.5,1316.6 705.7,1321.5 708.9,1319.2 712.1,1317.9 715.3,1318.7 718.5,1320.7 721.7,1321.8 724.9,1320.5" fill="none" stroke="#22aa57" stroke-width="2.6" stroke-linejoin="round"/>
<path d="M160.8 1570.5V1572.0M157.1 1570.5H164.5M157.1 1572.0H164.5M164.0 1568.9V1570.3M160.3 1568.9H167.7M160.3 1570.3H167.7M167.2 1566.5V1568.8M163.5 1566.5H170.9M163.5 1568.8H170.9M170.4 1563.6V1565.9M166.7 1563.6H174.1M166.7 1565.9H174.1M173.6 1558.9V1564.7M169.9 1558.9H177.3M169.9 1564.7H177.3M176.8 1554.4V1560.6M173.1 1554.4H180.5M173.1 1560.6H180.5M180.1 1548.4V1553.4M176.4 1548.4H183.8M176.4 1553.4H183.8M183.3 1540.3V1546.4M179.6 1540.3H187.0M179.6 1546.4H187.0M186.5 1530.9V1539.0M182.8 1530.9H190.2M182.8 1539.0H190.2M189.7 1518.3V1528.7M186.0 1518.3H193.4M186.0 1528.7H193.4M192.9 1503.4V1517.4M189.2 1503.4H196.6M189.2 1517.4H196.6M196.1 1491.4V1505.0M192.4 1491.4H199.8M192.4 1505.0H199.8M199.3 1479.2V1494.0M195.6 1479.2H203.0M195.6 1494.0H203.0M202.5 1468.8V1481.3M198.8 1468.8H206.2M198.8 1481.3H206.2M205.7 1450.0V1470.0M202.0 1450.0H209.4M202.0 1470.0H209.4M208.9 1439.4V1457.9M205.2 1439.4H212.6M205.2 1457.9H212.6M212.1 1432.7V1447.3M208.4 1432.7H215.8M208.4 1447.3H215.8M215.3 1422.4V1435.6M211.6 1422.4H219.0M211.6 1435.6H219.0M218.5 1405.5V1422.4M214.8 1405.5H222.2M214.8 1422.4H222.2M221.7 1393.4V1410.4M218.0 1393.4H225.4M218.0 1410.4H225.4M224.9 1379.8V1402.2M221.2 1379.8H228.6M221.2 1402.2H228.6M228.1 1382.6V1398.2M224.4 1382.6H231.8M224.4 1398.2H231.8M231.3 1362.3V1381.1M227.6 1362.3H235.0M227.6 1381.1H235.0M234.5 1352.2V1370.4M230.8 1352.2H238.2M230.8 1370.4H238.2M237.7 1351.8V1373.0M234.0 1351.8H241.4M234.0 1373.0H241.4M240.9 1337.0V1354.2M237.2 1337.0H244.6M237.2 1354.2H244.6M244.2 1335.9V1354.1M240.5 1335.9H247.8M240.5 1354.1H247.8M247.4 1314.2V1337.9M243.7 1314.2H251.1M243.7 1337.9H251.1M250.6 1320.6V1338.3M246.9 1320.6H254.3M246.9 1338.3H254.3M253.8 1314.6V1330.2M250.1 1314.6H257.5M250.1 1330.2H257.5M257.0 1297.8V1315.1M253.3 1297.8H260.7M253.3 1315.1H260.7M260.2 1292.7V1313.7M256.5 1292.7H263.9M256.5 1313.7H263.9M263.4 1289.7V1314.8M259.7 1289.7H267.1M259.7 1314.8H267.1M266.6 1285.3V1309.5M262.9 1285.3H270.3M262.9 1309.5H270.3M269.8 1281.2V1302.8M266.1 1281.2H273.5M266.1 1302.8H273.5M273.0 1276.2V1296.0M269.3 1276.2H276.7M269.3 1296.0H276.7M276.2 1258.4V1285.8M272.5 1258.4H279.9M272.5 1285.8H279.9M279.4 1261.7V1290.3M275.7 1261.7H283.1M275.7 1290.3H283.1M282.6 1261.8V1283.6M278.9 1261.8H286.3M278.9 1283.6H286.3M285.8 1248.9V1274.0M282.1 1248.9H289.5M282.1 1274.0H289.5M289.0 1252.7V1282.7M285.3 1252.7H292.7M285.3 1282.7H292.7M292.2 1253.2V1273.0M288.5 1253.2H295.9M288.5 1273.0H295.9M295.4 1242.5V1263.3M291.7 1242.5H299.1M291.7 1263.3H299.1M298.6 1247.2V1264.5M294.9 1247.2H302.3M294.9 1264.5H302.3M301.8 1243.6V1267.9M298.1 1243.6H305.5M298.1 1267.9H305.5M305.0 1238.9V1263.5M301.3 1238.9H308.7M301.3 1263.5H308.7M308.2 1235.7V1258.2M304.6 1235.7H311.9M304.6 1258.2H311.9M311.5 1225.4V1248.4M307.8 1225.4H315.2M307.8 1248.4H315.2M314.7 1225.4V1253.7M311.0 1225.4H318.4M311.0 1253.7H318.4M317.9 1233.4V1251.7M314.2 1233.4H321.6M314.2 1251.7H321.6M321.1 1217.7V1245.3M317.4 1217.7H324.8M317.4 1245.3H324.8M324.3 1228.5V1247.3M320.6 1228.5H328.0M320.6 1247.3H328.0M327.5 1215.2V1244.5M323.8 1215.2H331.2M323.8 1244.5H331.2M330.7 1220.7V1250.2M327.0 1220.7H334.4M327.0 1250.2H334.4M333.9 1209.6V1234.3M330.2 1209.6H337.6M330.2 1234.3H337.6M337.1 1212.5V1230.2M333.4 1212.5H340.8M333.4 1230.2H340.8M340.3 1211.4V1241.0M336.6 1211.4H344.0M336.6 1241.0H344.0M343.5 1210.6V1236.7M339.8 1210.6H347.2M339.8 1236.7H347.2M346.7 1209.6V1237.3M343.0 1209.6H350.4M343.0 1237.3H350.4M349.9 1209.0V1229.4M346.2 1209.0H353.6M346.2 1229.4H353.6M353.1 1211.3V1237.6M349.4 1211.3H356.8M349.4 1237.6H356.8M356.3 1216.0V1235.5M352.6 1216.0H360.0M352.6 1235.5H360.0M359.5 1205.3V1233.6M355.8 1205.3H363.2M355.8 1233.6H363.2M362.7 1207.8V1228.1M359.0 1207.8H366.4M359.0 1228.1H366.4M365.9 1203.7V1222.9M362.2 1203.7H369.6M362.2 1222.9H369.6M369.1 1213.7V1233.9M365.4 1213.7H372.8M365.4 1233.9H372.8M372.4 1209.0V1226.2M368.7 1209.0H376.1M368.7 1226.2H376.1M375.6 1209.4V1231.0M371.9 1209.4H379.3M371.9 1231.0H379.3M378.8 1205.2V1223.5M375.1 1205.2H382.5M375.1 1223.5H382.5M382.0 1201.7V1230.7M378.3 1201.7H385.7M378.3 1230.7H385.7M385.2 1194.7V1220.5M381.5 1194.7H388.9M381.5 1220.5H388.9M388.4 1198.0V1222.8M384.7 1198.0H392.1M384.7 1222.8H392.1M391.6 1208.8V1225.7M387.9 1208.8H395.3M387.9 1225.7H395.3M394.8 1204.2V1233.6M391.1 1204.2H398.5M391.1 1233.6H398.5M398.0 1195.3V1225.5M394.3 1195.3H401.7M394.3 1225.5H401.7M401.2 1206.3V1231.9M397.5 1206.3H404.9M397.5 1231.9H404.9M404.4 1199.9V1226.9M400.7 1199.9H408.1M400.7 1226.9H408.1M407.6 1200.2V1230.9M403.9 1200.2H411.3M403.9 1230.9H411.3M410.8 1206.5V1230.9M407.1 1206.5H414.5M407.1 1230.9H414.5M414.0 1195.8V1225.2M410.3 1195.8H417.7M410.3 1225.2H417.7M417.2 1197.3V1223.9M413.5 1197.3H420.9M413.5 1223.9H420.9M420.4 1195.2V1224.9M416.7 1195.2H424.1M416.7 1224.9H424.1M423.6 1202.4V1228.9M419.9 1202.4H427.3M419.9 1228.9H427.3M426.8 1194.3V1223.5M423.1 1194.3H430.5M423.1 1223.5H430.5M430.0 1201.1V1229.1M426.3 1201.1H433.7M426.3 1229.1H433.7M433.2 1197.1V1222.0M429.5 1197.1H436.9M429.5 1222.0H436.9M436.4 1201.3V1223.5M432.8 1201.3H440.1M432.8 1223.5H440.1M439.7 1199.7V1225.2M436.0 1199.7H443.4M436.0 1225.2H443.4M442.9 1205.2V1231.2M439.2 1205.2H446.6M439.2 1231.2H446.6M446.1 1191.5V1220.9M442.4 1191.5H449.8M442.4 1220.9H449.8M449.3 1197.8V1220.2M445.6 1197.8H453.0M445.6 1220.2H453.0M452.5 1195.8V1221.0M448.8 1195.8H456.2M448.8 1221.0H456.2M455.7 1197.1V1226.0M452.0 1197.1H459.4M452.0 1226.0H459.4M458.9 1201.7V1229.4M455.2 1201.7H462.6M455.2 1229.4H462.6M462.1 1202.9V1228.4M458.4 1202.9H465.8M458.4 1228.4H465.8M465.3 1201.0V1221.2M461.6 1201.0H469.0M461.6 1221.2H469.0M468.5 1197.5V1221.6M464.8 1197.5H472.2M464.8 1221.6H472.2M471.7 1196.6V1226.8M468.0 1196.6H475.4M468.0 1226.8H475.4M474.9 1208.9V1225.9M471.2 1208.9H478.6M471.2 1225.9H478.6M478.1 1204.6V1231.3M474.4 1204.6H481.8M474.4 1231.3H481.8M481.3 1210.7V1230.0M477.6 1210.7H485.0M477.6 1230.0H485.0M484.5 1199.5V1225.8M480.8 1199.5H488.2M480.8 1225.8H488.2M487.7 1204.8V1234.4M484.0 1204.8H491.4M484.0 1234.4H491.4M490.9 1209.0V1235.4M487.2 1209.0H494.6M487.2 1235.4H494.6M494.1 1213.4V1236.4M490.4 1213.4H497.8M490.4 1236.4H497.8M497.3 1203.0V1232.9M493.6 1203.0H501.0M493.6 1232.9H501.0M500.6 1205.7V1228.0M496.9 1205.7H504.2M496.9 1228.0H504.2M503.8 1209.8V1231.1M500.1 1209.8H507.5M500.1 1231.1H507.5M507.0 1214.1V1237.9M503.3 1214.1H510.7M503.3 1237.9H510.7M510.2 1202.6V1231.4M506.5 1202.6H513.9M506.5 1231.4H513.9M513.4 1203.4V1233.6M509.7 1203.4H517.1M509.7 1233.6H517.1M516.6 1214.3V1233.3M512.9 1214.3H520.3M512.9 1233.3H520.3M519.8 1211.2V1231.8M516.1 1211.2H523.5M516.1 1231.8H523.5M523.0 1213.1V1235.6M519.3 1213.1H526.7M519.3 1235.6H526.7M526.2 1207.2V1230.9M522.5 1207.2H529.9M522.5 1230.9H529.9M529.4 1208.6V1237.1M525.7 1208.6H533.1M525.7 1237.1H533.1M532.6 1202.8V1225.8M528.9 1202.8H536.3M528.9 1225.8H536.3M535.8 1218.6V1235.6M532.1 1218.6H539.5M532.1 1235.6H539.5M539.0 1209.9V1227.1M535.3 1209.9H542.7M535.3 1227.1H542.7M542.2 1209.7V1234.2M538.5 1209.7H545.9M538.5 1234.2H545.9M545.4 1214.5V1242.2M541.7 1214.5H549.1M541.7 1242.2H549.1M548.6 1224.2V1242.6M544.9 1224.2H552.3M544.9 1242.6H552.3M551.8 1220.9V1237.7M548.1 1220.9H555.5M548.1 1237.7H555.5M555.0 1216.1V1235.9M551.3 1216.1H558.7M551.3 1235.9H558.7M558.2 1227.4V1244.5M554.5 1227.4H561.9M554.5 1244.5H561.9M561.4 1219.6V1242.3M557.7 1219.6H565.1M557.7 1242.3H565.1M564.7 1219.3V1244.9M561.0 1219.3H568.4M561.0 1244.9H568.4M567.9 1216.1V1245.9M564.2 1216.1H571.6M564.2 1245.9H571.6M571.1 1224.1V1243.2M567.4 1224.1H574.8M567.4 1243.2H574.8M574.3 1228.0V1246.8M570.6 1228.0H578.0M570.6 1246.8H578.0M577.5 1232.9V1255.9M573.8 1232.9H581.2M573.8 1255.9H581.2M580.7 1227.3V1246.1M577.0 1227.3H584.4M577.0 1246.1H584.4M583.9 1232.8V1253.9M580.2 1232.8H587.6M580.2 1253.9H587.6M587.1 1227.4V1250.9M583.4 1227.4H590.8M583.4 1250.9H590.8M590.3 1227.3V1254.1M586.6 1227.3H594.0M586.6 1254.1H594.0M593.5 1230.3V1257.5M589.8 1230.3H597.2M589.8 1257.5H597.2M596.7 1229.2V1246.7M593.0 1229.2H600.4M593.0 1246.7H600.4M599.9 1224.9V1251.3M596.2 1224.9H603.6M596.2 1251.3H603.6M603.1 1237.3V1260.0M599.4 1237.3H606.8M599.4 1260.0H606.8M606.3 1228.4V1257.4M602.6 1228.4H610.0M602.6 1257.4H610.0M609.5 1234.3V1258.7M605.8 1234.3H613.2M605.8 1258.7H613.2M612.7 1226.8V1254.4M609.0 1226.8H616.4M609.0 1254.4H616.4M615.9 1228.8V1251.8M612.2 1228.8H619.6M612.2 1251.8H619.6M619.1 1234.8V1254.1M615.4 1234.8H622.8M615.4 1254.1H622.8M622.3 1230.0V1258.1M618.6 1230.0H626.0M618.6 1258.1H626.0M625.5 1232.2V1258.9M621.8 1232.2H629.2M621.8 1258.9H629.2M628.8 1236.7V1266.1M625.0 1236.7H632.5M625.0 1266.1H632.5M632.0 1227.0V1257.5M628.3 1227.0H635.7M628.3 1257.5H635.7M635.2 1234.4V1262.3M631.5 1234.4H638.9M631.5 1262.3H638.9M638.4 1236.7V1266.3M634.7 1236.7H642.1M634.7 1266.3H642.1M641.6 1234.4V1256.1M637.9 1234.4H645.3M637.9 1256.1H645.3M644.8 1243.9V1267.0M641.1 1243.9H648.5M641.1 1267.0H648.5M648.0 1236.2V1264.0M644.3 1236.2H651.7M644.3 1264.0H651.7M651.2 1242.7V1259.9M647.5 1242.7H654.9M647.5 1259.9H654.9M654.4 1238.9V1256.6M650.7 1238.9H658.1M650.7 1256.6H658.1M657.6 1238.6V1258.0M653.9 1238.6H661.3M653.9 1258.0H661.3M660.8 1240.5V1268.8M657.1 1240.5H664.5M657.1 1268.8H664.5M664.0 1248.0V1267.1M660.3 1248.0H667.7M660.3 1267.1H667.7M667.2 1239.5V1267.0M663.5 1239.5H670.9M663.5 1267.0H670.9M670.4 1236.2V1263.2M666.7 1236.2H674.1M666.7 1263.2H674.1M673.6 1236.7V1260.9M669.9 1236.7H677.3M669.9 1260.9H677.3M676.8 1240.1V1258.4M673.1 1240.1H680.5M673.1 1258.4H680.5M680.0 1246.5V1271.3M676.3 1246.5H683.7M676.3 1271.3H683.7M683.2 1244.8V1272.6M679.5 1244.8H686.9M679.5 1272.6H686.9M686.4 1242.5V1267.4M682.7 1242.5H690.1M682.7 1267.4H690.1M689.6 1240.3V1265.8M685.9 1240.3H693.3M685.9 1265.8H693.3M692.9 1248.9V1271.8M689.1 1248.9H696.6M689.1 1271.8H696.6M696.1 1239.0V1269.6M692.4 1239.0H699.8M692.4 1269.6H699.8M699.3 1248.0V1277.9M695.6 1248.0H703.0M695.6 1277.9H703.0M702.5 1241.5V1266.6M698.8 1241.5H706.2M698.8 1266.6H706.2M705.7 1249.5V1269.8M702.0 1249.5H709.4M702.0 1269.8H709.4M708.9 1248.3V1273.2M705.2 1248.3H712.6M705.2 1273.2H712.6M712.1 1251.6V1269.5M708.4 1251.6H715.8M708.4 1269.5H715.8M715.3 1244.0V1269.2M711.6 1244.0H719.0M711.6 1269.2H719.0M718.5 1249.6V1279.2M714.8 1249.6H722.2M714.8 1279.2H722.2M721.7 1250.5V1275.5M718.0 1250.5H725.4M718.0 1275.5H725.4M724.9 1252.7V1271.3M721.2 1252.7H728.6M721.2 1271.3H728.6" fill="none" stroke="#63676a" stroke-width="2.4"/>
<polyline points="148.0,1572.0 151.2,1571.8 154.4,1571.6 157.6,1571.4 160.8,1571.2 164.0,1569.6 167.2,1567.7 170.4,1564.8 173.6,1561.8 176.8,1557.5 180.1,1550.9 183.3,1543.4 186.5,1534.9 189.7,1523.5 192.9,1510.4 196.1,1498.2 199.3,1486.6 202.5,1475.1 205.7,1460.0 208.9,1448.6 212.1,1440.0 215.3,1429.0 218.5,1414.0 221.7,1401.9 224.9,1391.0 228.1,1390.4 231.3,1371.7 234.5,1361.3 237.7,1362.4 240.9,1345.6 244.2,1345.0 247.4,1326.1 250.6,1329.4 253.8,1322.4 257.0,1306.5 260.2,1303.2 263.4,1302.3 266.6,1297.4 269.8,1292.0 273.0,1286.1 276.2,1272.1 279.4,1276.0 282.6,1272.7 285.8,1261.4 289.0,1267.7 292.2,1263.1 295.4,1252.9 298.6,1255.8 301.8,1255.8 305.0,1251.2 308.2,1246.9 311.5,1236.9 314.7,1239.5 317.9,1242.6 321.1,1231.5 324.3,1237.9 327.5,1229.8 330.7,1235.4 333.9,1222.0 337.1,1221.4 340.3,1226.2 343.5,1223.7 346.7,1223.4 349.9,1219.2 353.1,1224.5 356.3,1225.8 359.5,1219.5 362.7,1218.0 365.9,1213.3 369.1,1223.8 372.4,1217.6 375.6,1220.2 378.8,1214.4 382.0,1216.2 385.2,1207.6 388.4,1210.4 391.6,1217.3 394.8,1218.9 398.0,1210.4 401.2,1219.1 404.4,1213.4 407.6,1215.5 410.8,1218.7 414.0,1210.5 417.2,1210.6 420.4,1210.0 423.6,1215.7 426.8,1208.9 430.0,1215.1 433.2,1209.6 436.4,1212.4 439.7,1212.4 442.9,1218.2 446.1,1206.2 449.3,1209.0 452.5,1208.4 455.7,1211.6 458.9,1215.5 462.1,1215.7 465.3,1211.1 468.5,1209.5 471.7,1211.7 474.9,1217.4 478.1,1217.9 481.3,1220.3 484.5,1212.6 487.7,1219.6 490.9,1222.2 494.1,1224.9 497.3,1217.9 500.6,1216.9 503.8,1220.5 507.0,1226.0 510.2,1217.0 513.4,1218.5 516.6,1223.8 519.8,1221.5 523.0,1224.3 526.2,1219.1 529.4,1222.8 532.6,1214.3 535.8,1227.1 539.0,1218.5 542.2,1222.0 545.4,1228.4 548.6,1233.4 551.8,1229.3 555.0,1226.0 558.2,1236.0 561.4,1231.0 564.7,1232.1 567.9,1231.0 571.1,1233.7 574.3,1237.4 577.5,1244.4 580.7,1236.7 583.9,1243.4 587.1,1239.2 590.3,1240.7 593.5,1243.9 596.7,1237.9 599.9,1238.1 603.1,1248.6 606.3,1242.9 609.5,1246.5 612.7,1240.6 615.9,1240.3 619.1,1244.5 622.3,1244.1 625.5,1245.5 628.8,1251.4 632.0,1242.3 635.2,1248.3 638.4,1251.5 641.6,1245.3 644.8,1255.5 648.0,1250.1 651.2,1251.3 654.4,1247.8 657.6,1248.3 660.8,1254.6 664.0,1257.5 667.2,1253.3 670.4,1249.7 673.6,1248.8 676.8,1249.2 680.0,1258.9 683.2,1258.7 686.4,1255.0 689.6,1253.0 692.9,1260.4 696.1,1254.3 699.3,1262.9 702.5,1254.0 705.7,1259.6 708.9,1260.8 712.1,1260.5 715.3,1256.6 718.5,1264.4 721.7,1263.0 724.9,1262.0" fill="none" stroke="#63676a" stroke-width="2.6" stroke-linejoin="round"/>
<path d="M154.4 1567.4V1569.2M150.7 1567.4H158.1M150.7 1569.2H158.1M157.6 1564.7V1568.2M153.9 1564.7H161.3M153.9 1568.2H161.3M160.8 1559.4V1563.5M157.1 1559.4H164.5M157.1 1563.5H164.5M164.0 1552.9V1560.3M160.3 1552.9H167.7M160.3 1560.3H167.7M167.2 1546.0V1555.3M163.5 1546.0H170.9M163.5 1555.3H170.9M170.4 1531.6V1547.2M166.7 1531.6H174.1M166.7 1547.2H174.1M173.6 1519.1V1537.5M169.9 1519.1H177.3M169.9 1537.5H177.3M176.8 1507.9V1526.4M173.1 1507.9H180.5M173.1 1526.4H180.5M180.1 1497.0V1513.8M176.4 1497.0H183.8M176.4 1513.8H183.8M183.3 1486.0V1499.6M179.6 1486.0H187.0M179.6 1499.6H187.0M186.5 1471.0V1496.4M182.8 1471.0H190.2M182.8 1496.4H190.2M189.7 1462.4V1478.6M186.0 1462.4H193.4M186.0 1478.6H193.4M192.9 1442.5V1471.2M189.2 1442.5H196.6M189.2 1471.2H196.6M196.1 1437.2V1460.1M192.4 1437.2H199.8M192.4 1460.1H199.8M199.3 1425.5V1447.8M195.6 1425.5H203.0M195.6 1447.8H203.0M202.5 1412.1V1432.1M198.8 1412.1H206.2M198.8 1432.1H206.2M205.7 1401.3V1419.6M202.0 1401.3H209.4M202.0 1419.6H209.4M208.9 1387.7V1417.6M205.2 1387.7H212.6M205.2 1417.6H212.6M212.1 1378.4V1402.3M208.4 1378.4H215.8M208.4 1402.3H215.8M215.3 1368.5V1393.3M211.6 1368.5H219.0M211.6 1393.3H219.0M218.5 1365.2V1383.3M214.8 1365.2H222.2M214.8 1383.3H222.2M221.7 1347.5V1379.7M218.0 1347.5H225.4M218.0 1379.7H225.4M224.9 1341.4V1369.0M221.2 1341.4H228.6M221.2 1369.0H228.6M228.1 1342.0V1365.1M224.4 1342.0H231.8M224.4 1365.1H231.8M231.3 1330.6V1358.3M227.6 1330.6H235.0M227.6 1358.3H235.0M234.5 1332.4V1353.5M230.8 1332.4H238.2M230.8 1353.5H238.2M237.7 1322.6V1347.9M234.0 1322.6H241.4M234.0 1347.9H241.4M240.9 1313.2V1338.3M237.2 1313.2H244.6M237.2 1338.3H244.6M244.2 1312.0V1341.9M240.5 1312.0H247.8M240.5 1341.9H247.8M247.4 1305.5V1330.9M243.7 1305.5H251.1M243.7 1330.9H251.1M250.6 1303.1V1327.2M246.9 1303.1H254.3M246.9 1327.2H254.3M253.8 1294.3V1323.5M250.1 1294.3H257.5M250.1 1323.5H257.5M257.0 1293.6V1319.5M253.3 1293.6H260.7M253.3 1319.5H260.7M260.2 1288.4V1316.5M256.5 1288.4H263.9M256.5 1316.5H263.9M263.4 1290.4V1312.1M259.7 1290.4H267.1M259.7 1312.1H267.1M266.6 1282.6V1309.7M262.9 1282.6H270.3M262.9 1309.7H270.3M269.8 1284.0V1308.5M266.1 1284.0H273.5M266.1 1308.5H273.5M273.0 1282.0V1303.8M269.3 1282.0H276.7M269.3 1303.8H276.7M276.2 1272.6V1304.7M272.5 1272.6H279.9M272.5 1304.7H279.9M279.4 1270.9V1302.5M275.7 1270.9H283.1M275.7 1302.5H283.1M282.6 1272.2V1302.9M278.9 1272.2H286.3M278.9 1302.9H286.3M285.8 1274.1V1293.7M282.1 1274.1H289.5M282.1 1293.7H289.5M289.0 1264.0V1293.6M285.3 1264.0H292.7M285.3 1293.6H292.7M292.2 1273.8V1293.9M288.5 1273.8H295.9M288.5 1293.9H295.9M295.4 1265.4V1286.3M291.7 1265.4H299.1M291.7 1286.3H299.1M298.6 1271.0V1287.0M294.9 1271.0H302.3M294.9 1287.0H302.3M301.8 1267.4V1291.4M298.1 1267.4H305.5M298.1 1291.4H305.5M305.0 1255.4V1284.1M301.3 1255.4H308.7M301.3 1284.1H308.7M308.2 1264.8V1280.3M304.6 1264.8H311.9M304.6 1280.3H311.9M311.5 1260.2V1285.3M307.8 1260.2H315.2M307.8 1285.3H315.2M314.7 1255.7V1278.6M311.0 1255.7H318.4M311.0 1278.6H318.4M317.9 1260.9V1282.0M314.2 1260.9H321.6M314.2 1282.0H321.6M321.1 1257.4V1279.3M317.4 1257.4H324.8M317.4 1279.3H324.8M324.3 1256.5V1281.9M320.6 1256.5H328.0M320.6 1281.9H328.0M327.5 1254.9V1270.6M323.8 1254.9H331.2M323.8 1270.6H331.2M330.7 1255.2V1278.9M327.0 1255.2H334.4M327.0 1278.9H334.4M333.9 1254.2V1278.3M330.2 1254.2H337.6M330.2 1278.3H337.6M337.1 1252.8V1273.7M333.4 1252.8H340.8M333.4 1273.7H340.8M340.3 1253.0V1268.2M336.6 1253.0H344.0M336.6 1268.2H344.0M343.5 1255.5V1271.1M339.8 1255.5H347.2M339.8 1271.1H347.2M346.7 1249.6V1270.1M343.0 1249.6H350.4M343.0 1270.1H350.4M349.9 1253.3V1275.9M346.2 1253.3H353.6M346.2 1275.9H353.6M353.1 1254.4V1269.9M349.4 1254.4H356.8M349.4 1269.9H356.8M356.3 1250.2V1273.8M352.6 1250.2H360.0M352.6 1273.8H360.0M359.5 1251.0V1270.8M355.8 1251.0H363.2M355.8 1270.8H363.2M362.7 1246.1V1269.5M359.0 1246.1H366.4M359.0 1269.5H366.4M365.9 1250.4V1267.9M362.2 1250.4H369.6M362.2 1267.9H369.6M369.1 1249.3V1272.0M365.4 1249.3H372.8M365.4 1272.0H372.8M372.4 1249.3V1268.5M368.7 1249.3H376.1M368.7 1268.5H376.1M375.6 1254.2V1271.1M371.9 1254.2H379.3M371.9 1271.1H379.3M378.8 1249.5V1268.6M375.1 1249.5H382.5M375.1 1268.6H382.5M382.0 1254.7V1275.4M378.3 1254.7H385.7M378.3 1275.4H385.7M385.2 1246.3V1267.9M381.5 1246.3H388.9M381.5 1267.9H388.9M388.4 1245.5V1268.4M384.7 1245.5H392.1M384.7 1268.4H392.1M391.6 1249.1V1270.6M387.9 1249.1H395.3M387.9 1270.6H395.3M394.8 1254.0V1267.9M391.1 1254.0H398.5M391.1 1267.9H398.5M398.0 1252.8V1269.1M394.3 1252.8H401.7M394.3 1269.1H401.7M401.2 1245.4V1265.9M397.5 1245.4H404.9M397.5 1265.9H404.9M404.4 1249.0V1268.7M400.7 1249.0H408.1M400.7 1268.7H408.1M407.6 1252.8V1271.6M403.9 1252.8H411.3M403.9 1271.6H411.3M410.8 1248.4V1265.6M407.1 1248.4H414.5M407.1 1265.6H414.5M414.0 1252.0V1269.3M410.3 1252.0H417.7M410.3 1269.3H417.7M417.2 1249.6V1270.0M413.5 1249.6H420.9M413.5 1270.0H420.9M420.4 1254.2V1268.0M416.7 1254.2H424.1M416.7 1268.0H424.1M423.6 1249.1V1269.6M419.9 1249.1H427.3M419.9 1269.6H427.3M426.8 1245.2V1265.3M423.1 1245.2H430.5M423.1 1265.3H430.5M430.0 1245.1V1261.9M426.3 1245.1H433.7M426.3 1261.9H433.7M433.2 1252.0V1270.2M429.5 1252.0H436.9M429.5 1270.2H436.9M436.4 1250.1V1264.9M432.8 1250.1H440.1M432.8 1264.9H440.1M439.7 1247.6V1264.2M436.0 1247.6H443.4M436.0 1264.2H443.4M442.9 1251.7V1268.1M439.2 1251.7H446.6M439.2 1268.1H446.6M446.1 1247.6V1260.6M442.4 1247.6H449.8M442.4 1260.6H449.8M449.3 1251.5V1267.5M445.6 1251.5H453.0M445.6 1267.5H453.0M452.5 1252.4V1270.0M448.8 1252.4H456.2M448.8 1270.0H456.2M455.7 1249.9V1272.8M452.0 1249.9H459.4M452.0 1272.8H459.4M458.9 1248.9V1269.5M455.2 1248.9H462.6M455.2 1269.5H462.6M462.1 1253.5V1271.5M458.4 1253.5H465.8M458.4 1271.5H465.8M465.3 1247.9V1270.0M461.6 1247.9H469.0M461.6 1270.0H469.0M468.5 1253.4V1271.3M464.8 1253.4H472.2M464.8 1271.3H472.2M471.7 1246.4V1268.4M468.0 1246.4H475.4M468.0 1268.4H475.4M474.9 1253.8V1272.6M471.2 1253.8H478.6M471.2 1272.6H478.6M478.1 1250.2V1267.4M474.4 1250.2H481.8M474.4 1267.4H481.8M481.3 1249.8V1270.0M477.6 1249.8H485.0M477.6 1270.0H485.0M484.5 1248.2V1267.1M480.8 1248.2H488.2M480.8 1267.1H488.2M487.7 1252.1V1268.8M484.0 1252.1H491.4M484.0 1268.8H491.4M490.9 1252.2V1268.6M487.2 1252.2H494.6M487.2 1268.6H494.6M494.1 1254.3V1271.1M490.4 1254.3H497.8M490.4 1271.1H497.8M497.3 1257.5V1271.9M493.6 1257.5H501.0M493.6 1271.9H501.0M500.6 1256.4V1275.3M496.9 1256.4H504.2M496.9 1275.3H504.2M503.8 1259.3V1272.7M500.1 1259.3H507.5M500.1 1272.7H507.5M507.0 1253.6V1269.6M503.3 1253.6H510.7M503.3 1269.6H510.7M510.2 1251.2V1270.6M506.5 1251.2H513.9M506.5 1270.6H513.9M513.4 1254.8V1277.3M509.7 1254.8H517.1M509.7 1277.3H517.1M516.6 1253.8V1270.2M512.9 1253.8H520.3M512.9 1270.2H520.3M519.8 1259.2V1279.1M516.1 1259.2H523.5M516.1 1279.1H523.5M523.0 1253.5V1273.1M519.3 1253.5H526.7M519.3 1273.1H526.7M526.2 1255.5V1272.9M522.5 1255.5H529.9M522.5 1272.9H529.9M529.4 1258.2V1274.0M525.7 1258.2H533.1M525.7 1274.0H533.1M532.6 1259.8V1276.8M528.9 1259.8H536.3M528.9 1276.8H536.3M535.8 1260.3V1277.6M532.1 1260.3H539.5M532.1 1277.6H539.5M539.0 1258.2V1273.1M535.3 1258.2H542.7M535.3 1273.1H542.7M542.2 1263.4V1279.2M538.5 1263.4H545.9M538.5 1279.2H545.9M545.4 1255.6V1274.5M541.7 1255.6H549.1M541.7 1274.5H549.1M548.6 1262.2V1284.7M544.9 1262.2H552.3M544.9 1284.7H552.3M551.8 1255.5V1277.9M548.1 1255.5H555.5M548.1 1277.9H555.5M555.0 1260.8V1282.3M551.3 1260.8H558.7M551.3 1282.3H558.7M558.2 1265.1V1279.9M554.5 1265.1H561.9M554.5 1279.9H561.9M561.4 1256.7V1279.5M557.7 1256.7H565.1M557.7 1279.5H565.1M564.7 1262.6V1286.0M561.0 1262.6H568.4M561.0 1286.0H568.4M567.9 1267.9V1284.8M564.2 1267.9H571.6M564.2 1284.8H571.6M571.1 1269.2V1284.7M567.4 1269.2H574.8M567.4 1284.7H574.8M574.3 1265.2V1287.0M570.6 1265.2H578.0M570.6 1287.0H578.0M577.5 1267.6V1283.3M573.8 1267.6H581.2M573.8 1283.3H581.2M580.7 1268.3V1285.5M577.0 1268.3H584.4M577.0 1285.5H584.4M583.9 1261.1V1281.9M580.2 1261.1H587.6M580.2 1281.9H587.6M587.1 1267.7V1289.4M583.4 1267.7H590.8M583.4 1289.4H590.8M590.3 1265.7V1284.8M586.6 1265.7H594.0M586.6 1284.8H594.0M593.5 1265.1V1286.6M589.8 1265.1H597.2M589.8 1286.6H597.2M596.7 1264.0V1283.9M593.0 1264.0H600.4M593.0 1283.9H600.4M599.9 1266.1V1285.6M596.2 1266.1H603.6M596.2 1285.6H603.6M603.1 1267.0V1285.6M599.4 1267.0H606.8M599.4 1285.6H606.8M606.3 1268.6V1288.8M602.6 1268.6H610.0M602.6 1288.8H610.0M609.5 1267.9V1285.3M605.8 1267.9H613.2M605.8 1285.3H613.2M612.7 1265.2V1285.3M609.0 1265.2H616.4M609.0 1285.3H616.4M615.9 1265.0V1287.6M612.2 1265.0H619.6M612.2 1287.6H619.6M619.1 1264.6V1287.1M615.4 1264.6H622.8M615.4 1287.1H622.8M622.3 1271.3V1290.5M618.6 1271.3H626.0M618.6 1290.5H626.0M625.5 1267.9V1291.5M621.8 1267.9H629.2M621.8 1291.5H629.2M628.8 1270.1V1286.1M625.0 1270.1H632.5M625.0 1286.1H632.5M632.0 1277.4V1293.1M628.3 1277.4H635.7M628.3 1293.1H635.7M635.2 1277.9V1293.1M631.5 1277.9H638.9M631.5 1293.1H638.9M638.4 1277.7V1295.3M634.7 1277.7H642.1M634.7 1295.3H642.1M641.6 1274.5V1297.6M637.9 1274.5H645.3M637.9 1297.6H645.3M644.8 1268.7V1295.4M641.1 1268.7H648.5M641.1 1295.4H648.5M648.0 1267.4V1291.5M644.3 1267.4H651.7M644.3 1291.5H651.7M651.2 1272.4V1287.5M647.5 1272.4H654.9M647.5 1287.5H654.9M654.4 1273.4V1299.9M650.7 1273.4H658.1M650.7 1299.9H658.1M657.6 1276.2V1293.6M653.9 1276.2H661.3M653.9 1293.6H661.3M660.8 1272.7V1293.0M657.1 1272.7H664.5M657.1 1293.0H664.5M664.0 1275.6V1294.6M660.3 1275.6H667.7M660.3 1294.6H667.7M667.2 1280.1V1296.2M663.5 1280.1H670.9M663.5 1296.2H670.9M670.4 1271.6V1299.0M666.7 1271.6H674.1M666.7 1299.0H674.1M673.6 1269.9V1295.0M669.9 1269.9H677.3M669.9 1295.0H677.3M676.8 1273.3V1293.3M673.1 1273.3H680.5M673.1 1293.3H680.5M680.0 1275.6V1303.0M676.3 1275.6H683.7M676.3 1303.0H683.7M683.2 1275.3V1299.4M679.5 1275.3H686.9M679.5 1299.4H686.9M686.4 1283.9V1302.3M682.7 1283.9H690.1M682.7 1302.3H690.1M689.6 1277.0V1302.2M685.9 1277.0H693.3M685.9 1302.2H693.3M692.9 1274.5V1300.1M689.1 1274.5H696.6M689.1 1300.1H696.6M696.1 1281.8V1302.5M692.4 1281.8H699.8M692.4 1302.5H699.8M699.3 1273.8V1302.7M695.6 1273.8H703.0M695.6 1302.7H703.0M702.5 1283.0V1301.4M698.8 1283.0H706.2M698.8 1301.4H706.2M705.7 1280.0V1303.1M702.0 1280.0H709.4M702.0 1303.1H709.4M708.9 1285.0V1304.0M705.2 1285.0H712.6M705.2 1304.0H712.6M712.1 1282.8V1307.1M708.4 1282.8H715.8M708.4 1307.1H715.8M715.3 1286.1V1309.6M711.6 1286.1H719.0M711.6 1309.6H719.0M718.5 1278.1V1304.5M714.8 1278.1H722.2M714.8 1304.5H722.2M721.7 1287.0V1309.0M718.0 1287.0H725.4M718.0 1309.0H725.4M724.9 1286.7V1313.2M721.2 1286.7H728.6M721.2 1313.2H728.6" fill="none" stroke="#e8283c" stroke-width="2.4"/>
<polyline points="148.0,1572.0 151.2,1570.1 154.4,1568.3 157.6,1566.4 160.8,1561.4 164.0,1556.6 167.2,1550.7 170.4,1539.4 173.6,1528.3 176.8,1517.1 180.1,1505.4 183.3,1492.8 186.5,1483.7 189.7,1470.5 192.9,1456.9 196.1,1448.6 199.3,1436.6 202.5,1422.1 205.7,1410.5 208.9,1402.7 212.1,1390.4 215.3,1380.9 218.5,1374.2 221.7,1363.6 224.9,1355.2 228.1,1353.5 231.3,1344.4 234.5,1342.9 237.7,1335.3 240.9,1325.8 244.2,1327.0 247.4,1318.2 250.6,1315.1 253.8,1308.9 257.0,1306.5 260.2,1302.5 263.4,1301.3 266.6,1296.1 269.8,1296.2 273.0,1292.9 276.2,1288.7 279.4,1286.7 282.6,1287.5 285.8,1283.9 289.0,1278.8 292.2,1283.8 295.4,1275.8 298.6,1279.0 301.8,1279.4 305.0,1269.8 308.2,1272.5 311.5,1272.7 314.7,1267.1 317.9,1271.4 321.1,1268.3 324.3,1269.2 327.5,1262.8 330.7,1267.1 333.9,1266.2 337.1,1263.2 340.3,1260.6 343.5,1263.3 346.7,1259.8 349.9,1264.6 353.1,1262.1 356.3,1262.0 359.5,1260.9 362.7,1257.8 365.9,1259.2 369.1,1260.7 372.4,1258.9 375.6,1262.7 378.8,1259.0 382.0,1265.1 385.2,1257.1 388.4,1256.9 391.6,1259.8 394.8,1260.9 398.0,1260.9 401.2,1255.7 404.4,1258.8 407.6,1262.2 410.8,1257.0 414.0,1260.7 417.2,1259.8 420.4,1261.1 423.6,1259.4 426.8,1255.3 430.0,1253.5 433.2,1261.1 436.4,1257.5 439.7,1255.9 442.9,1259.9 446.1,1254.1 449.3,1259.5 452.5,1261.2 455.7,1261.3 458.9,1259.2 462.1,1262.5 465.3,1258.9 468.5,1262.3 471.7,1257.4 474.9,1263.2 478.1,1258.8 481.3,1259.9 484.5,1257.6 487.7,1260.5 490.9,1260.4 494.1,1262.7 497.3,1264.7 500.6,1265.8 503.8,1266.0 507.0,1261.6 510.2,1260.9 513.4,1266.0 516.6,1262.0 519.8,1269.1 523.0,1263.3 526.2,1264.2 529.4,1266.1 532.6,1268.3 535.8,1268.9 539.0,1265.7 542.2,1271.3 545.4,1265.0 548.6,1273.4 551.8,1266.7 555.0,1271.6 558.2,1272.5 561.4,1268.1 564.7,1274.3 567.9,1276.4 571.1,1276.9 574.3,1276.1 577.5,1275.4 580.7,1276.9 583.9,1271.5 587.1,1278.6 590.3,1275.3 593.5,1275.8 596.7,1273.9 599.9,1275.8 603.1,1276.3 606.3,1278.7 609.5,1276.6 612.7,1275.2 615.9,1276.3 619.1,1275.9 622.3,1280.9 625.5,1279.7 628.8,1278.1 632.0,1285.3 635.2,1285.5 638.4,1286.5 641.6,1286.0 644.8,1282.1 648.0,1279.5 651.2,1280.0 654.4,1286.6 657.6,1284.9 660.8,1282.8 664.0,1285.1 667.2,1288.1 670.4,1285.3 673.6,1282.4 676.8,1283.3 680.0,1289.3 683.2,1287.3 686.4,1293.1 689.6,1289.6 692.9,1287.3 696.1,1292.2 699.3,1288.2 702.5,1292.2 705.7,1291.6 708.9,1294.5 712.1,1294.9 715.3,1297.8 718.5,1291.3 721.7,1298.0 724.9,1300.0" fill="none" stroke="#e8283c" stroke-width="2.6" stroke-linejoin="round"/>
<line x1="772.30" y1="1261.00" x2="809.20" y2="1261.00" stroke="#e8283c" stroke-width="2.2" stroke-linecap="butt"/>
<circle cx="790.3" cy="1261" r="2" fill="#e8283c"/>
<text transform="translate(814.00 1271.50)" font-size="29.2" font-weight="normal" text-anchor="start" fill="#000" ><tspan font-style="italic">Su</tspan>CphA1 Tetramer +</text>
<line x1="772.30" y1="1307.70" x2="809.20" y2="1307.70" stroke="#63676a" stroke-width="2.2" stroke-linecap="butt"/>
<circle cx="790.3" cy="1307.7" r="2" fill="#63676a"/>
<text transform="translate(814.00 1318.20)" font-size="29.2" font-weight="normal" text-anchor="start" fill="#000" ><tspan font-style="italic">Su</tspan>CphA1 Dimer +</text>
<line x1="772.30" y1="1354.40" x2="809.20" y2="1354.40" stroke="#22aa57" stroke-width="2.2" stroke-linecap="butt"/>
<circle cx="790.3" cy="1354.4" r="2" fill="#22aa57"/>
<text transform="translate(814.00 1364.90)" font-size="29.2" font-weight="normal" text-anchor="start" fill="#000" ><tspan font-style="italic">Su</tspan>CphA1 Tetramer -</text>
<line x1="772.30" y1="1400.80" x2="809.20" y2="1400.80" stroke="#b4bb35" stroke-width="2.2" stroke-linecap="butt"/>
<circle cx="790.3" cy="1400.8" r="2" fill="#b4bb35"/>
<text transform="translate(814.00 1411.30)" font-size="29.2" font-weight="normal" text-anchor="start" fill="#000" ><tspan font-style="italic">Su</tspan>CphA1 Dimer -</text>
</svg>
</body></html>
